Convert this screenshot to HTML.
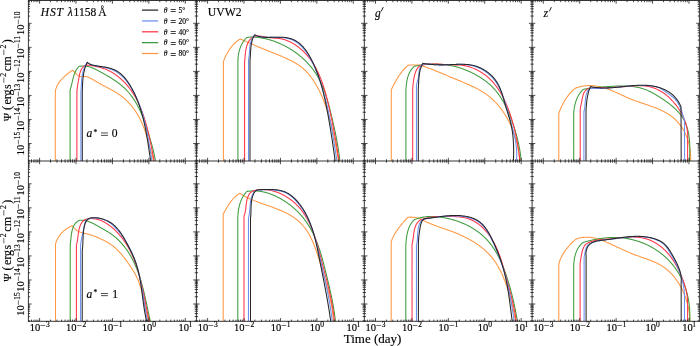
<!DOCTYPE html>
<html><head><meta charset="utf-8"><style>
html,body{margin:0;padding:0;background:#fff;width:700px;height:346px;overflow:hidden;font-family:"Liberation Serif",serif;}
svg{display:block;will-change:transform;}
</style></head><body>
<svg xmlns="http://www.w3.org/2000/svg" width="700" height="346" viewBox="0 0 700 346">
<rect width="700" height="346" fill="#fff"/>
<defs>
<clipPath id="c00"><rect x="28.40" y="0.50" width="168.00" height="160.50"/></clipPath>
<clipPath id="c01"><rect x="196.40" y="0.50" width="167.90" height="160.50"/></clipPath>
<clipPath id="c02"><rect x="364.30" y="0.50" width="167.80" height="160.50"/></clipPath>
<clipPath id="c03"><rect x="532.10" y="0.50" width="167.30" height="160.50"/></clipPath>
<clipPath id="c10"><rect x="28.40" y="161.00" width="168.00" height="160.30"/></clipPath>
<clipPath id="c11"><rect x="196.40" y="161.00" width="167.90" height="160.30"/></clipPath>
<clipPath id="c12"><rect x="364.30" y="161.00" width="167.80" height="160.30"/></clipPath>
<clipPath id="c13"><rect x="532.10" y="161.00" width="167.30" height="160.30"/></clipPath>
</defs>
<g clip-path="url(#c00)" fill="none" stroke-width="1.05" stroke-linejoin="round">
<path d="M55.30,162.00 L55.30,92.00 L55.30,92.00 L55.39,91.29 L55.51,90.58 L55.65,89.89 L55.82,89.22 L56.01,88.55 L56.23,87.89 L56.46,87.25 L56.72,86.62 L57.00,85.99 L57.29,85.38 L57.61,84.78 L57.95,84.18 L58.30,83.60 L58.67,83.03 L59.05,82.46 L59.45,81.91 L59.87,81.36 L60.30,80.82 L60.74,80.30 L61.19,79.77 L61.66,79.26 L62.13,78.75 L62.62,78.26 L63.11,77.76 L63.62,77.28 L64.13,76.80 L64.65,76.33 L65.17,75.87 L65.70,75.41 L66.23,74.96 L66.77,74.51 L67.31,74.07 L67.86,73.63 L68.40,73.20 L68.95,72.77 L69.49,72.35 L70.04,71.93 L70.58,71.52 L71.13,71.11 L71.66,70.70 L72.20,70.30 L72.20,70.30 L72.75,70.63 L73.28,71.02 L73.80,71.47 L74.30,71.95 L74.80,72.45 L75.29,72.97 L75.78,73.49 L76.28,73.99 L76.78,74.48 L77.29,74.94 L77.82,75.34 L78.37,75.69 L78.94,75.98 L79.54,76.18 L80.15,76.33 L80.79,76.41 L81.44,76.46 L82.10,76.48 L82.76,76.49 L83.43,76.49 L84.09,76.50 L84.75,76.53 L85.40,76.59 L86.03,76.69 L86.66,76.82 L87.28,76.98 L87.90,77.16 L88.50,77.37 L89.10,77.60 L89.69,77.85 L90.28,78.12 L90.87,78.41 L91.45,78.72 L92.02,79.03 L92.60,79.36 L93.17,79.70 L93.74,80.04 L94.32,80.39 L94.89,80.74 L95.46,81.10 L96.04,81.45 L96.62,81.80 L97.20,82.15 L97.78,82.49 L98.37,82.83 L98.96,83.16 L99.55,83.50 L100.14,83.83 L100.74,84.15 L101.33,84.48 L101.93,84.80 L102.53,85.13 L103.13,85.45 L103.73,85.77 L104.33,86.08 L104.94,86.40 L105.54,86.72 L106.14,87.03 L106.74,87.35 L107.34,87.67 L107.95,87.99 L108.55,88.30 L109.15,88.62 L109.74,88.94 L110.34,89.26 L110.94,89.59 L111.53,89.91 L112.12,90.24 L112.72,90.57 L113.30,90.90 L113.89,91.24 L114.47,91.58 L115.05,91.92 L115.63,92.26 L116.20,92.61 L116.77,92.97 L117.34,93.32 L117.91,93.69 L118.47,94.05 L119.02,94.43 L119.57,94.80 L120.12,95.19 L120.66,95.58 L121.20,95.97 L121.73,96.37 L122.25,96.78 L122.78,97.19 L123.29,97.61 L123.80,98.04 L124.31,98.47 L124.81,98.91 L125.31,99.35 L125.80,99.80 L126.28,100.26 L126.76,100.72 L127.24,101.18 L127.71,101.65 L128.18,102.13 L128.64,102.61 L129.09,103.10 L129.54,103.59 L129.99,104.09 L130.43,104.59 L130.86,105.10 L131.29,105.61 L131.72,106.12 L132.14,106.64 L132.55,107.17 L132.96,107.70 L133.37,108.23 L133.77,108.77 L134.16,109.31 L134.55,109.85 L134.94,110.40 L135.32,110.96 L135.69,111.52 L136.06,112.08 L136.42,112.64 L136.78,113.21 L137.14,113.78 L137.49,114.36 L137.83,114.94 L138.17,115.52 L138.51,116.10 L138.83,116.69 L139.16,117.28 L139.48,117.88 L139.79,118.48 L140.10,119.08 L140.41,119.68 L140.71,120.28 L141.00,120.89 L141.29,121.50 L141.57,122.11 L141.85,122.73 L142.13,123.35 L142.40,123.97 L142.66,124.59 L142.92,125.21 L143.18,125.84 L143.43,126.46 L143.67,127.09 L143.91,127.72 L144.14,128.35 L144.37,128.99 L144.60,129.62 L144.82,130.26 L145.03,130.90 L145.24,131.53 L145.45,132.17 L145.65,132.81 L145.85,133.46 L146.04,134.10 L146.23,134.74 L146.42,135.39 L146.60,136.03 L146.78,136.68 L146.96,137.32 L147.14,137.97 L147.32,138.61 L147.49,139.26 L147.66,139.91 L147.84,140.56 L148.01,141.20 L148.18,141.85 L148.36,142.50 L148.53,143.15 L148.71,143.79 L148.89,144.44 L149.06,145.09 L149.24,145.73 L149.43,146.38 L149.61,147.02 L149.80,147.67 L149.99,148.31 L150.19,148.95 L150.39,149.60 L150.59,150.24 L150.80,150.88 L151.01,151.52 L151.22,152.16 L151.43,152.80 L151.64,153.44 L151.84,154.08 L152.04,154.73 L152.23,155.37 L152.41,156.02 L152.58,156.67 L152.74,157.32 L152.89,157.98 L153.02,158.64 L153.14,159.30 L153.23,159.97 L153.31,160.64 L153.37,161.32 L153.40,162.00" stroke="#ff9740"/>
<path d="M70.10,162.00 L70.10,90.00 L70.10,90.00 L70.31,89.36 L70.52,88.72 L70.71,88.07 L70.90,87.42 L71.08,86.76 L71.25,86.10 L71.41,85.43 L71.58,84.76 L71.73,84.09 L71.89,83.41 L72.04,82.74 L72.20,82.06 L72.35,81.38 L72.51,80.71 L72.67,80.03 L72.83,79.36 L73.00,78.68 L73.17,78.01 L73.35,77.35 L73.54,76.68 L73.74,76.02 L73.95,75.37 L74.16,74.72 L74.39,74.07 L74.63,73.44 L74.89,72.81 L75.16,72.19 L75.44,71.57 L75.75,70.97 L76.07,70.37 L76.41,69.78 L76.77,69.21 L77.15,68.64 L77.55,68.09 L77.98,67.55 L78.43,67.02 L78.90,66.50 L78.90,66.50 L79.60,66.34 L80.30,66.21 L80.99,66.11 L81.68,66.03 L82.35,65.98 L83.02,65.95 L83.69,65.95 L84.34,65.97 L84.99,66.01 L85.64,66.07 L86.28,66.15 L86.92,66.25 L87.55,66.37 L88.18,66.51 L88.80,66.67 L89.42,66.84 L90.03,67.02 L90.65,67.23 L91.26,67.44 L91.86,67.67 L92.47,67.91 L93.07,68.16 L93.66,68.42 L94.26,68.69 L94.86,68.97 L95.45,69.26 L96.04,69.56 L96.64,69.86 L97.23,70.17 L97.82,70.48 L98.41,70.80 L99.00,71.12 L99.59,71.44 L100.19,71.76 L100.78,72.09 L101.37,72.41 L101.97,72.74 L102.56,73.07 L103.15,73.40 L103.75,73.73 L104.34,74.07 L104.94,74.40 L105.53,74.74 L106.12,75.08 L106.72,75.42 L107.31,75.76 L107.90,76.11 L108.49,76.46 L109.07,76.81 L109.66,77.16 L110.24,77.52 L110.83,77.88 L111.41,78.24 L111.98,78.60 L112.56,78.97 L113.13,79.34 L113.70,79.71 L114.27,80.09 L114.84,80.47 L115.40,80.85 L115.96,81.24 L116.51,81.63 L117.06,82.02 L117.61,82.42 L118.16,82.82 L118.70,83.22 L119.23,83.63 L119.76,84.04 L120.29,84.46 L120.81,84.88 L121.33,85.30 L121.84,85.73 L122.35,86.17 L122.85,86.60 L123.35,87.05 L123.84,87.49 L124.33,87.95 L124.81,88.40 L125.28,88.87 L125.75,89.33 L126.21,89.80 L126.67,90.28 L127.12,90.76 L127.57,91.25 L128.01,91.74 L128.44,92.23 L128.87,92.73 L129.29,93.23 L129.71,93.74 L130.12,94.25 L130.53,94.77 L130.93,95.29 L131.33,95.81 L131.72,96.34 L132.11,96.87 L132.49,97.41 L132.87,97.95 L133.24,98.49 L133.60,99.04 L133.97,99.59 L134.33,100.14 L134.68,100.70 L135.03,101.26 L135.37,101.82 L135.71,102.39 L136.05,102.96 L136.38,103.53 L136.71,104.11 L137.03,104.69 L137.35,105.27 L137.66,105.86 L137.98,106.45 L138.28,107.04 L138.59,107.63 L138.89,108.23 L139.18,108.83 L139.47,109.43 L139.76,110.03 L140.05,110.64 L140.33,111.24 L140.61,111.85 L140.88,112.47 L141.15,113.08 L141.42,113.70 L141.69,114.32 L141.95,114.94 L142.21,115.56 L142.46,116.18 L142.72,116.81 L142.97,117.43 L143.22,118.06 L143.46,118.69 L143.70,119.32 L143.94,119.96 L144.18,120.59 L144.41,121.23 L144.65,121.86 L144.87,122.50 L145.10,123.14 L145.33,123.78 L145.55,124.42 L145.77,125.06 L145.99,125.70 L146.21,126.35 L146.42,126.99 L146.63,127.64 L146.84,128.28 L147.05,128.93 L147.26,129.57 L147.47,130.22 L147.67,130.86 L147.87,131.51 L148.08,132.16 L148.28,132.80 L148.47,133.45 L148.67,134.10 L148.87,134.74 L149.06,135.39 L149.26,136.03 L149.45,136.68 L149.64,137.33 L149.83,137.97 L150.02,138.61 L150.21,139.26 L150.40,139.90 L150.59,140.54 L150.77,141.18 L150.96,141.83 L151.15,142.47 L151.33,143.11 L151.51,143.75 L151.69,144.39 L151.87,145.03 L152.05,145.67 L152.23,146.31 L152.40,146.95 L152.57,147.59 L152.74,148.23 L152.91,148.87 L153.07,149.52 L153.23,150.16 L153.39,150.80 L153.55,151.45 L153.70,152.10 L153.85,152.74 L153.99,153.39 L154.14,154.04 L154.27,154.70 L154.41,155.35 L154.54,156.00 L154.66,156.66 L154.79,157.32 L154.90,157.98 L155.01,158.65 L155.12,159.31 L155.22,159.98 L155.32,160.65 L155.41,161.32 L155.50,162.00" stroke="#3d9b3d"/>
<path d="M76.90,162.00 L76.90,92.00 L76.90,92.00 L76.94,91.27 L76.98,90.56 L77.04,89.86 L77.10,89.19 L77.18,88.53 L77.26,87.88 L77.34,87.24 L77.43,86.61 L77.53,85.99 L77.64,85.37 L77.74,84.75 L77.85,84.13 L77.96,83.51 L78.08,82.88 L78.19,82.24 L78.31,81.60 L78.42,80.95 L78.54,80.28 L78.65,79.60 L78.76,78.90 L78.88,78.20 L79.00,77.49 L79.12,76.77 L79.26,76.06 L79.40,75.34 L79.55,74.63 L79.72,73.93 L79.90,73.23 L80.09,72.54 L80.31,71.87 L80.54,71.22 L80.80,70.58 L81.08,69.96 L81.38,69.36 L81.71,68.80 L82.06,68.26 L82.45,67.75 L82.86,67.27 L83.30,66.84 L83.76,66.45 L84.24,66.10 L84.76,65.80 L85.29,65.56 L85.85,65.36 L86.43,65.23 L87.03,65.16 L87.65,65.14 L88.28,65.16 L88.93,65.22 L89.58,65.30 L90.24,65.40 L90.90,65.51 L91.56,65.62 L92.22,65.73 L92.88,65.85 L93.54,65.97 L94.20,66.10 L94.86,66.23 L95.52,66.36 L96.18,66.50 L96.83,66.64 L97.49,66.79 L98.14,66.95 L98.79,67.11 L99.44,67.28 L100.09,67.45 L100.74,67.63 L101.38,67.82 L102.02,68.01 L102.66,68.21 L103.30,68.42 L103.93,68.64 L104.56,68.87 L105.19,69.10 L105.82,69.35 L106.44,69.60 L107.06,69.86 L107.67,70.13 L108.28,70.42 L108.89,70.71 L109.50,71.01 L110.10,71.32 L110.69,71.64 L111.29,71.97 L111.88,72.31 L112.46,72.66 L113.04,73.01 L113.61,73.37 L114.19,73.74 L114.75,74.12 L115.31,74.51 L115.87,74.90 L116.42,75.30 L116.97,75.71 L117.51,76.12 L118.05,76.54 L118.58,76.96 L119.11,77.39 L119.63,77.82 L120.15,78.26 L120.66,78.71 L121.16,79.16 L121.66,79.61 L122.15,80.07 L122.64,80.53 L123.12,81.00 L123.60,81.47 L124.07,81.95 L124.53,82.43 L124.99,82.91 L125.44,83.40 L125.89,83.89 L126.33,84.38 L126.77,84.88 L127.20,85.38 L127.63,85.89 L128.05,86.40 L128.47,86.91 L128.88,87.43 L129.28,87.95 L129.68,88.47 L130.08,89.00 L130.47,89.53 L130.86,90.06 L131.24,90.60 L131.61,91.14 L131.98,91.68 L132.35,92.23 L132.71,92.78 L133.07,93.33 L133.42,93.89 L133.77,94.45 L134.12,95.01 L134.45,95.57 L134.79,96.14 L135.12,96.71 L135.45,97.29 L135.77,97.86 L136.09,98.44 L136.40,99.02 L136.71,99.61 L137.01,100.19 L137.31,100.78 L137.61,101.37 L137.91,101.97 L138.19,102.57 L138.48,103.16 L138.76,103.77 L139.04,104.37 L139.31,104.97 L139.59,105.58 L139.85,106.19 L140.12,106.81 L140.38,107.42 L140.63,108.04 L140.89,108.65 L141.13,109.27 L141.38,109.90 L141.62,110.52 L141.86,111.15 L142.10,111.77 L142.33,112.40 L142.56,113.03 L142.79,113.67 L143.02,114.30 L143.24,114.94 L143.46,115.57 L143.67,116.21 L143.88,116.85 L144.09,117.49 L144.30,118.14 L144.51,118.78 L144.71,119.43 L144.91,120.07 L145.10,120.72 L145.30,121.37 L145.49,122.02 L145.68,122.67 L145.87,123.32 L146.05,123.98 L146.23,124.63 L146.41,125.28 L146.59,125.94 L146.77,126.60 L146.94,127.25 L147.11,127.91 L147.28,128.57 L147.45,129.23 L147.62,129.89 L147.78,130.55 L147.94,131.21 L148.10,131.87 L148.26,132.53 L148.42,133.19 L148.58,133.85 L148.73,134.52 L148.88,135.18 L149.03,135.84 L149.18,136.50 L149.33,137.17 L149.48,137.83 L149.62,138.49 L149.77,139.16 L149.91,139.82 L150.05,140.48 L150.19,141.14 L150.33,141.81 L150.47,142.47 L150.61,143.13 L150.75,143.79 L150.88,144.45 L151.02,145.11 L151.15,145.77 L151.29,146.43 L151.42,147.09 L151.55,147.75 L151.68,148.41 L151.82,149.07 L151.95,149.72 L152.08,150.38 L152.21,151.03 L152.34,151.69 L152.47,152.34 L152.60,152.99 L152.72,153.64 L152.85,154.29 L152.98,154.94 L153.11,155.59 L153.24,156.24 L153.37,156.88 L153.50,157.53 L153.62,158.17 L153.75,158.81 L153.88,159.45 L154.01,160.09 L154.14,160.73 L154.27,161.37 L154.40,162.00" stroke="#ff3344"/>
<path d="M80.90,162.00 L80.90,92.00 L80.90,92.00 L80.95,91.33 L81.00,90.66 L81.04,89.99 L81.08,89.31 L81.12,88.62 L81.16,87.93 L81.19,87.24 L81.23,86.55 L81.27,85.85 L81.30,85.15 L81.34,84.44 L81.38,83.74 L81.42,83.04 L81.46,82.33 L81.51,81.62 L81.56,80.92 L81.62,80.21 L81.68,79.50 L81.75,78.80 L81.83,78.10 L81.91,77.40 L82.00,76.70 L82.10,76.00 L82.21,75.31 L82.33,74.62 L82.46,73.93 L82.60,73.25 L82.75,72.57 L82.91,71.90 L83.08,71.23 L83.27,70.57 L83.48,69.91 L83.69,69.26 L83.93,68.62 L84.17,67.98 L84.44,67.35 L84.72,66.73 L85.02,66.12 L85.34,65.52 L85.67,64.92 L86.03,64.34 L86.40,63.76 L86.80,63.20 L87.00,63.10 L87.59,63.36 L88.18,63.61 L88.79,63.84 L89.40,64.06 L90.02,64.27 L90.65,64.46 L91.28,64.65 L91.92,64.82 L92.57,64.99 L93.22,65.15 L93.87,65.30 L94.53,65.45 L95.19,65.59 L95.86,65.73 L96.52,65.86 L97.19,65.99 L97.87,66.12 L98.54,66.24 L99.22,66.37 L99.89,66.49 L100.57,66.62 L101.24,66.75 L101.92,66.88 L102.59,67.01 L103.26,67.15 L103.93,67.30 L104.60,67.45 L105.27,67.60 L105.93,67.76 L106.59,67.93 L107.25,68.10 L107.90,68.28 L108.55,68.47 L109.19,68.67 L109.83,68.88 L110.46,69.10 L111.09,69.32 L111.71,69.56 L112.32,69.81 L112.93,70.07 L113.53,70.34 L114.13,70.62 L114.71,70.91 L115.29,71.22 L115.86,71.54 L116.43,71.88 L116.98,72.22 L117.53,72.58 L118.07,72.95 L118.60,73.33 L119.13,73.73 L119.65,74.13 L120.16,74.54 L120.66,74.96 L121.16,75.40 L121.65,75.84 L122.14,76.29 L122.61,76.75 L123.08,77.22 L123.55,77.70 L124.01,78.19 L124.46,78.68 L124.90,79.18 L125.34,79.69 L125.77,80.20 L126.20,80.72 L126.62,81.25 L127.03,81.78 L127.44,82.32 L127.85,82.87 L128.24,83.42 L128.64,83.97 L129.02,84.53 L129.41,85.09 L129.78,85.65 L130.15,86.22 L130.52,86.80 L130.88,87.37 L131.24,87.95 L131.59,88.53 L131.94,89.11 L132.28,89.69 L132.62,90.28 L132.95,90.87 L133.28,91.46 L133.60,92.05 L133.92,92.64 L134.24,93.24 L134.55,93.83 L134.86,94.43 L135.16,95.03 L135.46,95.64 L135.75,96.24 L136.04,96.85 L136.33,97.46 L136.61,98.07 L136.89,98.68 L137.16,99.29 L137.44,99.91 L137.70,100.52 L137.96,101.14 L138.22,101.76 L138.48,102.38 L138.73,103.00 L138.98,103.63 L139.22,104.25 L139.46,104.88 L139.70,105.51 L139.94,106.14 L140.17,106.77 L140.39,107.40 L140.62,108.03 L140.84,108.67 L141.06,109.30 L141.27,109.94 L141.48,110.58 L141.69,111.22 L141.90,111.86 L142.10,112.50 L142.30,113.14 L142.49,113.79 L142.69,114.43 L142.88,115.08 L143.07,115.73 L143.25,116.37 L143.43,117.02 L143.61,117.67 L143.79,118.32 L143.97,118.98 L144.14,119.63 L144.31,120.28 L144.48,120.94 L144.64,121.59 L144.81,122.25 L144.97,122.90 L145.12,123.56 L145.28,124.22 L145.44,124.88 L145.59,125.54 L145.74,126.19 L145.89,126.86 L146.03,127.52 L146.18,128.18 L146.32,128.84 L146.46,129.50 L146.60,130.16 L146.74,130.83 L146.87,131.49 L147.01,132.15 L147.14,132.82 L147.27,133.48 L147.40,134.15 L147.53,134.81 L147.65,135.48 L147.78,136.14 L147.90,136.81 L148.03,137.47 L148.15,138.14 L148.27,138.81 L148.39,139.47 L148.51,140.14 L148.62,140.81 L148.74,141.47 L148.85,142.14 L148.97,142.80 L149.08,143.47 L149.20,144.14 L149.31,144.80 L149.42,145.47 L149.53,146.13 L149.64,146.80 L149.75,147.47 L149.86,148.13 L149.97,148.80 L150.07,149.46 L150.18,150.12 L150.29,150.79 L150.39,151.45 L150.50,152.11 L150.61,152.78 L150.71,153.44 L150.82,154.10 L150.93,154.76 L151.03,155.42 L151.14,156.08 L151.24,156.74 L151.35,157.40 L151.46,158.06 L151.56,158.72 L151.67,159.38 L151.78,160.03 L151.88,160.69 L151.99,161.35 L152.10,162.00" stroke="#6a8ff0"/>
<path d="M82.30,162.00 L82.30,92.00 L82.30,92.00 L82.32,91.32 L82.34,90.64 L82.36,89.96 L82.38,89.28 L82.40,88.59 L82.42,87.91 L82.44,87.22 L82.47,86.53 L82.49,85.84 L82.52,85.15 L82.55,84.46 L82.59,83.77 L82.63,83.08 L82.67,82.39 L82.71,81.70 L82.76,81.01 L82.82,80.32 L82.88,79.64 L82.94,78.95 L83.01,78.26 L83.09,77.57 L83.17,76.89 L83.26,76.21 L83.35,75.52 L83.45,74.84 L83.56,74.16 L83.68,73.49 L83.81,72.81 L83.94,72.14 L84.09,71.47 L84.24,70.80 L84.40,70.13 L84.57,69.47 L84.75,68.81 L84.95,68.15 L85.15,67.50 L85.36,66.85 L85.59,66.20 L85.83,65.56 L86.08,64.92 L86.34,64.28 L86.61,63.65 L86.90,63.02 L87.20,62.40 L87.20,62.20 L87.73,62.62 L88.27,63.01 L88.82,63.37 L89.38,63.70 L89.96,64.01 L90.54,64.28 L91.13,64.54 L91.74,64.77 L92.35,64.98 L92.97,65.17 L93.60,65.34 L94.23,65.50 L94.88,65.64 L95.52,65.77 L96.18,65.89 L96.84,66.00 L97.50,66.10 L98.17,66.20 L98.84,66.29 L99.52,66.37 L100.20,66.46 L100.88,66.54 L101.56,66.63 L102.25,66.72 L102.93,66.82 L103.62,66.92 L104.30,67.03 L104.99,67.14 L105.67,67.26 L106.35,67.39 L107.03,67.53 L107.71,67.67 L108.38,67.83 L109.05,67.99 L109.71,68.17 L110.37,68.35 L111.02,68.55 L111.66,68.75 L112.30,68.97 L112.93,69.21 L113.56,69.45 L114.17,69.71 L114.77,69.99 L115.37,70.28 L115.95,70.58 L116.53,70.90 L117.10,71.23 L117.65,71.57 L118.20,71.93 L118.74,72.30 L119.27,72.69 L119.79,73.08 L120.30,73.49 L120.81,73.91 L121.30,74.34 L121.79,74.78 L122.27,75.23 L122.74,75.69 L123.20,76.17 L123.66,76.65 L124.11,77.14 L124.55,77.63 L124.98,78.14 L125.41,78.65 L125.83,79.18 L126.24,79.71 L126.65,80.24 L127.05,80.78 L127.44,81.33 L127.83,81.89 L128.21,82.45 L128.59,83.01 L128.96,83.58 L129.32,84.15 L129.68,84.73 L130.04,85.31 L130.38,85.90 L130.73,86.49 L131.07,87.08 L131.40,87.67 L131.73,88.27 L132.06,88.86 L132.38,89.46 L132.69,90.06 L133.00,90.66 L133.31,91.26 L133.62,91.87 L133.92,92.47 L134.21,93.08 L134.50,93.69 L134.79,94.30 L135.07,94.91 L135.35,95.52 L135.63,96.13 L135.90,96.75 L136.17,97.37 L136.43,97.98 L136.69,98.60 L136.95,99.22 L137.20,99.84 L137.45,100.47 L137.69,101.09 L137.94,101.71 L138.18,102.34 L138.41,102.97 L138.64,103.60 L138.87,104.23 L139.10,104.86 L139.32,105.49 L139.54,106.12 L139.75,106.75 L139.96,107.39 L140.17,108.03 L140.38,108.66 L140.58,109.30 L140.78,109.94 L140.98,110.58 L141.17,111.22 L141.36,111.86 L141.55,112.50 L141.74,113.15 L141.92,113.79 L142.10,114.44 L142.28,115.08 L142.46,115.73 L142.63,116.38 L142.80,117.02 L142.97,117.67 L143.13,118.32 L143.29,118.97 L143.45,119.62 L143.61,120.28 L143.77,120.93 L143.92,121.58 L144.07,122.24 L144.22,122.89 L144.37,123.55 L144.52,124.20 L144.66,124.86 L144.80,125.51 L144.94,126.17 L145.08,126.83 L145.21,127.49 L145.35,128.15 L145.48,128.81 L145.61,129.47 L145.74,130.13 L145.87,130.79 L145.99,131.45 L146.12,132.11 L146.24,132.77 L146.36,133.43 L146.48,134.10 L146.60,134.76 L146.71,135.42 L146.83,136.09 L146.95,136.75 L147.06,137.41 L147.17,138.08 L147.28,138.74 L147.39,139.41 L147.50,140.07 L147.61,140.74 L147.72,141.40 L147.82,142.07 L147.93,142.73 L148.03,143.40 L148.14,144.06 L148.24,144.73 L148.34,145.39 L148.44,146.06 L148.54,146.72 L148.64,147.39 L148.74,148.06 L148.84,148.72 L148.94,149.39 L149.04,150.05 L149.14,150.72 L149.24,151.38 L149.34,152.05 L149.43,152.71 L149.53,153.38 L149.63,154.04 L149.73,154.71 L149.82,155.37 L149.92,156.04 L150.02,156.70 L150.11,157.36 L150.21,158.03 L150.31,158.69 L150.41,159.35 L150.50,160.01 L150.60,160.68 L150.70,161.34 L150.80,162.00" stroke="#262626"/>
</g>
<g clip-path="url(#c01)" fill="none" stroke-width="1.05" stroke-linejoin="round">
<path d="M223.40,162.00 L223.40,61.50 L223.40,61.50 L223.64,60.86 L223.89,60.22 L224.14,59.58 L224.41,58.94 L224.68,58.30 L224.96,57.66 L225.24,57.03 L225.54,56.39 L225.85,55.76 L226.16,55.13 L226.48,54.51 L226.81,53.89 L227.15,53.27 L227.49,52.66 L227.85,52.05 L228.21,51.44 L228.58,50.84 L228.97,50.25 L229.35,49.66 L229.75,49.08 L230.16,48.51 L230.58,47.94 L231.00,47.38 L231.43,46.83 L231.88,46.29 L232.33,45.76 L232.79,45.23 L233.26,44.71 L233.74,44.21 L234.22,43.71 L234.72,43.22 L235.23,42.75 L235.74,42.28 L236.27,41.83 L236.80,41.39 L237.34,40.96 L237.89,40.54 L238.46,40.13 L239.03,39.74 L239.61,39.36 L240.20,39.00 L240.20,39.00 L240.82,39.26 L241.44,39.52 L242.06,39.78 L242.67,40.04 L243.29,40.31 L243.91,40.57 L244.52,40.84 L245.14,41.10 L245.75,41.37 L246.36,41.64 L246.98,41.90 L247.59,42.17 L248.20,42.44 L248.81,42.71 L249.42,42.97 L250.04,43.24 L250.65,43.51 L251.26,43.78 L251.87,44.05 L252.48,44.31 L253.09,44.58 L253.70,44.85 L254.31,45.11 L254.93,45.38 L255.54,45.65 L256.15,45.91 L256.76,46.17 L257.38,46.44 L257.99,46.70 L258.60,46.96 L259.22,47.22 L259.83,47.48 L260.45,47.74 L261.06,48.00 L261.68,48.26 L262.30,48.51 L262.92,48.77 L263.54,49.02 L264.16,49.28 L264.78,49.53 L265.40,49.78 L266.02,50.03 L266.64,50.28 L267.26,50.53 L267.88,50.79 L268.50,51.04 L269.13,51.29 L269.75,51.54 L270.37,51.79 L271.00,52.04 L271.62,52.29 L272.25,52.54 L272.87,52.79 L273.49,53.04 L274.12,53.29 L274.74,53.54 L275.37,53.79 L275.99,54.05 L276.62,54.30 L277.24,54.55 L277.87,54.81 L278.50,55.07 L279.12,55.32 L279.75,55.58 L280.37,55.84 L280.99,56.10 L281.62,56.36 L282.24,56.62 L282.86,56.89 L283.48,57.16 L284.10,57.43 L284.72,57.70 L285.34,57.97 L285.96,58.25 L286.57,58.53 L287.18,58.81 L287.79,59.09 L288.40,59.38 L289.01,59.67 L289.61,59.97 L290.21,60.26 L290.81,60.57 L291.41,60.87 L292.00,61.18 L292.59,61.50 L293.18,61.81 L293.76,62.14 L294.34,62.46 L294.92,62.79 L295.49,63.13 L296.06,63.47 L296.62,63.82 L297.18,64.17 L297.74,64.53 L298.29,64.89 L298.84,65.26 L299.38,65.63 L299.92,66.02 L300.45,66.40 L300.98,66.80 L301.50,67.20 L302.01,67.60 L302.52,68.02 L303.03,68.44 L303.53,68.86 L304.02,69.30 L304.51,69.74 L304.99,70.19 L305.46,70.64 L305.93,71.11 L306.40,71.58 L306.85,72.05 L307.30,72.54 L307.75,73.03 L308.19,73.52 L308.62,74.03 L309.05,74.53 L309.48,75.05 L309.89,75.57 L310.31,76.09 L310.71,76.62 L311.12,77.15 L311.51,77.69 L311.90,78.24 L312.29,78.78 L312.67,79.34 L313.05,79.89 L313.43,80.45 L313.79,81.02 L314.16,81.58 L314.52,82.15 L314.87,82.73 L315.22,83.31 L315.57,83.89 L315.91,84.47 L316.25,85.05 L316.58,85.64 L316.92,86.23 L317.24,86.82 L317.56,87.41 L317.88,88.01 L318.20,88.61 L318.51,89.21 L318.82,89.81 L319.12,90.41 L319.42,91.01 L319.72,91.62 L320.01,92.23 L320.30,92.84 L320.59,93.45 L320.87,94.06 L321.15,94.68 L321.43,95.29 L321.70,95.91 L321.97,96.53 L322.24,97.15 L322.51,97.77 L322.77,98.39 L323.02,99.01 L323.28,99.63 L323.53,100.26 L323.78,100.89 L324.03,101.51 L324.27,102.14 L324.51,102.77 L324.75,103.40 L324.98,104.03 L325.22,104.66 L325.45,105.29 L325.67,105.92 L325.90,106.56 L326.12,107.19 L326.34,107.82 L326.56,108.46 L326.77,109.09 L326.98,109.73 L327.19,110.37 L327.40,111.00 L327.61,111.64 L327.81,112.28 L328.01,112.92 L328.21,113.56 L328.40,114.20 L328.60,114.84 L328.79,115.48 L328.98,116.12 L329.17,116.76 L329.35,117.40 L329.54,118.05 L329.72,118.69 L329.90,119.33 L330.07,119.98 L330.25,120.62 L330.42,121.27 L330.59,121.92 L330.76,122.56 L330.93,123.21 L331.10,123.86 L331.26,124.50 L331.43,125.15 L331.59,125.80 L331.75,126.45 L331.90,127.10 L332.06,127.75 L332.21,128.40 L332.37,129.05 L332.52,129.70 L332.67,130.35 L332.82,131.01 L332.96,131.66 L333.11,132.31 L333.25,132.96 L333.39,133.62 L333.53,134.27 L333.67,134.93 L333.81,135.58 L333.95,136.24 L334.09,136.89 L334.22,137.55 L334.35,138.20 L334.49,138.86 L334.62,139.52 L334.75,140.17 L334.88,140.83 L335.00,141.49 L335.13,142.15 L335.26,142.81 L335.38,143.46 L335.51,144.12 L335.63,144.78 L335.75,145.44 L335.87,146.10 L335.99,146.76 L336.11,147.42 L336.23,148.08 L336.35,148.74 L336.47,149.40 L336.58,150.07 L336.70,150.73 L336.82,151.39 L336.93,152.05 L337.05,152.71 L337.16,153.37 L337.27,154.04 L337.38,154.70 L337.50,155.36 L337.61,156.03 L337.72,156.69 L337.83,157.35 L337.94,158.02 L338.05,158.68 L338.16,159.34 L338.27,160.01 L338.38,160.67 L338.49,161.34 L338.60,162.00" stroke="#ff9740"/>
<path d="M237.90,162.00 L237.90,61.50 L237.90,61.50 L237.91,60.81 L237.92,60.12 L237.95,59.43 L237.99,58.74 L238.04,58.05 L238.10,57.36 L238.17,56.67 L238.25,55.98 L238.34,55.29 L238.45,54.61 L238.57,53.92 L238.69,53.24 L238.83,52.56 L238.99,51.88 L239.15,51.21 L239.33,50.54 L239.52,49.87 L239.72,49.21 L239.94,48.55 L240.17,47.90 L240.42,47.25 L240.67,46.61 L240.94,45.98 L241.23,45.35 L241.53,44.74 L241.84,44.12 L242.17,43.52 L242.52,42.92 L242.87,42.34 L243.25,41.76 L243.64,41.19 L244.04,40.63 L244.46,40.08 L244.90,39.54 L245.35,39.01 L245.81,38.50 L246.30,37.99 L246.80,37.50 L246.80,37.50 L247.46,37.40 L248.13,37.31 L248.79,37.23 L249.45,37.17 L250.12,37.13 L250.78,37.10 L251.44,37.07 L252.10,37.07 L252.77,37.07 L253.43,37.08 L254.09,37.10 L254.75,37.14 L255.41,37.18 L256.07,37.23 L256.73,37.29 L257.39,37.35 L258.05,37.42 L258.70,37.50 L259.36,37.58 L260.02,37.68 L260.67,37.78 L261.33,37.88 L261.98,37.99 L262.64,38.11 L263.29,38.24 L263.94,38.37 L264.59,38.51 L265.24,38.65 L265.89,38.80 L266.54,38.96 L267.19,39.12 L267.84,39.29 L268.48,39.47 L269.12,39.65 L269.77,39.83 L270.41,40.03 L271.05,40.23 L271.69,40.43 L272.32,40.64 L272.96,40.85 L273.59,41.07 L274.22,41.30 L274.85,41.53 L275.48,41.76 L276.11,42.00 L276.74,42.25 L277.36,42.50 L277.98,42.76 L278.60,43.02 L279.22,43.28 L279.84,43.55 L280.45,43.83 L281.06,44.11 L281.67,44.39 L282.28,44.68 L282.89,44.97 L283.49,45.27 L284.09,45.57 L284.69,45.88 L285.29,46.19 L285.88,46.51 L286.47,46.83 L287.06,47.15 L287.65,47.48 L288.23,47.82 L288.82,48.15 L289.39,48.50 L289.97,48.84 L290.54,49.19 L291.11,49.55 L291.68,49.91 L292.25,50.27 L292.81,50.64 L293.37,51.02 L293.92,51.39 L294.48,51.77 L295.03,52.16 L295.57,52.55 L296.12,52.94 L296.66,53.34 L297.19,53.74 L297.73,54.15 L298.26,54.56 L298.78,54.97 L299.31,55.39 L299.83,55.82 L300.34,56.24 L300.86,56.67 L301.37,57.11 L301.87,57.54 L302.37,57.99 L302.87,58.43 L303.36,58.88 L303.85,59.34 L304.34,59.79 L304.82,60.25 L305.30,60.72 L305.77,61.19 L306.24,61.66 L306.71,62.14 L307.17,62.62 L307.63,63.10 L308.08,63.59 L308.53,64.08 L308.98,64.57 L309.42,65.07 L309.85,65.57 L310.28,66.08 L310.71,66.59 L311.13,67.10 L311.55,67.62 L311.96,68.14 L312.37,68.66 L312.77,69.19 L313.17,69.72 L313.57,70.25 L313.95,70.79 L314.34,71.33 L314.72,71.87 L315.09,72.42 L315.46,72.97 L315.82,73.52 L316.18,74.08 L316.53,74.64 L316.88,75.20 L317.23,75.76 L317.56,76.33 L317.90,76.91 L318.22,77.48 L318.54,78.06 L318.86,78.64 L319.17,79.23 L319.48,79.81 L319.79,80.40 L320.08,80.99 L320.38,81.59 L320.67,82.19 L320.95,82.79 L321.23,83.39 L321.51,83.99 L321.78,84.60 L322.05,85.21 L322.31,85.82 L322.57,86.44 L322.83,87.05 L323.08,87.67 L323.33,88.29 L323.57,88.91 L323.82,89.54 L324.05,90.16 L324.29,90.79 L324.52,91.42 L324.75,92.05 L324.97,92.69 L325.19,93.32 L325.41,93.96 L325.62,94.59 L325.84,95.23 L326.05,95.87 L326.25,96.51 L326.46,97.15 L326.66,97.80 L326.86,98.44 L327.05,99.09 L327.25,99.74 L327.44,100.38 L327.63,101.03 L327.81,101.68 L328.00,102.33 L328.18,102.98 L328.36,103.63 L328.54,104.29 L328.72,104.94 L328.89,105.59 L329.07,106.24 L329.24,106.90 L329.41,107.55 L329.58,108.21 L329.75,108.86 L329.91,109.52 L330.08,110.17 L330.24,110.83 L330.41,111.48 L330.57,112.14 L330.73,112.79 L330.89,113.44 L331.05,114.10 L331.21,114.75 L331.37,115.41 L331.52,116.06 L331.68,116.71 L331.84,117.36 L331.99,118.02 L332.15,118.67 L332.30,119.32 L332.45,119.97 L332.61,120.62 L332.76,121.27 L332.91,121.92 L333.06,122.57 L333.21,123.22 L333.36,123.87 L333.51,124.52 L333.65,125.17 L333.80,125.82 L333.95,126.47 L334.09,127.12 L334.23,127.77 L334.38,128.42 L334.52,129.07 L334.66,129.72 L334.80,130.37 L334.94,131.02 L335.07,131.66 L335.21,132.31 L335.35,132.96 L335.48,133.61 L335.61,134.26 L335.75,134.92 L335.88,135.57 L336.01,136.22 L336.14,136.87 L336.26,137.52 L336.39,138.17 L336.52,138.82 L336.64,139.47 L336.76,140.13 L336.88,140.78 L337.00,141.43 L337.12,142.09 L337.24,142.74 L337.36,143.40 L337.47,144.05 L337.59,144.71 L337.70,145.36 L337.81,146.02 L337.92,146.68 L338.03,147.34 L338.13,147.99 L338.24,148.65 L338.34,149.31 L338.44,149.97 L338.54,150.64 L338.64,151.30 L338.74,151.96 L338.84,152.62 L338.93,153.29 L339.02,153.95 L339.11,154.62 L339.20,155.28 L339.29,155.95 L339.38,156.62 L339.46,157.29 L339.54,157.96 L339.62,158.63 L339.70,159.30 L339.78,159.98 L339.85,160.65 L339.93,161.32 L340.00,162.00" stroke="#3d9b3d"/>
<path d="M244.60,162.00 L244.60,61.50 L244.60,61.50 L244.67,60.89 L244.74,60.27 L244.80,59.63 L244.87,58.99 L244.92,58.34 L244.98,57.68 L245.04,57.01 L245.10,56.34 L245.16,55.66 L245.23,54.98 L245.29,54.29 L245.37,53.60 L245.45,52.91 L245.53,52.21 L245.63,51.52 L245.73,50.83 L245.84,50.13 L245.96,49.44 L246.10,48.76 L246.24,48.08 L246.40,47.40 L246.58,46.73 L246.77,46.06 L246.97,45.40 L247.19,44.75 L247.44,44.11 L247.70,43.48 L247.98,42.87 L248.28,42.26 L248.60,41.67 L248.94,41.10 L249.30,40.55 L249.67,40.03 L250.07,39.53 L250.49,39.05 L250.93,38.60 L251.38,38.19 L251.86,37.80 L252.35,37.46 L252.87,37.15 L253.40,36.88 L253.96,36.65 L254.53,36.46 L255.12,36.31 L255.72,36.19 L256.34,36.10 L256.98,36.05 L257.63,36.02 L258.29,36.02 L258.96,36.04 L259.64,36.09 L260.33,36.15 L261.03,36.23 L261.74,36.33 L262.45,36.43 L263.17,36.55 L263.89,36.67 L264.61,36.80 L265.33,36.94 L266.06,37.07 L266.78,37.20 L267.50,37.33 L268.22,37.46 L268.94,37.57 L269.65,37.68 L270.35,37.77 L271.05,37.85 L271.74,37.91 L272.43,37.97 L273.11,38.02 L273.78,38.07 L274.46,38.11 L275.12,38.15 L275.79,38.19 L276.44,38.24 L277.10,38.29 L277.75,38.34 L278.41,38.41 L279.05,38.49 L279.70,38.59 L280.35,38.69 L280.99,38.81 L281.63,38.94 L282.27,39.09 L282.91,39.25 L283.54,39.41 L284.17,39.60 L284.80,39.79 L285.43,40.00 L286.05,40.21 L286.67,40.44 L287.29,40.68 L287.90,40.93 L288.51,41.19 L289.12,41.46 L289.73,41.74 L290.33,42.03 L290.93,42.33 L291.52,42.64 L292.11,42.96 L292.70,43.29 L293.28,43.63 L293.86,43.97 L294.43,44.33 L295.00,44.69 L295.57,45.06 L296.13,45.44 L296.68,45.83 L297.24,46.23 L297.78,46.63 L298.33,47.04 L298.86,47.45 L299.40,47.87 L299.92,48.30 L300.44,48.74 L300.96,49.18 L301.47,49.63 L301.98,50.08 L302.48,50.54 L302.97,51.00 L303.46,51.47 L303.94,51.95 L304.42,52.42 L304.89,52.91 L305.35,53.39 L305.81,53.88 L306.26,54.38 L306.71,54.88 L307.15,55.38 L307.58,55.89 L308.01,56.40 L308.43,56.92 L308.85,57.44 L309.26,57.96 L309.67,58.48 L310.07,59.01 L310.46,59.55 L310.85,60.09 L311.23,60.63 L311.61,61.17 L311.98,61.72 L312.35,62.27 L312.72,62.82 L313.07,63.38 L313.43,63.94 L313.77,64.51 L314.12,65.07 L314.45,65.64 L314.79,66.22 L315.12,66.79 L315.44,67.37 L315.76,67.96 L316.07,68.54 L316.39,69.13 L316.69,69.72 L316.99,70.31 L317.29,70.91 L317.58,71.50 L317.87,72.10 L318.16,72.71 L318.44,73.31 L318.71,73.92 L318.99,74.53 L319.26,75.14 L319.52,75.75 L319.78,76.37 L320.04,76.99 L320.30,77.61 L320.55,78.23 L320.79,78.86 L321.04,79.48 L321.28,80.11 L321.51,80.74 L321.75,81.37 L321.98,82.00 L322.21,82.64 L322.43,83.27 L322.65,83.91 L322.87,84.55 L323.08,85.19 L323.30,85.83 L323.51,86.47 L323.71,87.12 L323.92,87.76 L324.12,88.41 L324.32,89.06 L324.51,89.70 L324.71,90.35 L324.90,91.00 L325.09,91.65 L325.28,92.31 L325.46,92.96 L325.65,93.61 L325.83,94.27 L326.00,94.92 L326.18,95.58 L326.36,96.23 L326.53,96.89 L326.70,97.54 L326.87,98.20 L327.04,98.86 L327.21,99.51 L327.37,100.17 L327.53,100.83 L327.70,101.49 L327.86,102.14 L328.02,102.80 L328.17,103.46 L328.33,104.12 L328.49,104.77 L328.64,105.43 L328.79,106.09 L328.95,106.74 L329.10,107.40 L329.25,108.05 L329.40,108.71 L329.55,109.37 L329.70,110.02 L329.84,110.68 L329.99,111.33 L330.13,111.99 L330.28,112.64 L330.42,113.29 L330.56,113.95 L330.70,114.60 L330.85,115.26 L330.98,115.91 L331.12,116.56 L331.26,117.22 L331.40,117.87 L331.54,118.52 L331.67,119.18 L331.81,119.83 L331.94,120.48 L332.07,121.14 L332.21,121.79 L332.34,122.44 L332.47,123.10 L332.60,123.75 L332.73,124.40 L332.86,125.06 L332.99,125.71 L333.11,126.36 L333.24,127.02 L333.37,127.67 L333.49,128.32 L333.62,128.98 L333.74,129.63 L333.86,130.28 L333.99,130.94 L334.11,131.59 L334.23,132.25 L334.35,132.90 L334.47,133.55 L334.59,134.21 L334.71,134.86 L334.83,135.52 L334.95,136.17 L335.07,136.83 L335.19,137.49 L335.31,138.14 L335.42,138.80 L335.54,139.45 L335.65,140.11 L335.77,140.77 L335.89,141.42 L336.00,142.08 L336.11,142.74 L336.23,143.40 L336.34,144.06 L336.45,144.72 L336.57,145.38 L336.68,146.03 L336.79,146.69 L336.90,147.35 L337.01,148.02 L337.13,148.68 L337.24,149.34 L337.35,150.00 L337.46,150.66 L337.57,151.33 L337.68,151.99 L337.79,152.65 L337.90,153.32 L338.00,153.98 L338.11,154.65 L338.22,155.31 L338.33,155.98 L338.44,156.65 L338.55,157.31 L338.65,157.98 L338.76,158.65 L338.87,159.32 L338.98,159.99 L339.09,160.66 L339.19,161.33 L339.30,162.00" stroke="#ff3344"/>
<path d="M248.50,162.00 L248.50,60.00 L248.50,60.00 L248.63,59.39 L248.76,58.77 L248.86,58.13 L248.96,57.49 L249.04,56.83 L249.12,56.16 L249.19,55.48 L249.25,54.80 L249.31,54.10 L249.36,53.41 L249.41,52.70 L249.46,52.00 L249.51,51.29 L249.56,50.57 L249.62,49.86 L249.67,49.14 L249.74,48.43 L249.81,47.72 L249.88,47.01 L249.97,46.30 L250.07,45.60 L250.18,44.91 L250.30,44.22 L250.43,43.54 L250.59,42.87 L250.76,42.20 L250.94,41.55 L251.15,40.91 L251.38,40.28 L251.63,39.66 L251.90,39.06 L252.20,38.48 L252.53,37.91 L252.88,37.37 L253.28,36.87 L253.71,36.43 L254.20,36.07 L254.73,35.80 L255.33,35.64 L256.00,35.60 L256.00,35.60 L256.61,35.80 L257.23,35.99 L257.86,36.16 L258.49,36.32 L259.12,36.46 L259.76,36.59 L260.41,36.70 L261.06,36.80 L261.72,36.90 L262.38,36.97 L263.05,37.04 L263.71,37.10 L264.39,37.15 L265.06,37.19 L265.74,37.23 L266.42,37.26 L267.11,37.28 L267.79,37.29 L268.48,37.31 L269.17,37.31 L269.87,37.32 L270.56,37.32 L271.25,37.32 L271.95,37.32 L272.65,37.31 L273.34,37.31 L274.04,37.31 L274.74,37.31 L275.43,37.31 L276.13,37.32 L276.82,37.33 L277.52,37.34 L278.21,37.36 L278.90,37.39 L279.59,37.42 L280.28,37.46 L280.96,37.50 L281.64,37.55 L282.32,37.62 L283.00,37.69 L283.67,37.77 L284.34,37.85 L285.00,37.95 L285.66,38.06 L286.31,38.18 L286.96,38.31 L287.61,38.46 L288.25,38.61 L288.88,38.78 L289.51,38.96 L290.13,39.16 L290.74,39.36 L291.35,39.59 L291.95,39.82 L292.54,40.07 L293.13,40.34 L293.70,40.62 L294.27,40.92 L294.83,41.23 L295.39,41.56 L295.94,41.90 L296.48,42.25 L297.01,42.61 L297.53,42.99 L298.05,43.38 L298.56,43.78 L299.07,44.20 L299.56,44.62 L300.05,45.05 L300.54,45.50 L301.01,45.95 L301.48,46.42 L301.94,46.89 L302.40,47.38 L302.85,47.87 L303.29,48.37 L303.73,48.87 L304.16,49.39 L304.58,49.91 L305.00,50.44 L305.41,50.98 L305.82,51.52 L306.22,52.06 L306.61,52.62 L307.00,53.17 L307.38,53.74 L307.76,54.30 L308.13,54.87 L308.49,55.45 L308.85,56.02 L309.20,56.61 L309.55,57.19 L309.89,57.78 L310.23,58.36 L310.56,58.96 L310.89,59.55 L311.21,60.15 L311.53,60.75 L311.84,61.35 L312.15,61.96 L312.45,62.56 L312.76,63.17 L313.05,63.78 L313.34,64.40 L313.63,65.01 L313.92,65.63 L314.20,66.25 L314.47,66.87 L314.75,67.49 L315.02,68.11 L315.29,68.73 L315.55,69.36 L315.81,69.98 L316.07,70.61 L316.33,71.24 L316.58,71.86 L316.84,72.49 L317.08,73.12 L317.33,73.75 L317.58,74.38 L317.82,75.01 L318.06,75.64 L318.29,76.28 L318.53,76.91 L318.76,77.54 L318.99,78.17 L319.22,78.81 L319.45,79.44 L319.67,80.08 L319.90,80.71 L320.12,81.35 L320.33,81.98 L320.55,82.62 L320.76,83.26 L320.97,83.90 L321.18,84.53 L321.39,85.17 L321.60,85.81 L321.80,86.45 L322.00,87.09 L322.20,87.73 L322.40,88.37 L322.60,89.02 L322.79,89.66 L322.98,90.30 L323.17,90.94 L323.36,91.59 L323.55,92.23 L323.74,92.87 L323.92,93.52 L324.10,94.16 L324.28,94.81 L324.46,95.46 L324.64,96.10 L324.81,96.75 L324.98,97.40 L325.16,98.04 L325.33,98.69 L325.49,99.34 L325.66,99.99 L325.83,100.64 L325.99,101.28 L326.15,101.93 L326.31,102.58 L326.47,103.23 L326.63,103.89 L326.79,104.54 L326.94,105.19 L327.10,105.84 L327.25,106.49 L327.40,107.14 L327.55,107.80 L327.70,108.45 L327.84,109.10 L327.99,109.76 L328.13,110.41 L328.28,111.06 L328.42,111.72 L328.56,112.37 L328.70,113.03 L328.84,113.68 L328.98,114.34 L329.11,115.00 L329.25,115.65 L329.38,116.31 L329.51,116.96 L329.65,117.62 L329.78,118.28 L329.91,118.94 L330.04,119.59 L330.16,120.25 L330.29,120.91 L330.42,121.57 L330.54,122.23 L330.67,122.89 L330.79,123.55 L330.91,124.20 L331.03,124.86 L331.15,125.52 L331.27,126.18 L331.39,126.84 L331.51,127.50 L331.63,128.16 L331.75,128.83 L331.86,129.49 L331.98,130.15 L332.09,130.81 L332.21,131.47 L332.32,132.13 L332.44,132.79 L332.55,133.45 L332.66,134.12 L332.77,134.78 L332.88,135.44 L332.99,136.10 L333.10,136.77 L333.21,137.43 L333.32,138.09 L333.43,138.75 L333.54,139.42 L333.64,140.08 L333.75,140.74 L333.86,141.41 L333.97,142.07 L334.07,142.73 L334.18,143.40 L334.28,144.06 L334.39,144.73 L334.49,145.39 L334.60,146.05 L334.70,146.72 L334.81,147.38 L334.91,148.05 L335.02,148.71 L335.12,149.37 L335.23,150.04 L335.33,150.70 L335.43,151.37 L335.54,152.03 L335.64,152.70 L335.74,153.36 L335.85,154.03 L335.95,154.69 L336.06,155.35 L336.16,156.02 L336.26,156.68 L336.37,157.35 L336.47,158.01 L336.58,158.68 L336.68,159.34 L336.78,160.01 L336.89,160.67 L336.99,161.34 L337.10,162.00" stroke="#6a8ff0"/>
<path d="M250.00,162.00 L250.00,60.00 L250.00,60.00 L250.07,59.34 L250.14,58.67 L250.20,57.99 L250.25,57.32 L250.30,56.64 L250.34,55.96 L250.39,55.27 L250.42,54.59 L250.46,53.90 L250.50,53.21 L250.53,52.52 L250.57,51.83 L250.61,51.14 L250.65,50.44 L250.70,49.75 L250.75,49.06 L250.80,48.37 L250.86,47.68 L250.93,47.00 L251.01,46.31 L251.09,45.63 L251.19,44.95 L251.29,44.27 L251.41,43.60 L251.54,42.93 L251.68,42.26 L251.83,41.60 L252.00,40.94 L252.19,40.29 L252.39,39.64 L252.61,39.00 L252.85,38.37 L253.10,37.74 L253.38,37.12 L253.68,36.50 L253.99,35.89 L254.34,35.29 L254.70,34.70 L254.70,34.70 L255.29,35.01 L255.89,35.30 L256.49,35.57 L257.10,35.82 L257.71,36.04 L258.33,36.24 L258.96,36.42 L259.59,36.58 L260.22,36.73 L260.86,36.86 L261.51,36.97 L262.16,37.06 L262.81,37.15 L263.47,37.22 L264.13,37.27 L264.80,37.32 L265.47,37.35 L266.14,37.38 L266.82,37.39 L267.50,37.40 L268.18,37.40 L268.86,37.40 L269.55,37.39 L270.23,37.38 L270.92,37.36 L271.61,37.34 L272.31,37.32 L273.00,37.30 L273.69,37.27 L274.39,37.25 L275.08,37.23 L275.78,37.21 L276.47,37.19 L277.17,37.18 L277.86,37.17 L278.55,37.16 L279.24,37.16 L279.93,37.16 L280.62,37.17 L281.30,37.19 L281.98,37.22 L282.66,37.25 L283.34,37.30 L284.01,37.35 L284.68,37.41 L285.35,37.49 L286.01,37.58 L286.67,37.68 L287.32,37.79 L287.97,37.92 L288.62,38.06 L289.26,38.22 L289.89,38.39 L290.52,38.57 L291.14,38.77 L291.75,38.99 L292.36,39.22 L292.97,39.46 L293.56,39.72 L294.15,39.99 L294.73,40.28 L295.30,40.58 L295.87,40.89 L296.43,41.22 L296.98,41.57 L297.52,41.93 L298.05,42.30 L298.57,42.69 L299.09,43.09 L299.59,43.50 L300.09,43.93 L300.58,44.37 L301.06,44.82 L301.54,45.28 L302.01,45.75 L302.46,46.23 L302.92,46.72 L303.36,47.21 L303.80,47.72 L304.22,48.23 L304.65,48.75 L305.06,49.28 L305.47,49.81 L305.87,50.36 L306.27,50.90 L306.66,51.46 L307.04,52.02 L307.42,52.58 L307.79,53.16 L308.15,53.73 L308.51,54.31 L308.87,54.90 L309.21,55.49 L309.56,56.08 L309.90,56.68 L310.23,57.28 L310.56,57.88 L310.88,58.49 L311.20,59.10 L311.51,59.71 L311.82,60.32 L312.13,60.94 L312.43,61.55 L312.73,62.17 L313.02,62.79 L313.31,63.41 L313.60,64.02 L313.88,64.64 L314.16,65.27 L314.44,65.89 L314.71,66.51 L314.98,67.13 L315.25,67.75 L315.51,68.38 L315.77,69.00 L316.02,69.63 L316.27,70.26 L316.52,70.88 L316.77,71.51 L317.01,72.14 L317.25,72.77 L317.49,73.40 L317.72,74.03 L317.95,74.66 L318.18,75.29 L318.40,75.92 L318.62,76.56 L318.84,77.19 L319.05,77.82 L319.27,78.46 L319.48,79.10 L319.68,79.73 L319.89,80.37 L320.09,81.01 L320.29,81.64 L320.49,82.28 L320.68,82.92 L320.87,83.56 L321.06,84.20 L321.25,84.84 L321.44,85.48 L321.62,86.12 L321.80,86.77 L321.98,87.41 L322.15,88.05 L322.33,88.70 L322.50,89.34 L322.67,89.99 L322.83,90.63 L323.00,91.28 L323.16,91.93 L323.33,92.57 L323.49,93.22 L323.64,93.87 L323.80,94.52 L323.95,95.17 L324.11,95.82 L324.26,96.47 L324.41,97.12 L324.56,97.77 L324.70,98.42 L324.85,99.07 L324.99,99.72 L325.13,100.37 L325.27,101.03 L325.41,101.68 L325.55,102.33 L325.69,102.99 L325.82,103.64 L325.96,104.30 L326.09,104.95 L326.22,105.61 L326.35,106.27 L326.48,106.92 L326.61,107.58 L326.74,108.24 L326.87,108.89 L326.99,109.55 L327.12,110.21 L327.24,110.87 L327.37,111.53 L327.49,112.19 L327.61,112.85 L327.73,113.51 L327.86,114.17 L327.98,114.83 L328.10,115.49 L328.22,116.15 L328.33,116.81 L328.45,117.47 L328.57,118.14 L328.69,118.80 L328.81,119.46 L328.92,120.12 L329.04,120.79 L329.16,121.45 L329.27,122.11 L329.39,122.78 L329.50,123.44 L329.61,124.10 L329.73,124.77 L329.84,125.43 L329.95,126.10 L330.06,126.76 L330.18,127.43 L330.29,128.09 L330.40,128.76 L330.51,129.42 L330.62,130.09 L330.72,130.75 L330.83,131.42 L330.94,132.08 L331.05,132.75 L331.15,133.42 L331.26,134.08 L331.37,134.75 L331.47,135.41 L331.58,136.08 L331.68,136.75 L331.79,137.41 L331.89,138.08 L331.99,138.74 L332.10,139.41 L332.20,140.08 L332.30,140.74 L332.40,141.41 L332.50,142.07 L332.60,142.74 L332.70,143.41 L332.80,144.07 L332.90,144.74 L333.00,145.40 L333.09,146.07 L333.19,146.74 L333.29,147.40 L333.39,148.07 L333.48,148.73 L333.58,149.40 L333.67,150.06 L333.77,150.73 L333.86,151.39 L333.95,152.06 L334.05,152.72 L334.14,153.38 L334.23,154.05 L334.32,154.71 L334.41,155.38 L334.50,156.04 L334.59,156.70 L334.68,157.37 L334.77,158.03 L334.86,158.69 L334.95,159.35 L335.04,160.02 L335.13,160.68 L335.21,161.34 L335.30,162.00" stroke="#262626"/>
</g>
<g clip-path="url(#c02)" fill="none" stroke-width="1.05" stroke-linejoin="round">
<path d="M391.30,162.00 L391.30,89.70 L391.30,89.70 L391.60,89.08 L391.90,88.46 L392.21,87.84 L392.51,87.21 L392.83,86.59 L393.14,85.97 L393.45,85.35 L393.77,84.73 L394.10,84.12 L394.42,83.50 L394.75,82.89 L395.09,82.27 L395.42,81.66 L395.77,81.05 L396.11,80.45 L396.46,79.84 L396.82,79.24 L397.18,78.65 L397.54,78.05 L397.91,77.46 L398.29,76.87 L398.66,76.29 L399.05,75.70 L399.44,75.13 L399.84,74.56 L400.24,73.99 L400.65,73.42 L401.06,72.87 L401.48,72.31 L401.91,71.76 L402.34,71.22 L402.78,70.68 L403.23,70.15 L403.68,69.63 L404.14,69.11 L404.61,68.59 L405.08,68.09 L405.57,67.59 L406.06,67.10 L406.56,66.61 L407.06,66.13 L407.58,65.66 L408.10,65.20 L408.10,65.20 L408.82,65.13 L409.55,65.07 L410.27,65.02 L411.00,64.97 L411.72,64.94 L412.45,64.92 L413.17,64.90 L413.90,64.90 L414.62,64.90 L415.35,64.92 L416.07,64.94 L416.80,64.98 L417.52,65.02 L418.25,65.07 L418.98,65.13 L419.70,65.20 L419.70,65.20 L420.35,65.39 L420.99,65.59 L421.64,65.79 L422.28,65.99 L422.92,66.19 L423.56,66.40 L424.20,66.61 L424.84,66.82 L425.47,67.03 L426.11,67.25 L426.74,67.47 L427.37,67.69 L428.00,67.92 L428.63,68.14 L429.26,68.37 L429.88,68.60 L430.51,68.83 L431.13,69.07 L431.76,69.30 L432.38,69.54 L433.00,69.78 L433.62,70.02 L434.24,70.26 L434.86,70.51 L435.48,70.75 L436.10,71.00 L436.71,71.25 L437.33,71.50 L437.94,71.75 L438.56,72.00 L439.18,72.25 L439.79,72.51 L440.40,72.76 L441.02,73.02 L441.63,73.28 L442.25,73.53 L442.86,73.79 L443.47,74.05 L444.09,74.31 L444.70,74.57 L445.31,74.83 L445.93,75.09 L446.54,75.36 L447.15,75.62 L447.77,75.88 L448.38,76.14 L449.00,76.41 L449.61,76.67 L450.23,76.93 L450.84,77.19 L451.46,77.46 L452.08,77.72 L452.70,77.98 L453.31,78.24 L453.93,78.50 L454.55,78.76 L455.17,79.02 L455.80,79.28 L456.42,79.54 L457.04,79.80 L457.67,80.06 L458.29,80.32 L458.92,80.57 L459.54,80.83 L460.17,81.09 L460.79,81.35 L461.42,81.61 L462.05,81.86 L462.67,82.12 L463.30,82.38 L463.92,82.64 L464.55,82.90 L465.17,83.17 L465.80,83.43 L466.42,83.70 L467.05,83.96 L467.67,84.23 L468.29,84.50 L468.91,84.77 L469.53,85.05 L470.14,85.32 L470.76,85.60 L471.37,85.88 L471.98,86.17 L472.60,86.45 L473.20,86.74 L473.81,87.03 L474.42,87.32 L475.02,87.62 L475.62,87.92 L476.22,88.23 L476.81,88.53 L477.40,88.84 L478.00,89.16 L478.58,89.48 L479.17,89.80 L479.75,90.13 L480.33,90.46 L480.90,90.79 L481.47,91.13 L482.04,91.48 L482.61,91.83 L483.17,92.18 L483.73,92.54 L484.28,92.90 L484.83,93.27 L485.38,93.65 L485.92,94.03 L486.46,94.41 L486.99,94.80 L487.52,95.20 L488.04,95.60 L488.56,96.01 L489.08,96.42 L489.59,96.84 L490.10,97.27 L490.61,97.69 L491.10,98.13 L491.60,98.57 L492.09,99.01 L492.58,99.46 L493.06,99.91 L493.54,100.37 L494.01,100.83 L494.48,101.30 L494.95,101.78 L495.41,102.25 L495.87,102.73 L496.32,103.22 L496.77,103.71 L497.21,104.21 L497.65,104.70 L498.09,105.21 L498.52,105.72 L498.95,106.23 L499.37,106.74 L499.79,107.26 L500.20,107.79 L500.61,108.31 L501.02,108.85 L501.42,109.38 L501.82,109.92 L502.21,110.46 L502.60,111.01 L502.98,111.56 L503.36,112.11 L503.74,112.67 L504.11,113.23 L504.48,113.79 L504.84,114.36 L505.20,114.93 L505.55,115.50 L505.90,116.08 L506.25,116.66 L506.59,117.24 L506.93,117.83 L507.26,118.41 L507.59,119.01 L507.91,119.60 L508.23,120.20 L508.55,120.79 L508.86,121.40 L509.16,122.00 L509.47,122.61 L509.77,123.22 L510.06,123.83 L510.35,124.44 L510.63,125.06 L510.92,125.67 L511.19,126.29 L511.46,126.92 L511.73,127.54 L512.00,128.17 L512.26,128.80 L512.51,129.43 L512.76,130.06 L513.01,130.69 L513.25,131.33 L513.49,131.96 L513.72,132.60 L513.95,133.24 L514.17,133.88 L514.39,134.52 L514.61,135.17 L514.82,135.81 L515.03,136.46 L515.23,137.11 L515.43,137.76 L515.62,138.41 L515.81,139.06 L516.00,139.71 L516.18,140.36 L516.36,141.01 L516.53,141.67 L516.70,142.32 L516.86,142.98 L517.02,143.63 L517.18,144.29 L517.33,144.95 L517.47,145.60 L517.61,146.26 L517.75,146.92 L517.88,147.58 L518.01,148.24 L518.14,148.89 L518.26,149.55 L518.37,150.21 L518.48,150.87 L518.59,151.53 L518.69,152.19 L518.79,152.84 L518.88,153.50 L518.97,154.16 L519.06,154.82 L519.14,155.47 L519.21,156.13 L519.29,156.78 L519.35,157.44 L519.42,158.09 L519.47,158.75 L519.53,159.40 L519.58,160.05 L519.62,160.70 L519.66,161.35 L519.70,162.00" stroke="#ff9740"/>
<path d="M405.90,162.00 L405.90,90.50 L405.90,90.50 L405.94,89.83 L405.99,89.16 L406.03,88.48 L406.09,87.80 L406.14,87.11 L406.20,86.42 L406.27,85.73 L406.34,85.04 L406.42,84.34 L406.51,83.64 L406.61,82.95 L406.71,82.25 L406.82,81.56 L406.95,80.86 L407.08,80.17 L407.22,79.49 L407.38,78.80 L407.54,78.12 L407.72,77.45 L407.92,76.78 L408.12,76.11 L408.35,75.45 L408.58,74.80 L408.83,74.16 L409.10,73.52 L409.38,72.90 L409.68,72.28 L410.00,71.68 L410.34,71.08 L410.70,70.50 L411.07,69.92 L411.47,69.36 L411.89,68.82 L412.32,68.28 L412.78,67.76 L413.27,67.26 L413.77,66.77 L414.30,66.30 L414.30,66.30 L414.94,66.16 L415.58,66.03 L416.23,65.91 L416.87,65.78 L417.52,65.66 L418.17,65.55 L418.83,65.44 L419.48,65.33 L420.14,65.23 L420.79,65.13 L421.45,65.04 L422.11,64.95 L422.78,64.86 L423.44,64.78 L424.10,64.70 L424.77,64.63 L425.44,64.57 L426.11,64.50 L426.77,64.44 L427.44,64.39 L428.12,64.34 L428.79,64.29 L429.46,64.25 L430.13,64.22 L430.81,64.19 L431.48,64.16 L432.16,64.14 L432.83,64.12 L433.51,64.11 L434.18,64.10 L434.86,64.10 L435.53,64.10 L436.21,64.11 L436.88,64.12 L437.56,64.14 L438.23,64.16 L438.91,64.19 L439.58,64.23 L440.26,64.26 L440.93,64.31 L441.60,64.35 L442.27,64.41 L442.94,64.46 L443.61,64.53 L444.28,64.60 L444.95,64.67 L445.62,64.75 L446.28,64.84 L446.95,64.93 L447.61,65.02 L448.28,65.12 L448.94,65.23 L449.60,65.34 L450.25,65.46 L450.91,65.58 L451.56,65.71 L452.22,65.84 L452.87,65.98 L453.52,66.13 L454.16,66.28 L454.81,66.44 L455.45,66.60 L456.10,66.77 L456.74,66.94 L457.37,67.12 L458.01,67.30 L458.65,67.49 L459.28,67.68 L459.91,67.88 L460.54,68.08 L461.17,68.29 L461.80,68.51 L462.43,68.72 L463.05,68.95 L463.67,69.18 L464.29,69.41 L464.91,69.65 L465.53,69.89 L466.14,70.14 L466.75,70.40 L467.37,70.66 L467.98,70.92 L468.59,71.19 L469.19,71.46 L469.80,71.74 L470.40,72.02 L471.00,72.31 L471.60,72.60 L472.20,72.90 L472.80,73.20 L473.39,73.50 L473.99,73.81 L474.58,74.13 L475.17,74.45 L475.76,74.77 L476.34,75.10 L476.93,75.43 L477.51,75.77 L478.09,76.11 L478.67,76.46 L479.25,76.80 L479.83,77.16 L480.40,77.52 L480.97,77.88 L481.54,78.25 L482.11,78.62 L482.67,79.00 L483.23,79.38 L483.79,79.76 L484.34,80.15 L484.89,80.55 L485.43,80.95 L485.97,81.36 L486.51,81.77 L487.04,82.18 L487.56,82.60 L488.08,83.03 L488.60,83.46 L489.11,83.90 L489.61,84.34 L490.11,84.78 L490.60,85.24 L491.08,85.69 L491.56,86.15 L492.04,86.62 L492.50,87.09 L492.97,87.57 L493.42,88.05 L493.87,88.54 L494.32,89.03 L494.76,89.53 L495.19,90.03 L495.62,90.53 L496.04,91.04 L496.46,91.55 L496.87,92.07 L497.28,92.59 L497.68,93.12 L498.08,93.65 L498.47,94.18 L498.86,94.72 L499.24,95.26 L499.62,95.80 L499.99,96.35 L500.36,96.90 L500.73,97.46 L501.09,98.02 L501.44,98.58 L501.79,99.15 L502.14,99.72 L502.48,100.29 L502.82,100.86 L503.15,101.44 L503.48,102.02 L503.80,102.60 L504.12,103.19 L504.44,103.78 L504.75,104.37 L505.06,104.96 L505.37,105.56 L505.67,106.16 L505.97,106.76 L506.26,107.36 L506.55,107.97 L506.84,108.57 L507.13,109.18 L507.41,109.80 L507.68,110.41 L507.96,111.02 L508.23,111.64 L508.50,112.26 L508.76,112.88 L509.02,113.50 L509.28,114.12 L509.54,114.74 L509.79,115.37 L510.04,116.00 L510.29,116.62 L510.53,117.25 L510.77,117.88 L511.01,118.51 L511.25,119.14 L511.49,119.77 L511.72,120.40 L511.95,121.04 L512.18,121.67 L512.40,122.30 L512.62,122.94 L512.85,123.57 L513.06,124.21 L513.28,124.84 L513.50,125.48 L513.71,126.12 L513.92,126.75 L514.13,127.39 L514.33,128.03 L514.53,128.66 L514.73,129.30 L514.93,129.94 L515.13,130.58 L515.32,131.22 L515.51,131.86 L515.70,132.50 L515.89,133.14 L516.07,133.79 L516.25,134.43 L516.43,135.07 L516.61,135.71 L516.78,136.36 L516.95,137.00 L517.12,137.65 L517.28,138.29 L517.44,138.94 L517.60,139.59 L517.76,140.23 L517.92,140.88 L518.07,141.53 L518.22,142.18 L518.36,142.83 L518.51,143.48 L518.65,144.13 L518.79,144.79 L518.92,145.44 L519.05,146.09 L519.18,146.75 L519.31,147.40 L519.43,148.06 L519.55,148.71 L519.67,149.37 L519.78,150.03 L519.89,150.69 L520.00,151.34 L520.11,152.00 L520.21,152.66 L520.31,153.33 L520.40,153.99 L520.50,154.65 L520.59,155.32 L520.67,155.98 L520.75,156.65 L520.83,157.31 L520.91,157.98 L520.98,158.65 L521.05,159.32 L521.12,159.99 L521.18,160.66 L521.24,161.33 L521.30,162.00" stroke="#3d9b3d"/>
<path d="M412.70,162.00 L412.70,88.00 L412.70,88.00 L412.77,87.38 L412.85,86.75 L412.92,86.11 L412.99,85.46 L413.06,84.80 L413.13,84.14 L413.21,83.47 L413.28,82.79 L413.36,82.11 L413.45,81.42 L413.54,80.73 L413.64,80.04 L413.74,79.34 L413.85,78.65 L413.97,77.96 L414.10,77.27 L414.25,76.58 L414.40,75.90 L414.56,75.22 L414.74,74.54 L414.94,73.88 L415.14,73.22 L415.37,72.56 L415.61,71.92 L415.87,71.29 L416.14,70.67 L416.44,70.06 L416.75,69.47 L417.09,68.90 L417.45,68.36 L417.84,67.84 L418.24,67.36 L418.68,66.91 L419.14,66.49 L419.62,66.12 L420.14,65.79 L420.69,65.51 L421.26,65.28 L421.86,65.08 L422.47,64.92 L423.09,64.77 L423.72,64.64 L424.36,64.52 L424.99,64.41 L425.64,64.32 L426.29,64.23 L426.94,64.16 L427.59,64.10 L428.25,64.04 L428.92,64.00 L429.58,63.97 L430.25,63.94 L430.93,63.92 L431.60,63.91 L432.28,63.91 L432.96,63.91 L433.64,63.92 L434.33,63.93 L435.02,63.95 L435.70,63.98 L436.39,64.01 L437.08,64.04 L437.78,64.08 L438.47,64.12 L439.16,64.16 L439.85,64.20 L440.55,64.25 L441.24,64.30 L441.93,64.34 L442.63,64.39 L443.32,64.44 L444.01,64.49 L444.70,64.53 L445.39,64.58 L446.08,64.62 L446.76,64.66 L447.45,64.69 L448.13,64.73 L448.81,64.76 L449.48,64.78 L450.16,64.80 L450.83,64.82 L451.50,64.83 L452.16,64.84 L452.83,64.84 L453.49,64.84 L454.15,64.85 L454.81,64.85 L455.47,64.86 L456.12,64.87 L456.78,64.88 L457.43,64.90 L458.08,64.92 L458.73,64.95 L459.39,64.98 L460.04,65.03 L460.69,65.08 L461.34,65.15 L461.99,65.23 L462.65,65.31 L463.30,65.41 L463.95,65.52 L464.60,65.64 L465.26,65.77 L465.91,65.91 L466.56,66.07 L467.21,66.23 L467.86,66.40 L468.50,66.58 L469.15,66.77 L469.79,66.97 L470.43,67.18 L471.07,67.40 L471.71,67.63 L472.34,67.87 L472.98,68.12 L473.61,68.38 L474.23,68.64 L474.86,68.91 L475.48,69.20 L476.09,69.49 L476.71,69.79 L477.32,70.09 L477.92,70.41 L478.52,70.73 L479.12,71.06 L479.71,71.40 L480.30,71.74 L480.88,72.10 L481.46,72.46 L482.04,72.82 L482.60,73.20 L483.17,73.58 L483.72,73.97 L484.27,74.36 L484.82,74.76 L485.36,75.17 L485.89,75.58 L486.42,76.00 L486.94,76.42 L487.45,76.85 L487.96,77.29 L488.46,77.73 L488.95,78.18 L489.44,78.63 L489.92,79.09 L490.40,79.56 L490.87,80.03 L491.34,80.50 L491.80,80.98 L492.25,81.47 L492.70,81.96 L493.14,82.45 L493.58,82.95 L494.01,83.45 L494.43,83.96 L494.85,84.48 L495.27,85.00 L495.68,85.52 L496.08,86.04 L496.48,86.58 L496.87,87.11 L497.26,87.65 L497.65,88.19 L498.03,88.74 L498.40,89.29 L498.77,89.85 L499.13,90.41 L499.49,90.97 L499.85,91.53 L500.20,92.10 L500.54,92.68 L500.88,93.25 L501.22,93.83 L501.55,94.41 L501.88,95.00 L502.20,95.59 L502.52,96.18 L502.84,96.77 L503.15,97.37 L503.45,97.97 L503.75,98.57 L504.05,99.17 L504.35,99.78 L504.64,100.39 L504.92,101.00 L505.21,101.61 L505.48,102.23 L505.76,102.85 L506.03,103.46 L506.30,104.09 L506.56,104.71 L506.82,105.33 L507.08,105.96 L507.34,106.59 L507.59,107.22 L507.83,107.85 L508.08,108.48 L508.32,109.11 L508.56,109.74 L508.79,110.38 L509.03,111.01 L509.25,111.65 L509.48,112.29 L509.70,112.93 L509.92,113.56 L510.14,114.20 L510.36,114.84 L510.57,115.48 L510.78,116.12 L510.99,116.76 L511.19,117.40 L511.39,118.05 L511.59,118.69 L511.79,119.33 L511.99,119.97 L512.18,120.61 L512.37,121.26 L512.56,121.90 L512.74,122.55 L512.92,123.19 L513.10,123.83 L513.28,124.48 L513.46,125.12 L513.63,125.77 L513.80,126.42 L513.97,127.06 L514.14,127.71 L514.30,128.36 L514.46,129.01 L514.62,129.65 L514.78,130.30 L514.93,130.95 L515.09,131.60 L515.24,132.25 L515.39,132.90 L515.53,133.55 L515.68,134.20 L515.82,134.85 L515.96,135.51 L516.10,136.16 L516.24,136.81 L516.37,137.47 L516.50,138.12 L516.63,138.77 L516.76,139.43 L516.89,140.08 L517.01,140.74 L517.14,141.40 L517.26,142.05 L517.38,142.71 L517.49,143.37 L517.61,144.03 L517.72,144.69 L517.83,145.34 L517.94,146.00 L518.05,146.66 L518.16,147.33 L518.26,147.99 L518.37,148.65 L518.47,149.31 L518.57,149.97 L518.67,150.64 L518.76,151.30 L518.86,151.97 L518.95,152.63 L519.04,153.30 L519.13,153.96 L519.22,154.63 L519.31,155.30 L519.39,155.96 L519.48,156.63 L519.56,157.30 L519.64,157.97 L519.72,158.64 L519.80,159.31 L519.88,159.98 L519.95,160.65 L520.03,161.33 L520.10,162.00" stroke="#ff3344"/>
<path d="M416.45,162.00 L416.45,88.00 L416.45,88.00 L416.42,87.21 L416.43,86.46 L416.48,85.75 L416.55,85.06 L416.66,84.41 L416.79,83.77 L416.94,83.15 L417.10,82.55 L417.27,81.95 L417.44,81.35 L417.61,80.75 L417.78,80.15 L417.94,79.53 L418.08,78.90 L418.20,78.26 L418.31,77.59 L418.40,76.91 L418.49,76.22 L418.56,75.53 L418.64,74.82 L418.72,74.12 L418.80,73.41 L418.88,72.70 L418.98,72.00 L419.08,71.31 L419.21,70.63 L419.35,69.96 L419.51,69.30 L419.70,68.66 L419.92,68.05 L420.16,67.45 L420.44,66.88 L420.76,66.34 L421.12,65.83 L421.52,65.36 L421.97,64.94 L422.48,64.60 L423.06,64.35 L423.68,64.17 L424.33,64.06 L425.00,63.98 L425.67,63.93 L426.34,63.91 L427.01,63.90 L427.67,63.92 L428.34,63.95 L429.00,63.99 L429.67,64.05 L430.33,64.12 L431.00,64.19 L431.66,64.27 L432.33,64.35 L432.99,64.43 L433.66,64.51 L434.32,64.58 L434.99,64.65 L435.66,64.71 L436.33,64.76 L437.00,64.81 L437.67,64.84 L438.34,64.87 L439.01,64.90 L439.68,64.91 L440.36,64.92 L441.03,64.93 L441.70,64.93 L442.38,64.93 L443.05,64.92 L443.73,64.90 L444.41,64.89 L445.08,64.87 L445.76,64.85 L446.44,64.82 L447.11,64.79 L447.79,64.76 L448.47,64.73 L449.15,64.70 L449.82,64.67 L450.50,64.63 L451.18,64.60 L451.86,64.57 L452.53,64.54 L453.21,64.51 L453.89,64.48 L454.56,64.45 L455.24,64.42 L455.92,64.40 L456.59,64.38 L457.27,64.36 L457.94,64.35 L458.61,64.34 L459.29,64.34 L459.96,64.34 L460.63,64.34 L461.30,64.36 L461.97,64.37 L462.64,64.40 L463.31,64.43 L463.98,64.46 L464.64,64.51 L465.31,64.56 L465.97,64.62 L466.64,64.69 L467.30,64.77 L467.96,64.85 L468.62,64.95 L469.28,65.06 L469.94,65.17 L470.59,65.30 L471.25,65.44 L471.90,65.59 L472.55,65.75 L473.20,65.92 L473.85,66.11 L474.49,66.30 L475.13,66.51 L475.77,66.73 L476.41,66.96 L477.04,67.20 L477.67,67.44 L478.30,67.70 L478.92,67.97 L479.54,68.25 L480.15,68.54 L480.76,68.84 L481.36,69.15 L481.96,69.47 L482.55,69.80 L483.14,70.14 L483.72,70.49 L484.29,70.84 L484.86,71.21 L485.42,71.58 L485.97,71.96 L486.52,72.35 L487.06,72.75 L487.59,73.16 L488.11,73.57 L488.63,74.00 L489.13,74.43 L489.63,74.87 L490.12,75.31 L490.60,75.77 L491.06,76.23 L491.53,76.69 L491.98,77.17 L492.42,77.65 L492.85,78.14 L493.28,78.63 L493.70,79.14 L494.11,79.64 L494.51,80.16 L494.90,80.68 L495.29,81.20 L495.66,81.74 L496.04,82.27 L496.40,82.82 L496.76,83.37 L497.10,83.92 L497.45,84.48 L497.78,85.04 L498.11,85.61 L498.43,86.18 L498.75,86.76 L499.06,87.35 L499.37,87.93 L499.66,88.53 L499.96,89.12 L500.25,89.72 L500.53,90.32 L500.80,90.93 L501.08,91.54 L501.34,92.16 L501.60,92.78 L501.86,93.40 L502.12,94.02 L502.36,94.65 L502.61,95.28 L502.85,95.91 L503.09,96.55 L503.32,97.18 L503.55,97.82 L503.77,98.47 L504.00,99.11 L504.21,99.76 L504.43,100.40 L504.64,101.05 L504.85,101.70 L505.06,102.36 L505.27,103.01 L505.47,103.67 L505.67,104.32 L505.87,104.98 L506.07,105.64 L506.27,106.29 L506.46,106.95 L506.65,107.61 L506.84,108.27 L507.03,108.93 L507.22,109.59 L507.41,110.25 L507.60,110.91 L507.79,111.57 L507.97,112.23 L508.16,112.88 L508.35,113.54 L508.54,114.20 L508.72,114.85 L508.91,115.50 L509.10,116.16 L509.29,116.81 L509.47,117.46 L509.66,118.11 L509.85,118.75 L510.04,119.40 L510.23,120.05 L510.41,120.69 L510.60,121.34 L510.79,121.98 L510.97,122.62 L511.16,123.27 L511.34,123.91 L511.52,124.55 L511.70,125.19 L511.88,125.83 L512.06,126.47 L512.24,127.11 L512.41,127.75 L512.59,128.39 L512.76,129.03 L512.93,129.67 L513.09,130.31 L513.26,130.95 L513.42,131.59 L513.58,132.23 L513.74,132.87 L513.89,133.51 L514.05,134.15 L514.20,134.79 L514.34,135.43 L514.48,136.07 L514.62,136.71 L514.76,137.35 L514.89,138.00 L515.02,138.64 L515.15,139.28 L515.27,139.93 L515.39,140.58 L515.50,141.22 L515.61,141.87 L515.72,142.52 L515.82,143.17 L515.91,143.82 L516.00,144.47 L516.09,145.13 L516.17,145.78 L516.25,146.44 L516.32,147.09 L516.39,147.75 L516.45,148.41 L516.51,149.07 L516.56,149.74 L516.60,150.40 L516.64,151.07 L516.68,151.73 L516.70,152.40 L516.73,153.08 L516.74,153.75 L516.75,154.43 L516.75,155.10 L516.75,155.78 L516.74,156.46 L516.72,157.15 L516.70,157.83 L516.67,158.52 L516.63,159.21 L516.58,159.91 L516.53,160.60 L516.47,161.30 L516.40,162.00" stroke="#6a8ff0"/>
<path d="M418.30,162.00 L418.30,88.00 L418.30,88.00 L418.35,87.33 L418.40,86.65 L418.45,85.97 L418.49,85.29 L418.53,84.61 L418.57,83.93 L418.61,83.24 L418.64,82.55 L418.68,81.86 L418.72,81.18 L418.76,80.49 L418.81,79.80 L418.85,79.11 L418.91,78.42 L418.96,77.73 L419.02,77.04 L419.09,76.35 L419.17,75.67 L419.25,74.98 L419.34,74.30 L419.44,73.62 L419.56,72.95 L419.68,72.27 L419.81,71.60 L419.96,70.94 L420.11,70.27 L420.29,69.61 L420.47,68.96 L420.67,68.31 L420.89,67.66 L421.12,67.02 L421.37,66.39 L421.64,65.76 L421.92,65.13 L422.23,64.52 L422.55,63.90 L422.90,63.30 L422.90,63.30 L423.56,63.42 L424.22,63.54 L424.88,63.65 L425.54,63.75 L426.20,63.85 L426.86,63.95 L427.52,64.03 L428.18,64.12 L428.83,64.20 L429.49,64.27 L430.15,64.34 L430.81,64.40 L431.47,64.46 L432.12,64.52 L432.78,64.57 L433.44,64.62 L434.10,64.66 L434.76,64.70 L435.42,64.73 L436.08,64.76 L436.74,64.79 L437.40,64.81 L438.06,64.83 L438.72,64.84 L439.38,64.86 L440.04,64.86 L440.70,64.87 L441.37,64.87 L442.03,64.87 L442.70,64.87 L443.36,64.86 L444.03,64.85 L444.70,64.84 L445.37,64.83 L446.04,64.81 L446.71,64.79 L447.38,64.77 L448.05,64.75 L448.73,64.72 L449.41,64.70 L450.08,64.67 L450.76,64.64 L451.44,64.61 L452.12,64.57 L452.80,64.54 L453.49,64.51 L454.17,64.48 L454.85,64.45 L455.54,64.42 L456.22,64.39 L456.91,64.36 L457.59,64.34 L458.28,64.32 L458.96,64.30 L459.65,64.28 L460.33,64.27 L461.02,64.27 L461.70,64.27 L462.38,64.27 L463.06,64.29 L463.74,64.30 L464.42,64.33 L465.10,64.36 L465.77,64.40 L466.45,64.44 L467.12,64.50 L467.79,64.56 L468.46,64.63 L469.13,64.71 L469.79,64.80 L470.45,64.90 L471.11,65.02 L471.77,65.14 L472.42,65.27 L473.07,65.42 L473.72,65.58 L474.37,65.75 L475.01,65.93 L475.65,66.12 L476.28,66.32 L476.91,66.53 L477.54,66.75 L478.16,66.99 L478.78,67.23 L479.39,67.49 L480.00,67.75 L480.60,68.03 L481.20,68.31 L481.80,68.61 L482.39,68.91 L482.97,69.23 L483.55,69.55 L484.12,69.89 L484.69,70.23 L485.25,70.58 L485.80,70.95 L486.35,71.32 L486.89,71.70 L487.43,72.09 L487.95,72.49 L488.48,72.89 L488.99,73.31 L489.50,73.73 L490.00,74.17 L490.49,74.61 L490.97,75.06 L491.45,75.51 L491.92,75.98 L492.38,76.45 L492.83,76.93 L493.27,77.42 L493.71,77.92 L494.13,78.42 L494.55,78.93 L494.96,79.45 L495.36,79.98 L495.74,80.51 L496.12,81.05 L496.49,81.60 L496.85,82.15 L497.20,82.71 L497.54,83.28 L497.87,83.85 L498.19,84.43 L498.50,85.02 L498.80,85.61 L499.09,86.21 L499.38,86.81 L499.65,87.42 L499.92,88.03 L500.18,88.65 L500.43,89.27 L500.67,89.89 L500.91,90.52 L501.14,91.16 L501.37,91.79 L501.59,92.43 L501.81,93.08 L502.02,93.72 L502.23,94.37 L502.43,95.02 L502.63,95.67 L502.83,96.32 L503.02,96.98 L503.21,97.63 L503.40,98.29 L503.59,98.95 L503.77,99.61 L503.96,100.26 L504.14,100.92 L504.33,101.58 L504.51,102.24 L504.69,102.89 L504.88,103.55 L505.07,104.21 L505.25,104.86 L505.44,105.51 L505.63,106.16 L505.83,106.81 L506.02,107.45 L506.22,108.10 L506.42,108.74 L506.62,109.38 L506.82,110.02 L507.03,110.66 L507.23,111.29 L507.43,111.93 L507.64,112.57 L507.84,113.20 L508.04,113.83 L508.24,114.47 L508.44,115.10 L508.64,115.74 L508.83,116.37 L509.03,117.00 L509.22,117.64 L509.41,118.27 L509.59,118.91 L509.78,119.54 L509.95,120.18 L510.13,120.82 L510.30,121.46 L510.46,122.10 L510.62,122.74 L510.78,123.39 L510.93,124.04 L511.08,124.68 L511.22,125.33 L511.35,125.98 L511.49,126.63 L511.61,127.29 L511.74,127.94 L511.86,128.60 L511.97,129.25 L512.08,129.91 L512.19,130.57 L512.29,131.23 L512.39,131.89 L512.48,132.56 L512.57,133.22 L512.66,133.88 L512.74,134.55 L512.82,135.21 L512.89,135.88 L512.96,136.55 L513.03,137.21 L513.09,137.88 L513.15,138.55 L513.20,139.22 L513.25,139.89 L513.30,140.56 L513.35,141.23 L513.39,141.90 L513.43,142.57 L513.46,143.25 L513.49,143.92 L513.52,144.59 L513.55,145.26 L513.57,145.94 L513.59,146.61 L513.60,147.28 L513.62,147.95 L513.63,148.63 L513.63,149.30 L513.64,149.97 L513.64,150.64 L513.64,151.31 L513.64,151.99 L513.63,152.66 L513.62,153.33 L513.61,154.00 L513.60,154.67 L513.58,155.34 L513.56,156.01 L513.54,156.68 L513.52,157.34 L513.49,158.01 L513.47,158.68 L513.44,159.34 L513.41,160.01 L513.37,160.67 L513.34,161.34 L513.30,162.00" stroke="#262626"/>
</g>
<g clip-path="url(#c03)" fill="none" stroke-width="1.05" stroke-linejoin="round">
<path d="M558.80,162.00 L558.80,113.30 L558.80,113.30 L559.04,112.66 L559.28,112.03 L559.53,111.39 L559.78,110.76 L560.03,110.13 L560.30,109.49 L560.57,108.86 L560.84,108.23 L561.12,107.60 L561.40,106.97 L561.70,106.35 L561.99,105.73 L562.30,105.11 L562.60,104.49 L562.92,103.87 L563.24,103.26 L563.57,102.65 L563.91,102.05 L564.25,101.45 L564.60,100.85 L564.95,100.26 L565.31,99.67 L565.68,99.09 L566.06,98.52 L566.44,97.94 L566.83,97.38 L567.23,96.82 L567.64,96.26 L568.05,95.72 L568.47,95.17 L568.90,94.64 L569.34,94.11 L569.79,93.59 L570.24,93.08 L570.70,92.57 L571.17,92.08 L571.65,91.59 L572.14,91.11 L572.64,90.64 L573.14,90.17 L573.65,89.72 L574.18,89.27 L574.71,88.84 L575.25,88.41 L575.80,88.00 L575.80,88.00 L576.47,87.77 L577.14,87.54 L577.80,87.33 L578.47,87.14 L579.14,86.95 L579.81,86.78 L580.48,86.62 L581.15,86.47 L581.82,86.33 L582.49,86.21 L583.16,86.09 L583.83,85.99 L584.49,85.90 L585.16,85.82 L585.83,85.75 L586.50,85.70 L587.17,85.65 L587.83,85.62 L588.50,85.59 L589.16,85.58 L589.83,85.57 L590.49,85.58 L591.15,85.60 L591.81,85.62 L592.47,85.66 L593.13,85.71 L593.79,85.77 L594.45,85.83 L595.11,85.91 L595.76,85.99 L596.41,86.09 L597.07,86.19 L597.72,86.31 L598.37,86.43 L599.01,86.56 L599.66,86.69 L600.31,86.84 L600.95,86.99 L601.59,87.15 L602.23,87.32 L602.87,87.50 L603.51,87.68 L604.15,87.87 L604.78,88.06 L605.42,88.26 L606.05,88.47 L606.68,88.68 L607.31,88.90 L607.94,89.12 L608.57,89.35 L609.19,89.59 L609.82,89.83 L610.44,90.07 L611.06,90.32 L611.68,90.57 L612.30,90.82 L612.92,91.08 L613.54,91.34 L614.15,91.61 L614.77,91.87 L615.38,92.14 L615.99,92.42 L616.61,92.69 L617.22,92.97 L617.83,93.24 L618.44,93.52 L619.06,93.80 L619.67,94.08 L620.28,94.36 L620.89,94.65 L621.50,94.93 L622.11,95.21 L622.72,95.49 L623.34,95.77 L623.95,96.05 L624.56,96.33 L625.18,96.60 L625.79,96.88 L626.40,97.15 L627.02,97.42 L627.64,97.69 L628.26,97.95 L628.87,98.22 L629.49,98.48 L630.12,98.73 L630.74,98.98 L631.36,99.23 L631.99,99.48 L632.61,99.72 L633.24,99.96 L633.87,100.20 L634.50,100.44 L635.13,100.67 L635.76,100.90 L636.39,101.13 L637.02,101.36 L637.66,101.58 L638.29,101.81 L638.92,102.03 L639.56,102.25 L640.19,102.47 L640.83,102.69 L641.47,102.91 L642.10,103.13 L642.74,103.34 L643.38,103.56 L644.01,103.78 L644.65,104.00 L645.29,104.21 L645.92,104.43 L646.56,104.65 L647.20,104.87 L647.83,105.09 L648.47,105.31 L649.11,105.53 L649.74,105.76 L650.38,105.98 L651.01,106.21 L651.65,106.43 L652.28,106.66 L652.91,106.90 L653.55,107.13 L654.18,107.37 L654.81,107.61 L655.44,107.85 L656.07,108.10 L656.69,108.34 L657.32,108.60 L657.94,108.85 L658.56,109.11 L659.18,109.38 L659.80,109.64 L660.41,109.92 L661.02,110.19 L661.63,110.48 L662.24,110.76 L662.84,111.06 L663.44,111.35 L664.03,111.66 L664.62,111.97 L665.21,112.28 L665.79,112.60 L666.37,112.93 L666.95,113.27 L667.52,113.61 L668.08,113.96 L668.64,114.32 L669.19,114.68 L669.74,115.05 L670.29,115.43 L670.83,115.82 L671.36,116.22 L671.89,116.62 L672.41,117.03 L672.92,117.45 L673.43,117.88 L673.93,118.31 L674.43,118.75 L674.92,119.20 L675.40,119.65 L675.88,120.12 L676.35,120.59 L676.81,121.06 L677.27,121.55 L677.72,122.04 L678.16,122.53 L678.60,123.04 L679.03,123.55 L679.45,124.07 L679.86,124.59 L680.27,125.12 L680.67,125.65 L681.06,126.20 L681.44,126.74 L681.82,127.30 L682.19,127.86 L682.55,128.42 L682.90,128.99 L683.24,129.57 L683.58,130.15 L683.91,130.74 L684.23,131.33 L684.54,131.93 L684.84,132.53 L685.14,133.14 L685.43,133.75 L685.71,134.36 L685.98,134.98 L686.25,135.60 L686.50,136.23 L686.75,136.86 L687.00,137.49 L687.23,138.13 L687.46,138.77 L687.67,139.42 L687.88,140.06 L688.09,140.71 L688.28,141.36 L688.47,142.02 L688.65,142.67 L688.82,143.33 L688.99,143.99 L689.14,144.65 L689.29,145.32 L689.44,145.98 L689.57,146.65 L689.70,147.32 L689.82,147.99 L689.93,148.66 L690.03,149.33 L690.13,150.00 L690.22,150.67 L690.30,151.34 L690.37,152.01 L690.44,152.68 L690.50,153.36 L690.55,154.03 L690.60,154.70 L690.63,155.37 L690.66,156.04 L690.69,156.71 L690.70,157.37 L690.71,158.04 L690.71,158.70 L690.70,159.37 L690.69,160.03 L690.66,160.69 L690.64,161.34 L690.60,162.00" stroke="#ff9740"/>
<path d="M573.70,162.00 L573.70,113.30 L573.70,113.30 L573.75,112.63 L573.81,111.96 L573.87,111.28 L573.94,110.60 L574.03,109.91 L574.12,109.23 L574.22,108.54 L574.33,107.85 L574.45,107.16 L574.58,106.47 L574.72,105.78 L574.87,105.10 L575.04,104.41 L575.21,103.73 L575.40,103.05 L575.59,102.37 L575.80,101.70 L576.02,101.03 L576.25,100.36 L576.50,99.71 L576.75,99.05 L577.02,98.41 L577.31,97.77 L577.60,97.14 L577.91,96.51 L578.24,95.90 L578.58,95.29 L578.93,94.70 L579.30,94.11 L579.68,93.54 L580.08,92.98 L580.49,92.42 L580.92,91.89 L581.36,91.36 L581.82,90.85 L582.30,90.35 L582.79,89.87 L583.30,89.40 L583.30,89.40 L583.95,89.24 L584.60,89.09 L585.25,88.95 L585.91,88.82 L586.56,88.69 L587.22,88.57 L587.87,88.46 L588.53,88.35 L589.19,88.25 L589.84,88.16 L590.50,88.07 L591.16,87.99 L591.82,87.91 L592.48,87.84 L593.15,87.76 L593.81,87.70 L594.47,87.63 L595.14,87.57 L595.80,87.51 L596.47,87.46 L597.13,87.40 L597.80,87.35 L598.47,87.29 L599.13,87.24 L599.80,87.19 L600.47,87.14 L601.14,87.09 L601.81,87.03 L602.48,86.98 L603.15,86.93 L603.83,86.88 L604.50,86.82 L605.17,86.77 L605.84,86.72 L606.52,86.67 L607.19,86.62 L607.87,86.58 L608.54,86.53 L609.21,86.48 L609.89,86.44 L610.56,86.40 L611.24,86.36 L611.92,86.32 L612.59,86.28 L613.27,86.24 L613.94,86.21 L614.62,86.18 L615.29,86.15 L615.97,86.12 L616.64,86.10 L617.32,86.07 L617.99,86.05 L618.67,86.04 L619.34,86.02 L620.02,86.01 L620.69,86.01 L621.37,86.00 L622.04,86.00 L622.72,86.00 L623.39,86.01 L624.06,86.02 L624.73,86.04 L625.41,86.05 L626.08,86.08 L626.75,86.10 L627.42,86.13 L628.09,86.17 L628.76,86.21 L629.43,86.26 L630.09,86.31 L630.76,86.37 L631.42,86.43 L632.09,86.50 L632.75,86.57 L633.41,86.65 L634.07,86.74 L634.72,86.83 L635.38,86.93 L636.03,87.04 L636.68,87.15 L637.33,87.28 L637.98,87.41 L638.62,87.54 L639.26,87.69 L639.90,87.84 L640.54,88.00 L641.17,88.17 L641.81,88.35 L642.43,88.54 L643.06,88.74 L643.68,88.94 L644.30,89.16 L644.92,89.38 L645.54,89.62 L646.15,89.86 L646.76,90.11 L647.36,90.36 L647.97,90.63 L648.57,90.90 L649.17,91.18 L649.77,91.46 L650.36,91.75 L650.96,92.05 L651.55,92.36 L652.14,92.67 L652.73,92.98 L653.32,93.30 L653.90,93.63 L654.49,93.96 L655.07,94.30 L655.65,94.64 L656.23,94.98 L656.81,95.33 L657.39,95.69 L657.97,96.04 L658.55,96.40 L659.13,96.77 L659.70,97.13 L660.28,97.50 L660.85,97.87 L661.43,98.24 L662.00,98.62 L662.57,99.00 L663.14,99.38 L663.71,99.76 L664.28,100.15 L664.85,100.54 L665.41,100.94 L665.97,101.33 L666.53,101.73 L667.09,102.14 L667.64,102.54 L668.19,102.95 L668.74,103.37 L669.28,103.78 L669.82,104.20 L670.36,104.63 L670.89,105.05 L671.42,105.49 L671.94,105.92 L672.46,106.36 L672.98,106.80 L673.49,107.25 L673.99,107.70 L674.49,108.16 L674.98,108.62 L675.47,109.08 L675.95,109.55 L676.42,110.03 L676.89,110.50 L677.35,110.99 L677.80,111.47 L678.25,111.97 L678.69,112.46 L679.12,112.96 L679.55,113.47 L679.97,113.98 L680.37,114.50 L680.77,115.02 L681.17,115.55 L681.55,116.08 L681.93,116.62 L682.29,117.16 L682.65,117.71 L682.99,118.27 L683.33,118.83 L683.66,119.39 L683.98,119.96 L684.29,120.54 L684.58,121.12 L684.87,121.71 L685.15,122.31 L685.41,122.91 L685.67,123.51 L685.92,124.12 L686.16,124.74 L686.38,125.35 L686.60,125.98 L686.82,126.61 L687.02,127.24 L687.21,127.88 L687.40,128.52 L687.57,129.16 L687.74,129.81 L687.90,130.46 L688.05,131.12 L688.20,131.78 L688.34,132.44 L688.47,133.10 L688.59,133.77 L688.71,134.44 L688.82,135.11 L688.92,135.78 L689.01,136.46 L689.10,137.14 L689.19,137.81 L689.26,138.49 L689.34,139.18 L689.40,139.86 L689.46,140.54 L689.52,141.23 L689.57,141.91 L689.61,142.60 L689.65,143.29 L689.68,143.97 L689.71,144.66 L689.74,145.35 L689.76,146.03 L689.78,146.72 L689.79,147.40 L689.80,148.09 L689.81,148.77 L689.81,149.45 L689.81,150.14 L689.80,150.82 L689.80,151.49 L689.79,152.17 L689.77,152.85 L689.76,153.52 L689.74,154.19 L689.72,154.86 L689.70,155.52 L689.67,156.18 L689.65,156.84 L689.62,157.50 L689.59,158.15 L689.56,158.80 L689.53,159.45 L689.50,160.09 L689.47,160.73 L689.43,161.37 L689.40,162.00" stroke="#3d9b3d"/>
<path d="M580.20,162.00 L580.20,110.00 L580.20,110.00 L580.25,109.30 L580.33,108.63 L580.42,107.97 L580.52,107.33 L580.64,106.71 L580.77,106.09 L580.90,105.47 L581.04,104.85 L581.18,104.23 L581.33,103.59 L581.46,102.94 L581.60,102.27 L581.73,101.59 L581.85,100.89 L581.98,100.17 L582.11,99.45 L582.24,98.73 L582.38,98.00 L582.54,97.28 L582.70,96.56 L582.88,95.85 L583.07,95.16 L583.29,94.48 L583.52,93.82 L583.79,93.19 L584.07,92.59 L584.39,92.02 L584.74,91.48 L585.13,90.98 L585.55,90.52 L586.00,90.10 L586.49,89.73 L587.02,89.40 L587.57,89.11 L588.14,88.86 L588.74,88.65 L589.36,88.47 L590.00,88.33 L590.65,88.23 L591.31,88.16 L591.98,88.11 L592.66,88.09 L593.33,88.07 L594.01,88.05 L594.68,88.03 L595.35,88.01 L596.03,87.99 L596.70,87.97 L597.37,87.95 L598.04,87.93 L598.72,87.91 L599.39,87.89 L600.06,87.87 L600.73,87.85 L601.40,87.83 L602.07,87.81 L602.74,87.79 L603.40,87.76 L604.07,87.74 L604.74,87.72 L605.41,87.70 L606.08,87.67 L606.74,87.65 L607.41,87.62 L608.08,87.60 L608.75,87.57 L609.41,87.55 L610.08,87.52 L610.75,87.49 L611.42,87.46 L612.08,87.43 L612.75,87.40 L613.42,87.37 L614.09,87.33 L614.75,87.30 L615.42,87.26 L616.09,87.23 L616.76,87.19 L617.43,87.15 L618.09,87.11 L618.76,87.07 L619.43,87.02 L620.10,86.98 L620.77,86.93 L621.44,86.89 L622.12,86.84 L622.79,86.79 L623.46,86.73 L624.13,86.68 L624.80,86.62 L625.48,86.57 L626.15,86.51 L626.83,86.45 L627.50,86.39 L628.18,86.33 L628.85,86.27 L629.53,86.21 L630.20,86.15 L630.88,86.09 L631.56,86.04 L632.23,85.98 L632.91,85.93 L633.58,85.88 L634.26,85.84 L634.93,85.80 L635.61,85.77 L636.28,85.73 L636.96,85.71 L637.63,85.69 L638.30,85.68 L638.97,85.67 L639.64,85.67 L640.31,85.67 L640.98,85.69 L641.65,85.71 L642.32,85.74 L642.98,85.78 L643.65,85.83 L644.31,85.89 L644.97,85.96 L645.63,86.04 L646.29,86.13 L646.95,86.23 L647.60,86.34 L648.26,86.47 L648.91,86.61 L649.56,86.75 L650.21,86.91 L650.85,87.08 L651.50,87.27 L652.14,87.46 L652.77,87.66 L653.41,87.88 L654.04,88.10 L654.67,88.34 L655.29,88.58 L655.91,88.84 L656.53,89.11 L657.14,89.38 L657.75,89.67 L658.35,89.96 L658.95,90.27 L659.54,90.58 L660.13,90.90 L660.71,91.24 L661.29,91.58 L661.87,91.93 L662.44,92.29 L663.00,92.65 L663.55,93.03 L664.10,93.41 L664.65,93.80 L665.19,94.20 L665.72,94.61 L666.25,95.03 L666.77,95.45 L667.29,95.88 L667.80,96.31 L668.31,96.76 L668.81,97.21 L669.30,97.66 L669.79,98.12 L670.27,98.59 L670.75,99.07 L671.22,99.55 L671.69,100.03 L672.15,100.52 L672.61,101.02 L673.06,101.52 L673.51,102.03 L673.95,102.54 L674.38,103.05 L674.81,103.57 L675.24,104.09 L675.66,104.62 L676.07,105.15 L676.48,105.69 L676.88,106.23 L677.28,106.77 L677.67,107.31 L678.06,107.86 L678.44,108.42 L678.82,108.97 L679.18,109.53 L679.55,110.10 L679.90,110.67 L680.25,111.24 L680.59,111.81 L680.93,112.39 L681.26,112.97 L681.58,113.55 L681.90,114.14 L682.21,114.73 L682.51,115.33 L682.80,115.93 L683.09,116.53 L683.37,117.13 L683.64,117.74 L683.91,118.35 L684.16,118.96 L684.41,119.58 L684.65,120.20 L684.88,120.82 L685.11,121.44 L685.32,122.07 L685.53,122.70 L685.73,123.34 L685.92,123.97 L686.10,124.61 L686.27,125.25 L686.43,125.90 L686.59,126.55 L686.73,127.20 L686.87,127.85 L687.00,128.50 L687.11,129.16 L687.22,129.82 L687.32,130.48 L687.40,131.15 L687.48,131.82 L687.55,132.49 L687.61,133.16 L687.65,133.83 L687.69,134.51 L687.72,135.19 L687.73,135.87 L687.74,136.55 L687.73,137.24 L687.72,137.93 L687.69,138.62 L687.65,139.31 L687.60,140.00 L687.60,140.00 L687.60,162.00" stroke="#ff3344"/>
<path d="M583.90,162.00 L583.90,112.00 L583.90,112.00 L584.06,111.37 L584.21,110.74 L584.34,110.11 L584.46,109.47 L584.56,108.82 L584.65,108.17 L584.74,107.52 L584.81,106.86 L584.88,106.20 L584.94,105.53 L585.00,104.86 L585.05,104.18 L585.10,103.50 L585.16,102.82 L585.21,102.13 L585.27,101.44 L585.33,100.74 L585.40,100.04 L585.48,99.33 L585.56,98.62 L585.66,97.90 L585.76,97.18 L585.88,96.46 L586.02,95.73 L586.17,95.01 L586.34,94.29 L586.54,93.59 L586.76,92.92 L587.00,92.27 L587.28,91.66 L587.59,91.09 L587.93,90.57 L588.31,90.10 L588.73,89.70 L589.19,89.35 L589.67,89.05 L590.19,88.81 L590.74,88.61 L591.31,88.47 L591.91,88.37 L592.53,88.32 L593.17,88.30 L593.83,88.31 L594.49,88.34 L595.16,88.36 L595.82,88.39 L596.49,88.40 L597.16,88.42 L597.83,88.43 L598.50,88.43 L599.16,88.43 L599.83,88.42 L600.50,88.41 L601.17,88.40 L601.84,88.39 L602.51,88.36 L603.18,88.34 L603.85,88.31 L604.52,88.28 L605.19,88.25 L605.86,88.21 L606.53,88.17 L607.20,88.13 L607.88,88.08 L608.55,88.03 L609.22,87.98 L609.89,87.93 L610.56,87.88 L611.23,87.82 L611.90,87.76 L612.58,87.70 L613.25,87.64 L613.92,87.58 L614.59,87.51 L615.27,87.45 L615.94,87.38 L616.61,87.31 L617.28,87.24 L617.95,87.17 L618.63,87.10 L619.30,87.03 L619.97,86.96 L620.64,86.89 L621.32,86.82 L621.99,86.75 L622.66,86.68 L623.33,86.62 L624.00,86.55 L624.68,86.48 L625.35,86.41 L626.02,86.35 L626.69,86.28 L627.36,86.22 L628.04,86.16 L628.71,86.09 L629.38,86.04 L630.05,85.98 L630.72,85.92 L631.39,85.87 L632.06,85.82 L632.73,85.77 L633.40,85.72 L634.07,85.68 L634.74,85.64 L635.41,85.60 L636.08,85.57 L636.75,85.54 L637.42,85.51 L638.09,85.48 L638.76,85.46 L639.43,85.44 L640.09,85.43 L640.76,85.42 L641.43,85.41 L642.10,85.41 L642.76,85.41 L643.43,85.42 L644.10,85.43 L644.76,85.45 L645.43,85.47 L646.09,85.50 L646.76,85.53 L647.42,85.57 L648.09,85.61 L648.75,85.66 L649.41,85.71 L650.08,85.77 L650.74,85.84 L651.40,85.91 L652.06,85.99 L652.72,86.08 L653.38,86.19 L654.03,86.30 L654.68,86.43 L655.32,86.57 L655.96,86.73 L656.60,86.90 L657.23,87.10 L657.86,87.31 L658.47,87.54 L659.09,87.79 L659.69,88.07 L660.29,88.37 L660.87,88.69 L661.46,89.04 L662.03,89.40 L662.61,89.77 L663.17,90.16 L663.74,90.55 L664.31,90.94 L664.87,91.34 L665.44,91.73 L666.01,92.12 L666.58,92.51 L667.14,92.89 L667.71,93.28 L668.27,93.67 L668.83,94.05 L669.39,94.44 L669.94,94.84 L670.48,95.24 L671.02,95.64 L671.55,96.05 L672.07,96.47 L672.58,96.89 L673.09,97.32 L673.58,97.76 L674.06,98.21 L674.52,98.68 L674.98,99.15 L675.42,99.64 L675.84,100.14 L676.25,100.65 L676.65,101.18 L677.03,101.71 L677.41,102.26 L677.77,102.82 L678.11,103.38 L678.45,103.96 L678.77,104.54 L679.09,105.13 L679.39,105.73 L679.68,106.34 L679.97,106.95 L680.24,107.57 L680.51,108.19 L680.76,108.82 L681.01,109.46 L681.25,110.09 L681.48,110.73 L681.71,111.38 L681.93,112.02 L682.14,112.67 L682.35,113.32 L682.55,113.97 L682.74,114.62 L682.94,115.27 L683.12,115.91 L683.30,116.56 L683.48,117.20 L683.66,117.85 L683.83,118.49 L684.00,119.12 L684.17,119.75 L684.34,120.38 L684.50,121.00 L684.50,121.00 L684.60,162.00" stroke="#6a8ff0"/>
<path d="M586.00,162.00 L586.00,112.00 L586.00,112.00 L586.03,111.32 L586.06,110.64 L586.09,109.96 L586.13,109.27 L586.17,108.59 L586.21,107.90 L586.25,107.22 L586.29,106.53 L586.34,105.85 L586.39,105.16 L586.45,104.48 L586.51,103.79 L586.57,103.11 L586.64,102.43 L586.71,101.74 L586.79,101.06 L586.88,100.38 L586.97,99.70 L587.07,99.02 L587.17,98.34 L587.28,97.66 L587.40,96.99 L587.53,96.31 L587.66,95.64 L587.80,94.97 L587.95,94.30 L588.11,93.64 L588.27,92.98 L588.45,92.32 L588.64,91.66 L588.83,91.00 L589.04,90.35 L589.25,89.70 L589.48,89.05 L589.72,88.41 L589.97,87.77 L590.23,87.13 L590.50,86.50 L590.50,86.50 L591.14,86.65 L591.79,86.79 L592.43,86.92 L593.08,87.05 L593.73,87.16 L594.38,87.27 L595.03,87.36 L595.68,87.45 L596.34,87.54 L596.99,87.61 L597.65,87.68 L598.31,87.74 L598.97,87.79 L599.63,87.84 L600.29,87.88 L600.96,87.91 L601.62,87.93 L602.28,87.95 L602.95,87.97 L603.62,87.98 L604.29,87.98 L604.96,87.98 L605.63,87.97 L606.30,87.96 L606.97,87.94 L607.64,87.92 L608.31,87.89 L608.99,87.86 L609.66,87.83 L610.34,87.79 L611.02,87.75 L611.69,87.70 L612.37,87.66 L613.05,87.60 L613.73,87.55 L614.41,87.49 L615.09,87.43 L615.77,87.37 L616.45,87.31 L617.13,87.24 L617.81,87.17 L618.49,87.11 L619.17,87.03 L619.85,86.96 L620.53,86.89 L621.22,86.82 L621.90,86.74 L622.58,86.67 L623.26,86.60 L623.95,86.52 L624.63,86.45 L625.31,86.37 L626.00,86.30 L626.68,86.23 L627.36,86.16 L628.04,86.09 L628.73,86.02 L629.41,85.95 L630.09,85.89 L630.77,85.82 L631.45,85.76 L632.13,85.70 L632.81,85.64 L633.49,85.59 L634.17,85.54 L634.85,85.49 L635.53,85.45 L636.21,85.40 L636.89,85.37 L637.56,85.33 L638.24,85.30 L638.92,85.28 L639.59,85.26 L640.27,85.24 L640.94,85.23 L641.61,85.22 L642.29,85.22 L642.96,85.22 L643.63,85.23 L644.30,85.25 L644.96,85.27 L645.63,85.29 L646.30,85.33 L646.96,85.37 L647.63,85.41 L648.29,85.47 L648.96,85.53 L649.62,85.60 L650.28,85.67 L650.94,85.75 L651.59,85.84 L652.25,85.94 L652.90,86.05 L653.56,86.17 L654.21,86.29 L654.86,86.42 L655.51,86.56 L656.15,86.71 L656.80,86.87 L657.44,87.04 L658.08,87.22 L658.71,87.40 L659.35,87.60 L659.97,87.80 L660.60,88.01 L661.22,88.24 L661.84,88.47 L662.45,88.71 L663.06,88.96 L663.66,89.22 L664.26,89.49 L664.86,89.77 L665.45,90.06 L666.03,90.36 L666.61,90.67 L667.18,90.99 L667.74,91.32 L668.30,91.66 L668.85,92.01 L669.40,92.38 L669.93,92.75 L670.46,93.13 L670.99,93.52 L671.50,93.93 L672.01,94.34 L672.51,94.76 L673.00,95.20 L673.48,95.65 L673.96,96.10 L674.42,96.57 L674.88,97.05 L675.32,97.55 L675.76,98.05 L676.18,98.56 L676.60,99.09 L677.01,99.63 L677.40,100.17 L677.79,100.73 L678.16,101.31 L678.52,101.89 L678.88,102.49 L679.22,103.10 L679.54,103.72 L679.86,104.35 L680.16,104.99 L680.46,105.65 L680.73,106.32 L681.00,107.00 L681.00,107.00 L681.20,162.00" stroke="#262626"/>
</g>
<g clip-path="url(#c10)" fill="none" stroke-width="1.05" stroke-linejoin="round">
<path d="M55.50,322.00 L55.50,244.00 L55.50,244.00 L55.70,243.33 L55.91,242.66 L56.14,242.00 L56.39,241.35 L56.66,240.71 L56.94,240.07 L57.24,239.45 L57.56,238.83 L57.90,238.21 L58.25,237.61 L58.61,237.02 L58.99,236.43 L59.39,235.86 L59.80,235.30 L60.22,234.74 L60.66,234.20 L61.11,233.67 L61.58,233.14 L62.05,232.63 L62.54,232.13 L63.04,231.65 L63.56,231.17 L64.08,230.71 L64.62,230.26 L65.16,229.82 L65.72,229.40 L66.28,228.99 L66.86,228.60 L67.44,228.21 L68.03,227.85 L68.64,227.49 L69.24,227.16 L69.86,226.83 L70.49,226.53 L71.12,226.23 L71.76,225.96 L72.40,225.70 L72.40,225.70 L72.78,226.32 L73.19,226.91 L73.61,227.47 L74.06,228.00 L74.52,228.51 L75.00,228.98 L75.49,229.43 L76.01,229.84 L76.53,230.24 L77.07,230.60 L77.63,230.94 L78.19,231.25 L78.77,231.54 L79.36,231.80 L79.96,232.04 L80.57,232.26 L81.18,232.46 L81.81,232.64 L82.44,232.81 L83.07,232.97 L83.71,233.12 L84.35,233.27 L84.99,233.41 L85.63,233.56 L86.28,233.71 L86.92,233.86 L87.56,234.02 L88.20,234.19 L88.84,234.36 L89.47,234.54 L90.11,234.73 L90.74,234.93 L91.37,235.14 L92.00,235.35 L92.63,235.56 L93.26,235.79 L93.88,236.02 L94.51,236.26 L95.13,236.50 L95.75,236.75 L96.37,237.01 L97.00,237.27 L97.62,237.53 L98.23,237.80 L98.85,238.08 L99.47,238.35 L100.09,238.64 L100.70,238.92 L101.32,239.20 L101.93,239.49 L102.55,239.78 L103.16,240.08 L103.77,240.37 L104.37,240.68 L104.97,240.98 L105.57,241.29 L106.17,241.61 L106.76,241.93 L107.35,242.26 L107.93,242.60 L108.51,242.94 L109.08,243.29 L109.64,243.65 L110.20,244.02 L110.75,244.40 L111.30,244.78 L111.83,245.18 L112.37,245.58 L112.89,245.99 L113.42,246.40 L113.93,246.82 L114.44,247.25 L114.95,247.69 L115.44,248.13 L115.94,248.58 L116.43,249.04 L116.91,249.50 L117.39,249.97 L117.86,250.44 L118.33,250.92 L118.80,251.41 L119.26,251.90 L119.71,252.39 L120.16,252.89 L120.61,253.39 L121.06,253.90 L121.50,254.41 L121.93,254.93 L122.36,255.45 L122.79,255.97 L123.22,256.50 L123.64,257.03 L124.06,257.56 L124.47,258.10 L124.89,258.64 L125.29,259.18 L125.70,259.72 L126.11,260.27 L126.51,260.82 L126.91,261.37 L127.30,261.92 L127.70,262.47 L128.09,263.02 L128.48,263.57 L128.87,264.13 L129.26,264.68 L129.64,265.24 L130.02,265.80 L130.40,266.36 L130.78,266.92 L131.15,267.48 L131.52,268.04 L131.89,268.60 L132.25,269.17 L132.61,269.74 L132.96,270.31 L133.31,270.88 L133.66,271.45 L134.00,272.03 L134.33,272.61 L134.66,273.19 L134.99,273.77 L135.31,274.36 L135.62,274.94 L135.93,275.53 L136.23,276.13 L136.52,276.73 L136.81,277.33 L137.09,277.93 L137.37,278.53 L137.64,279.14 L137.90,279.76 L138.15,280.37 L138.40,280.99 L138.65,281.61 L138.88,282.23 L139.12,282.86 L139.34,283.49 L139.56,284.12 L139.78,284.75 L139.99,285.39 L140.20,286.02 L140.40,286.66 L140.60,287.30 L140.79,287.95 L140.98,288.59 L141.17,289.24 L141.35,289.89 L141.53,290.54 L141.70,291.19 L141.88,291.84 L142.04,292.49 L142.21,293.15 L142.37,293.81 L142.53,294.46 L142.69,295.12 L142.84,295.78 L143.00,296.44 L143.15,297.10 L143.30,297.77 L143.45,298.43 L143.59,299.09 L143.74,299.76 L143.88,300.42 L144.02,301.08 L144.16,301.75 L144.30,302.41 L144.44,303.08 L144.58,303.74 L144.72,304.41 L144.86,305.07 L145.00,305.73 L145.14,306.40 L145.28,307.06 L145.42,307.72 L145.57,308.38 L145.71,309.05 L145.85,309.71 L146.00,310.37 L146.14,311.02 L146.29,311.68 L146.44,312.34 L146.59,312.99 L146.75,313.65 L146.90,314.30 L147.06,314.95 L147.22,315.60 L147.38,316.25 L147.55,316.90 L147.72,317.54 L147.89,318.18 L148.07,318.83 L148.25,319.46 L148.43,320.10 L148.61,320.74 L148.81,321.37 L149.00,322.00" stroke="#ff9740"/>
<path d="M70.20,322.00 L70.20,245.00 L70.20,245.00 L70.29,244.38 L70.38,243.75 L70.45,243.10 L70.53,242.44 L70.60,241.77 L70.67,241.09 L70.73,240.40 L70.80,239.70 L70.87,239.00 L70.94,238.29 L71.01,237.58 L71.08,236.86 L71.17,236.14 L71.25,235.42 L71.35,234.70 L71.45,233.99 L71.57,233.27 L71.69,232.56 L71.83,231.86 L71.98,231.16 L72.14,230.47 L72.32,229.79 L72.51,229.11 L72.73,228.45 L72.96,227.80 L73.21,227.17 L73.48,226.54 L73.77,225.94 L74.09,225.35 L74.43,224.78 L74.79,224.22 L75.19,223.69 L75.61,223.18 L76.05,222.69 L76.53,222.23 L77.04,221.79 L77.58,221.37 L78.15,220.99 L78.76,220.63 L79.40,220.30 L79.40,220.30 L80.09,220.23 L80.76,220.20 L81.44,220.18 L82.10,220.19 L82.76,220.23 L83.42,220.29 L84.07,220.37 L84.71,220.47 L85.35,220.59 L85.99,220.73 L86.62,220.89 L87.24,221.06 L87.87,221.26 L88.48,221.47 L89.10,221.69 L89.71,221.93 L90.32,222.18 L90.92,222.44 L91.53,222.71 L92.13,223.00 L92.73,223.29 L93.32,223.59 L93.92,223.90 L94.51,224.22 L95.10,224.54 L95.69,224.87 L96.28,225.20 L96.87,225.53 L97.45,225.87 L98.04,226.21 L98.63,226.54 L99.22,226.88 L99.80,227.22 L100.39,227.55 L100.98,227.89 L101.57,228.22 L102.16,228.54 L102.75,228.87 L103.34,229.20 L103.93,229.53 L104.51,229.86 L105.10,230.19 L105.68,230.53 L106.26,230.86 L106.84,231.21 L107.41,231.55 L107.99,231.90 L108.55,232.26 L109.12,232.62 L109.68,232.99 L110.24,233.36 L110.79,233.74 L111.34,234.13 L111.88,234.53 L112.42,234.93 L112.95,235.33 L113.49,235.75 L114.01,236.17 L114.53,236.59 L115.05,237.02 L115.56,237.46 L116.07,237.90 L116.57,238.35 L117.07,238.81 L117.56,239.26 L118.05,239.73 L118.53,240.20 L119.01,240.67 L119.48,241.15 L119.95,241.63 L120.42,242.12 L120.87,242.61 L121.33,243.10 L121.77,243.60 L122.22,244.10 L122.65,244.61 L123.09,245.12 L123.51,245.64 L123.93,246.16 L124.35,246.68 L124.76,247.20 L125.16,247.73 L125.56,248.26 L125.96,248.80 L126.35,249.34 L126.73,249.88 L127.11,250.42 L127.49,250.97 L127.86,251.52 L128.22,252.08 L128.58,252.63 L128.94,253.19 L129.29,253.76 L129.64,254.32 L129.98,254.89 L130.32,255.46 L130.65,256.04 L130.98,256.61 L131.30,257.19 L131.62,257.78 L131.94,258.36 L132.25,258.95 L132.56,259.54 L132.86,260.13 L133.16,260.73 L133.45,261.33 L133.75,261.93 L134.03,262.53 L134.32,263.13 L134.60,263.74 L134.87,264.35 L135.14,264.96 L135.41,265.57 L135.68,266.19 L135.94,266.80 L136.20,267.42 L136.45,268.04 L136.70,268.66 L136.95,269.29 L137.19,269.92 L137.43,270.54 L137.67,271.17 L137.91,271.80 L138.14,272.44 L138.37,273.07 L138.59,273.71 L138.82,274.35 L139.04,274.98 L139.25,275.63 L139.47,276.27 L139.68,276.91 L139.89,277.55 L140.09,278.20 L140.30,278.85 L140.50,279.49 L140.70,280.14 L140.89,280.79 L141.09,281.44 L141.28,282.10 L141.47,282.75 L141.65,283.40 L141.84,284.06 L142.02,284.71 L142.20,285.37 L142.38,286.03 L142.55,286.68 L142.73,287.34 L142.90,288.00 L143.07,288.66 L143.24,289.32 L143.41,289.98 L143.57,290.64 L143.73,291.30 L143.90,291.96 L144.06,292.63 L144.22,293.29 L144.37,293.95 L144.53,294.61 L144.68,295.27 L144.84,295.94 L144.99,296.60 L145.14,297.26 L145.29,297.92 L145.44,298.59 L145.59,299.25 L145.74,299.91 L145.88,300.57 L146.03,301.23 L146.17,301.89 L146.31,302.56 L146.46,303.22 L146.60,303.88 L146.74,304.54 L146.88,305.19 L147.02,305.85 L147.16,306.51 L147.30,307.17 L147.44,307.82 L147.58,308.48 L147.72,309.13 L147.85,309.79 L147.99,310.44 L148.13,311.09 L148.27,311.75 L148.41,312.40 L148.54,313.04 L148.68,313.69 L148.82,314.34 L148.96,314.99 L149.09,315.63 L149.23,316.27 L149.37,316.92 L149.51,317.56 L149.65,318.20 L149.79,318.83 L149.93,319.47 L150.07,320.10 L150.21,320.74 L150.36,321.37 L150.50,322.00" stroke="#3d9b3d"/>
<path d="M76.40,322.00 L76.40,245.00 L76.40,245.00 L76.59,244.39 L76.76,243.77 L76.92,243.14 L77.06,242.51 L77.19,241.86 L77.31,241.21 L77.42,240.55 L77.52,239.89 L77.62,239.22 L77.71,238.54 L77.80,237.87 L77.88,237.18 L77.96,236.50 L78.05,235.81 L78.13,235.13 L78.21,234.44 L78.30,233.75 L78.40,233.06 L78.50,232.38 L78.61,231.69 L78.72,231.01 L78.85,230.33 L78.99,229.66 L79.15,228.99 L79.31,228.32 L79.50,227.66 L79.70,227.01 L79.92,226.37 L80.15,225.73 L80.41,225.10 L80.70,224.48 L81.00,223.88 L81.33,223.29 L81.68,222.73 L82.06,222.19 L82.47,221.68 L82.91,221.20 L83.37,220.76 L83.86,220.35 L84.39,219.99 L84.94,219.68 L85.53,219.41 L86.15,219.20 L86.80,219.03 L87.46,218.90 L88.12,218.79 L88.79,218.71 L89.45,218.65 L90.11,218.61 L90.77,218.58 L91.42,218.58 L92.08,218.60 L92.73,218.63 L93.38,218.68 L94.03,218.75 L94.67,218.84 L95.31,218.94 L95.95,219.06 L96.59,219.20 L97.22,219.36 L97.86,219.52 L98.48,219.71 L99.11,219.91 L99.73,220.12 L100.35,220.35 L100.96,220.59 L101.58,220.85 L102.18,221.12 L102.79,221.40 L103.39,221.70 L103.98,222.00 L104.58,222.32 L105.17,222.65 L105.75,222.99 L106.33,223.34 L106.91,223.71 L107.48,224.08 L108.05,224.46 L108.61,224.85 L109.17,225.25 L109.72,225.66 L110.27,226.08 L110.82,226.50 L111.36,226.93 L111.89,227.37 L112.42,227.82 L112.94,228.27 L113.46,228.73 L113.97,229.19 L114.48,229.66 L114.98,230.14 L115.48,230.62 L115.97,231.10 L116.46,231.59 L116.93,232.08 L117.41,232.57 L117.87,233.07 L118.34,233.57 L118.79,234.07 L119.24,234.58 L119.68,235.09 L120.12,235.61 L120.56,236.12 L120.98,236.64 L121.40,237.16 L121.82,237.69 L122.23,238.22 L122.64,238.75 L123.04,239.29 L123.43,239.82 L123.82,240.36 L124.21,240.91 L124.59,241.45 L124.96,242.00 L125.33,242.55 L125.70,243.11 L126.06,243.67 L126.41,244.23 L126.76,244.79 L127.11,245.35 L127.45,245.92 L127.78,246.49 L128.12,247.06 L128.44,247.64 L128.77,248.21 L129.08,248.79 L129.40,249.37 L129.71,249.96 L130.01,250.54 L130.32,251.13 L130.61,251.72 L130.91,252.32 L131.19,252.91 L131.48,253.51 L131.76,254.11 L132.04,254.71 L132.31,255.31 L132.58,255.92 L132.85,256.53 L133.11,257.13 L133.37,257.75 L133.62,258.36 L133.87,258.97 L134.12,259.59 L134.37,260.21 L134.61,260.83 L134.85,261.45 L135.08,262.07 L135.31,262.70 L135.54,263.32 L135.76,263.95 L135.99,264.58 L136.21,265.21 L136.42,265.84 L136.63,266.48 L136.84,267.11 L137.05,267.75 L137.26,268.39 L137.46,269.02 L137.66,269.66 L137.86,270.31 L138.05,270.95 L138.24,271.59 L138.43,272.24 L138.62,272.88 L138.80,273.53 L138.98,274.18 L139.16,274.83 L139.34,275.48 L139.52,276.13 L139.69,276.78 L139.86,277.43 L140.03,278.09 L140.20,278.74 L140.37,279.39 L140.53,280.05 L140.69,280.71 L140.85,281.36 L141.01,282.02 L141.17,282.68 L141.33,283.34 L141.48,284.00 L141.63,284.66 L141.78,285.32 L141.93,285.98 L142.08,286.64 L142.23,287.30 L142.38,287.96 L142.52,288.62 L142.67,289.29 L142.81,289.95 L142.95,290.61 L143.09,291.27 L143.23,291.94 L143.37,292.60 L143.51,293.26 L143.65,293.93 L143.78,294.59 L143.92,295.25 L144.06,295.91 L144.19,296.58 L144.33,297.24 L144.46,297.90 L144.59,298.57 L144.73,299.23 L144.86,299.89 L144.99,300.55 L145.13,301.21 L145.26,301.87 L145.39,302.53 L145.53,303.19 L145.66,303.85 L145.79,304.51 L145.92,305.17 L146.06,305.83 L146.19,306.49 L146.32,307.14 L146.46,307.80 L146.59,308.46 L146.73,309.11 L146.86,309.76 L147.00,310.42 L147.14,311.07 L147.27,311.72 L147.41,312.37 L147.55,313.02 L147.69,313.67 L147.83,314.32 L147.97,314.96 L148.11,315.61 L148.26,316.25 L148.40,316.90 L148.55,317.54 L148.69,318.18 L148.84,318.82 L148.99,319.46 L149.14,320.10 L149.29,320.73 L149.45,321.37 L149.60,322.00" stroke="#ff3344"/>
<path d="M80.60,322.00 L80.60,250.00 L80.60,250.00 L80.57,249.28 L80.56,248.58 L80.56,247.88 L80.57,247.19 L80.60,246.50 L80.63,245.82 L80.67,245.15 L80.73,244.49 L80.79,243.82 L80.86,243.17 L80.95,242.51 L81.04,241.86 L81.13,241.21 L81.24,240.57 L81.35,239.93 L81.46,239.29 L81.58,238.65 L81.71,238.01 L81.84,237.37 L81.98,236.73 L82.11,236.08 L82.25,235.44 L82.40,234.80 L82.54,234.15 L82.69,233.50 L82.84,232.85 L82.98,232.19 L83.13,231.53 L83.28,230.86 L83.43,230.19 L83.57,229.51 L83.71,228.82 L83.85,228.13 L83.99,227.43 L84.12,226.73 L84.25,226.02 L84.39,225.31 L84.53,224.60 L84.69,223.92 L84.87,223.25 L85.07,222.60 L85.29,221.99 L85.55,221.42 L85.85,220.88 L86.18,220.40 L86.57,219.96 L87.00,219.59 L87.49,219.28 L88.03,219.03 L88.60,218.82 L89.19,218.64 L89.80,218.48 L90.43,218.34 L91.07,218.22 L91.72,218.12 L92.39,218.04 L93.06,217.98 L93.75,217.95 L94.44,217.93 L95.14,217.94 L95.84,217.96 L96.55,218.00 L97.26,218.06 L97.97,218.14 L98.68,218.24 L99.38,218.36 L100.09,218.50 L100.78,218.65 L101.47,218.82 L102.16,219.01 L102.83,219.22 L103.49,219.44 L104.14,219.68 L104.78,219.93 L105.40,220.21 L106.01,220.49 L106.61,220.79 L107.20,221.11 L107.78,221.44 L108.34,221.78 L108.89,222.14 L109.44,222.51 L109.97,222.89 L110.50,223.28 L111.01,223.68 L111.52,224.09 L112.02,224.51 L112.51,224.94 L112.99,225.38 L113.47,225.83 L113.94,226.29 L114.41,226.75 L114.87,227.22 L115.33,227.69 L115.78,228.17 L116.22,228.66 L116.67,229.15 L117.10,229.64 L117.54,230.14 L117.97,230.64 L118.40,231.15 L118.83,231.66 L119.25,232.17 L119.66,232.69 L120.08,233.21 L120.49,233.74 L120.90,234.27 L121.30,234.80 L121.70,235.34 L122.09,235.88 L122.48,236.42 L122.87,236.97 L123.26,237.52 L123.64,238.08 L124.01,238.63 L124.39,239.19 L124.76,239.76 L125.12,240.32 L125.48,240.89 L125.84,241.47 L126.19,242.04 L126.54,242.62 L126.89,243.20 L127.23,243.78 L127.57,244.37 L127.91,244.96 L128.24,245.55 L128.56,246.14 L128.89,246.74 L129.21,247.34 L129.52,247.94 L129.83,248.54 L130.14,249.15 L130.44,249.76 L130.74,250.36 L131.04,250.98 L131.33,251.59 L131.62,252.20 L131.90,252.82 L132.18,253.44 L132.46,254.06 L132.73,254.68 L133.00,255.30 L133.26,255.93 L133.52,256.55 L133.78,257.18 L134.03,257.81 L134.27,258.44 L134.52,259.07 L134.76,259.70 L134.99,260.33 L135.22,260.97 L135.45,261.60 L135.67,262.24 L135.89,262.87 L136.11,263.51 L136.32,264.15 L136.52,264.79 L136.73,265.43 L136.93,266.07 L137.12,266.71 L137.31,267.35 L137.50,267.99 L137.69,268.64 L137.87,269.28 L138.05,269.92 L138.22,270.57 L138.39,271.21 L138.56,271.86 L138.73,272.51 L138.89,273.15 L139.05,273.80 L139.21,274.45 L139.36,275.10 L139.51,275.75 L139.66,276.40 L139.81,277.05 L139.95,277.70 L140.10,278.35 L140.23,279.01 L140.37,279.66 L140.51,280.31 L140.64,280.97 L140.77,281.62 L140.90,282.28 L141.03,282.93 L141.15,283.59 L141.27,284.24 L141.39,284.90 L141.51,285.56 L141.63,286.22 L141.75,286.87 L141.87,287.53 L141.98,288.19 L142.09,288.85 L142.20,289.51 L142.31,290.17 L142.42,290.83 L142.53,291.49 L142.64,292.15 L142.75,292.81 L142.85,293.47 L142.96,294.13 L143.06,294.79 L143.17,295.45 L143.27,296.12 L143.37,296.78 L143.48,297.44 L143.58,298.10 L143.68,298.77 L143.78,299.43 L143.89,300.09 L143.99,300.76 L144.09,301.42 L144.19,302.08 L144.30,302.75 L144.40,303.41 L144.50,304.07 L144.61,304.74 L144.71,305.40 L144.82,306.07 L144.92,306.73 L145.03,307.40 L145.14,308.06 L145.24,308.72 L145.35,309.39 L145.46,310.05 L145.58,310.72 L145.69,311.38 L145.80,312.05 L145.92,312.71 L146.03,313.37 L146.15,314.04 L146.27,314.70 L146.39,315.37 L146.51,316.03 L146.64,316.69 L146.76,317.36 L146.89,318.02 L147.02,318.69 L147.15,319.35 L147.29,320.01 L147.42,320.67 L147.56,321.34 L147.70,322.00" stroke="#6a8ff0"/>
<path d="M82.20,322.00 L82.30,250.00 L82.30,250.00 L82.39,249.36 L82.46,248.72 L82.53,248.07 L82.59,247.42 L82.65,246.77 L82.70,246.11 L82.74,245.45 L82.78,244.79 L82.82,244.12 L82.85,243.45 L82.88,242.78 L82.90,242.11 L82.93,241.43 L82.95,240.75 L82.97,240.07 L83.00,239.39 L83.02,238.71 L83.05,238.03 L83.08,237.34 L83.11,236.65 L83.14,235.97 L83.18,235.28 L83.22,234.59 L83.27,233.90 L83.32,233.22 L83.38,232.53 L83.45,231.84 L83.52,231.15 L83.61,230.47 L83.70,229.78 L83.80,229.10 L83.91,228.42 L84.04,227.74 L84.17,227.06 L84.32,226.38 L84.48,225.71 L84.66,225.04 L84.85,224.39 L85.06,223.75 L85.29,223.13 L85.54,222.53 L85.82,221.95 L86.12,221.40 L86.45,220.88 L86.80,220.39 L87.19,219.94 L87.60,219.52 L88.05,219.15 L88.54,218.82 L89.06,218.54 L89.61,218.30 L90.19,218.11 L90.79,217.95 L91.42,217.83 L92.07,217.74 L92.74,217.69 L93.42,217.66 L94.11,217.66 L94.81,217.68 L95.52,217.73 L96.23,217.79 L96.95,217.87 L97.66,217.97 L98.37,218.08 L99.07,218.20 L99.78,218.34 L100.47,218.49 L101.16,218.66 L101.84,218.83 L102.52,219.01 L103.18,219.21 L103.84,219.42 L104.49,219.64 L105.13,219.87 L105.76,220.12 L106.39,220.38 L107.00,220.64 L107.61,220.93 L108.20,221.22 L108.79,221.53 L109.36,221.85 L109.93,222.18 L110.49,222.52 L111.03,222.88 L111.57,223.25 L112.09,223.63 L112.61,224.02 L113.12,224.43 L113.62,224.84 L114.11,225.27 L114.59,225.70 L115.07,226.15 L115.53,226.61 L115.99,227.07 L116.44,227.54 L116.88,228.03 L117.32,228.52 L117.75,229.02 L118.17,229.52 L118.59,230.04 L119.00,230.56 L119.40,231.09 L119.79,231.63 L120.19,232.17 L120.57,232.72 L120.95,233.27 L121.33,233.83 L121.70,234.39 L122.06,234.96 L122.42,235.53 L122.78,236.11 L123.13,236.69 L123.48,237.28 L123.83,237.87 L124.17,238.46 L124.51,239.05 L124.84,239.65 L125.18,240.25 L125.51,240.85 L125.83,241.45 L126.16,242.05 L126.48,242.65 L126.80,243.26 L127.12,243.86 L127.44,244.46 L127.76,245.07 L128.08,245.67 L128.39,246.27 L128.71,246.88 L129.02,247.48 L129.33,248.08 L129.63,248.69 L129.94,249.29 L130.24,249.89 L130.54,250.50 L130.84,251.10 L131.14,251.71 L131.43,252.31 L131.72,252.92 L132.00,253.52 L132.29,254.13 L132.56,254.74 L132.84,255.35 L133.11,255.96 L133.38,256.57 L133.64,257.18 L133.90,257.80 L134.15,258.41 L134.40,259.03 L134.65,259.65 L134.89,260.27 L135.12,260.89 L135.35,261.52 L135.58,262.14 L135.79,262.77 L136.01,263.40 L136.22,264.03 L136.42,264.66 L136.62,265.29 L136.82,265.93 L137.01,266.56 L137.19,267.20 L137.38,267.84 L137.55,268.48 L137.73,269.13 L137.90,269.77 L138.06,270.41 L138.23,271.06 L138.38,271.71 L138.54,272.36 L138.69,273.01 L138.84,273.66 L138.98,274.31 L139.12,274.96 L139.26,275.62 L139.39,276.27 L139.53,276.93 L139.66,277.59 L139.78,278.25 L139.90,278.91 L140.03,279.57 L140.14,280.23 L140.26,280.89 L140.37,281.55 L140.49,282.21 L140.59,282.88 L140.70,283.54 L140.81,284.21 L140.91,284.87 L141.01,285.54 L141.11,286.20 L141.21,286.87 L141.31,287.54 L141.41,288.21 L141.50,288.88 L141.60,289.54 L141.69,290.21 L141.78,290.88 L141.87,291.55 L141.96,292.22 L142.05,292.89 L142.14,293.56 L142.23,294.23 L142.32,294.90 L142.40,295.57 L142.49,296.24 L142.58,296.91 L142.67,297.58 L142.75,298.25 L142.84,298.92 L142.93,299.59 L143.02,300.26 L143.11,300.93 L143.20,301.60 L143.29,302.26 L143.38,302.93 L143.47,303.60 L143.56,304.27 L143.66,304.93 L143.75,305.60 L143.85,306.27 L143.95,306.93 L144.05,307.60 L144.15,308.26 L144.25,308.92 L144.36,309.59 L144.46,310.25 L144.57,310.91 L144.68,311.57 L144.79,312.23 L144.91,312.89 L145.02,313.55 L145.14,314.20 L145.27,314.86 L145.39,315.51 L145.52,316.17 L145.65,316.82 L145.78,317.47 L145.92,318.12 L146.06,318.77 L146.20,319.42 L146.34,320.07 L146.49,320.71 L146.64,321.36 L146.80,322.00" stroke="#262626"/>
</g>
<g clip-path="url(#c11)" fill="none" stroke-width="1.05" stroke-linejoin="round">
<path d="M223.20,322.00 L223.20,214.00 L223.20,214.00 L223.53,213.41 L223.87,212.82 L224.20,212.22 L224.54,211.62 L224.88,211.02 L225.22,210.42 L225.56,209.82 L225.91,209.22 L226.26,208.63 L226.61,208.03 L226.97,207.43 L227.33,206.84 L227.70,206.24 L228.07,205.65 L228.45,205.07 L228.83,204.49 L229.22,203.91 L229.61,203.34 L230.01,202.77 L230.42,202.21 L230.84,201.65 L231.26,201.11 L231.69,200.57 L232.13,200.03 L232.57,199.51 L233.03,198.99 L233.49,198.49 L233.97,197.99 L234.45,197.50 L234.95,197.03 L235.45,196.56 L235.97,196.11 L236.49,195.67 L237.03,195.24 L237.58,194.82 L238.14,194.42 L238.71,194.03 L239.30,193.66 L239.90,193.30 L239.90,193.30 L240.46,193.67 L241.02,194.04 L241.58,194.40 L242.15,194.75 L242.72,195.10 L243.30,195.44 L243.87,195.77 L244.45,196.10 L245.04,196.42 L245.62,196.73 L246.21,197.04 L246.80,197.35 L247.40,197.64 L247.99,197.94 L248.59,198.23 L249.19,198.51 L249.80,198.79 L250.40,199.06 L251.01,199.33 L251.62,199.60 L252.23,199.86 L252.85,200.12 L253.46,200.38 L254.08,200.63 L254.70,200.88 L255.32,201.12 L255.95,201.37 L256.57,201.61 L257.20,201.84 L257.83,202.08 L258.46,202.31 L259.09,202.54 L259.72,202.77 L260.35,203.00 L260.99,203.23 L261.62,203.45 L262.26,203.68 L262.90,203.90 L263.54,204.12 L264.18,204.35 L264.82,204.57 L265.46,204.79 L266.10,205.01 L266.74,205.23 L267.38,205.46 L268.03,205.68 L268.67,205.90 L269.32,206.13 L269.96,206.35 L270.60,206.58 L271.25,206.81 L271.89,207.04 L272.54,207.27 L273.18,207.50 L273.82,207.74 L274.46,207.98 L275.10,208.21 L275.74,208.46 L276.38,208.70 L277.02,208.95 L277.65,209.19 L278.29,209.45 L278.92,209.70 L279.55,209.96 L280.18,210.22 L280.81,210.48 L281.43,210.75 L282.05,211.02 L282.67,211.30 L283.29,211.58 L283.90,211.86 L284.51,212.15 L285.12,212.44 L285.72,212.74 L286.32,213.04 L286.92,213.34 L287.52,213.65 L288.11,213.97 L288.69,214.29 L289.27,214.61 L289.85,214.95 L290.43,215.28 L291.00,215.62 L291.56,215.97 L292.12,216.33 L292.67,216.69 L293.22,217.05 L293.77,217.43 L294.31,217.80 L294.84,218.19 L295.37,218.58 L295.90,218.98 L296.41,219.39 L296.92,219.80 L297.43,220.22 L297.93,220.64 L298.42,221.07 L298.91,221.51 L299.40,221.96 L299.87,222.41 L300.34,222.86 L300.81,223.33 L301.27,223.80 L301.72,224.27 L302.17,224.75 L302.60,225.24 L303.04,225.73 L303.47,226.23 L303.89,226.73 L304.30,227.24 L304.71,227.76 L305.11,228.28 L305.51,228.81 L305.89,229.34 L306.28,229.87 L306.65,230.42 L307.02,230.96 L307.38,231.52 L307.74,232.08 L308.08,232.64 L308.43,233.21 L308.76,233.78 L309.09,234.35 L309.42,234.94 L309.74,235.52 L310.05,236.11 L310.36,236.70 L310.67,237.30 L310.96,237.90 L311.26,238.50 L311.55,239.11 L311.83,239.72 L312.11,240.33 L312.39,240.94 L312.66,241.56 L312.92,242.18 L313.19,242.81 L313.44,243.43 L313.70,244.06 L313.95,244.69 L314.20,245.32 L314.45,245.95 L314.69,246.58 L314.93,247.22 L315.16,247.85 L315.40,248.49 L315.63,249.13 L315.86,249.77 L316.08,250.41 L316.31,251.05 L316.53,251.69 L316.75,252.33 L316.97,252.97 L317.18,253.62 L317.40,254.26 L317.61,254.90 L317.82,255.55 L318.03,256.19 L318.23,256.84 L318.44,257.48 L318.64,258.13 L318.85,258.77 L319.05,259.42 L319.25,260.06 L319.45,260.71 L319.64,261.36 L319.84,262.00 L320.03,262.65 L320.23,263.30 L320.42,263.94 L320.62,264.59 L320.81,265.24 L321.00,265.89 L321.19,266.53 L321.38,267.18 L321.57,267.83 L321.76,268.47 L321.94,269.12 L322.13,269.77 L322.32,270.41 L322.51,271.06 L322.70,271.70 L322.88,272.35 L323.07,273.00 L323.26,273.64 L323.45,274.29 L323.63,274.93 L323.82,275.58 L324.01,276.22 L324.20,276.86 L324.38,277.51 L324.57,278.15 L324.76,278.79 L324.95,279.44 L325.13,280.08 L325.32,280.72 L325.51,281.36 L325.69,282.01 L325.88,282.65 L326.06,283.29 L326.24,283.93 L326.43,284.58 L326.61,285.22 L326.79,285.86 L326.97,286.50 L327.15,287.15 L327.33,287.79 L327.50,288.43 L327.68,289.08 L327.85,289.72 L328.03,290.36 L328.20,291.01 L328.37,291.65 L328.54,292.29 L328.70,292.94 L328.87,293.59 L329.03,294.23 L329.19,294.88 L329.35,295.52 L329.51,296.17 L329.67,296.82 L329.82,297.47 L329.97,298.11 L330.12,298.76 L330.27,299.41 L330.41,300.06 L330.56,300.71 L330.70,301.36 L330.83,302.02 L330.97,302.67 L331.10,303.32 L331.23,303.98 L331.36,304.63 L331.48,305.29 L331.61,305.94 L331.72,306.60 L331.84,307.26 L331.95,307.92 L332.06,308.58 L332.17,309.24 L332.27,309.90 L332.37,310.56 L332.47,311.23 L332.56,311.89 L332.65,312.56 L332.74,313.22 L332.82,313.89 L332.90,314.56 L332.97,315.23 L333.04,315.90 L333.11,316.57 L333.17,317.25 L333.23,317.92 L333.29,318.60 L333.34,319.28 L333.39,319.96 L333.43,320.64 L333.47,321.32 L333.50,322.00" stroke="#ff9740"/>
<path d="M237.80,322.00 L237.80,217.60 L237.80,217.60 L237.83,216.92 L237.86,216.24 L237.90,215.56 L237.95,214.88 L238.00,214.19 L238.06,213.51 L238.13,212.82 L238.21,212.14 L238.29,211.45 L238.39,210.77 L238.49,210.08 L238.60,209.40 L238.72,208.71 L238.85,208.03 L238.99,207.36 L239.14,206.68 L239.30,206.01 L239.47,205.33 L239.65,204.67 L239.85,204.00 L240.05,203.34 L240.26,202.69 L240.49,202.04 L240.73,201.39 L240.98,200.75 L241.24,200.12 L241.51,199.49 L241.80,198.87 L242.10,198.25 L242.41,197.64 L242.74,197.04 L243.08,196.45 L243.44,195.86 L243.80,195.28 L244.19,194.71 L244.58,194.15 L245.00,193.60 L245.42,193.06 L245.87,192.53 L246.33,192.01 L246.80,191.50 L246.80,191.50 L247.47,191.38 L248.13,191.28 L248.80,191.19 L249.46,191.11 L250.13,191.04 L250.79,190.98 L251.46,190.93 L252.13,190.90 L252.79,190.88 L253.46,190.87 L254.12,190.87 L254.78,190.88 L255.45,190.90 L256.11,190.93 L256.77,190.97 L257.43,191.02 L258.09,191.08 L258.75,191.15 L259.41,191.23 L260.07,191.33 L260.73,191.43 L261.38,191.54 L262.04,191.66 L262.69,191.78 L263.34,191.92 L263.99,192.07 L264.64,192.22 L265.29,192.38 L265.93,192.56 L266.58,192.74 L267.22,192.92 L267.86,193.12 L268.50,193.32 L269.14,193.53 L269.78,193.75 L270.41,193.98 L271.04,194.21 L271.67,194.45 L272.30,194.70 L272.92,194.95 L273.54,195.21 L274.16,195.48 L274.78,195.75 L275.40,196.03 L276.01,196.32 L276.62,196.61 L277.23,196.91 L277.83,197.21 L278.43,197.52 L279.03,197.83 L279.63,198.15 L280.22,198.47 L280.81,198.80 L281.40,199.14 L281.98,199.48 L282.56,199.83 L283.14,200.18 L283.71,200.53 L284.29,200.90 L284.85,201.26 L285.42,201.63 L285.98,202.01 L286.54,202.39 L287.09,202.78 L287.65,203.17 L288.19,203.56 L288.74,203.97 L289.28,204.37 L289.82,204.78 L290.35,205.19 L290.88,205.61 L291.41,206.04 L291.93,206.47 L292.45,206.90 L292.97,207.33 L293.48,207.78 L293.99,208.22 L294.49,208.67 L294.99,209.12 L295.48,209.58 L295.98,210.04 L296.46,210.51 L296.95,210.98 L297.43,211.45 L297.90,211.93 L298.37,212.41 L298.84,212.90 L299.30,213.39 L299.76,213.88 L300.22,214.38 L300.66,214.88 L301.11,215.38 L301.55,215.89 L301.99,216.40 L302.42,216.91 L302.84,217.43 L303.27,217.95 L303.68,218.47 L304.10,219.00 L304.51,219.53 L304.91,220.07 L305.31,220.60 L305.70,221.14 L306.09,221.69 L306.47,222.23 L306.85,222.78 L307.23,223.33 L307.59,223.89 L307.96,224.44 L308.32,225.00 L308.67,225.57 L309.02,226.13 L309.37,226.70 L309.71,227.27 L310.04,227.84 L310.38,228.42 L310.70,229.00 L311.03,229.58 L311.34,230.16 L311.66,230.75 L311.97,231.34 L312.27,231.93 L312.58,232.52 L312.87,233.11 L313.17,233.71 L313.46,234.31 L313.74,234.91 L314.03,235.51 L314.30,236.12 L314.58,236.73 L314.85,237.33 L315.12,237.95 L315.38,238.56 L315.64,239.17 L315.90,239.79 L316.16,240.41 L316.41,241.03 L316.65,241.65 L316.90,242.27 L317.14,242.90 L317.38,243.52 L317.61,244.15 L317.85,244.78 L318.08,245.41 L318.30,246.04 L318.53,246.68 L318.75,247.31 L318.97,247.95 L319.19,248.59 L319.40,249.22 L319.61,249.86 L319.82,250.51 L320.03,251.15 L320.23,251.79 L320.43,252.43 L320.63,253.08 L320.83,253.73 L321.03,254.37 L321.22,255.02 L321.41,255.67 L321.60,256.32 L321.79,256.97 L321.98,257.62 L322.16,258.27 L322.34,258.92 L322.52,259.57 L322.70,260.23 L322.88,260.88 L323.06,261.53 L323.24,262.19 L323.41,262.84 L323.58,263.50 L323.76,264.15 L323.93,264.81 L324.10,265.46 L324.26,266.12 L324.43,266.78 L324.60,267.43 L324.76,268.09 L324.93,268.75 L325.09,269.40 L325.26,270.06 L325.42,270.71 L325.58,271.37 L325.75,272.03 L325.91,272.68 L326.07,273.34 L326.23,273.99 L326.39,274.65 L326.55,275.30 L326.71,275.96 L326.87,276.61 L327.03,277.26 L327.19,277.92 L327.35,278.57 L327.51,279.22 L327.66,279.88 L327.82,280.53 L327.98,281.18 L328.13,281.83 L328.29,282.48 L328.44,283.14 L328.60,283.79 L328.75,284.44 L328.91,285.09 L329.06,285.74 L329.21,286.40 L329.36,287.05 L329.51,287.70 L329.66,288.35 L329.81,289.00 L329.95,289.65 L330.10,290.31 L330.24,290.96 L330.39,291.61 L330.53,292.26 L330.67,292.91 L330.82,293.57 L330.96,294.22 L331.10,294.87 L331.23,295.53 L331.37,296.18 L331.51,296.83 L331.64,297.49 L331.77,298.14 L331.90,298.79 L332.04,299.45 L332.16,300.10 L332.29,300.76 L332.42,301.41 L332.54,302.07 L332.67,302.73 L332.79,303.38 L332.91,304.04 L333.03,304.70 L333.15,305.36 L333.26,306.01 L333.38,306.67 L333.49,307.33 L333.60,307.99 L333.71,308.65 L333.82,309.31 L333.92,309.98 L334.03,310.64 L334.13,311.30 L334.23,311.96 L334.33,312.63 L334.43,313.29 L334.52,313.96 L334.61,314.62 L334.70,315.29 L334.79,315.96 L334.88,316.63 L334.97,317.30 L335.05,317.96 L335.13,318.64 L335.21,319.31 L335.28,319.98 L335.36,320.65 L335.43,321.33 L335.50,322.00" stroke="#3d9b3d"/>
<path d="M244.00,322.00 L244.00,216.00 L244.00,216.00 L244.24,215.43 L244.46,214.84 L244.65,214.24 L244.83,213.62 L244.99,212.99 L245.14,212.35 L245.27,211.70 L245.39,211.03 L245.50,210.36 L245.60,209.68 L245.69,208.99 L245.77,208.30 L245.86,207.60 L245.94,206.90 L246.01,206.20 L246.09,205.50 L246.17,204.79 L246.26,204.09 L246.35,203.39 L246.45,202.69 L246.55,202.00 L246.67,201.31 L246.80,200.62 L246.94,199.95 L247.10,199.28 L247.27,198.63 L247.47,197.98 L247.68,197.35 L247.92,196.73 L248.18,196.12 L248.46,195.53 L248.77,194.95 L249.11,194.40 L249.47,193.87 L249.86,193.37 L250.28,192.90 L250.72,192.45 L251.20,192.05 L251.70,191.68 L252.23,191.35 L252.80,191.06 L253.39,190.82 L254.01,190.61 L254.65,190.44 L255.29,190.29 L255.95,190.16 L256.61,190.04 L257.27,189.94 L257.93,189.85 L258.59,189.77 L259.26,189.71 L259.92,189.65 L260.59,189.61 L261.25,189.59 L261.92,189.57 L262.59,189.57 L263.25,189.58 L263.92,189.60 L264.59,189.63 L265.25,189.68 L265.92,189.73 L266.59,189.80 L267.25,189.87 L267.92,189.96 L268.58,190.06 L269.25,190.17 L269.91,190.29 L270.57,190.43 L271.23,190.57 L271.89,190.72 L272.54,190.88 L273.20,191.05 L273.85,191.23 L274.50,191.43 L275.15,191.63 L275.80,191.84 L276.44,192.06 L277.08,192.29 L277.72,192.52 L278.36,192.77 L278.99,193.03 L279.62,193.29 L280.25,193.56 L280.87,193.84 L281.49,194.13 L282.11,194.43 L282.72,194.74 L283.33,195.05 L283.93,195.37 L284.53,195.70 L285.13,196.03 L285.72,196.38 L286.31,196.73 L286.89,197.08 L287.47,197.45 L288.04,197.82 L288.61,198.20 L289.17,198.58 L289.73,198.97 L290.28,199.37 L290.82,199.77 L291.36,200.18 L291.90,200.60 L292.43,201.02 L292.95,201.44 L293.46,201.87 L293.97,202.31 L294.47,202.75 L294.97,203.20 L295.46,203.65 L295.94,204.11 L296.42,204.57 L296.89,205.04 L297.35,205.51 L297.80,205.99 L298.25,206.47 L298.70,206.95 L299.14,207.44 L299.57,207.94 L299.99,208.44 L300.41,208.94 L300.83,209.45 L301.23,209.96 L301.64,210.48 L302.03,211.00 L302.42,211.52 L302.81,212.05 L303.19,212.58 L303.56,213.11 L303.93,213.65 L304.30,214.20 L304.66,214.74 L305.01,215.30 L305.36,215.85 L305.70,216.41 L306.04,216.97 L306.37,217.53 L306.70,218.10 L307.03,218.67 L307.35,219.25 L307.66,219.82 L307.97,220.40 L308.28,220.99 L308.58,221.57 L308.88,222.16 L309.17,222.76 L309.46,223.35 L309.75,223.95 L310.03,224.55 L310.31,225.15 L310.58,225.76 L310.85,226.37 L311.12,226.98 L311.38,227.59 L311.64,228.21 L311.89,228.82 L312.14,229.44 L312.39,230.07 L312.64,230.69 L312.88,231.32 L313.12,231.95 L313.35,232.58 L313.59,233.21 L313.82,233.84 L314.04,234.48 L314.27,235.11 L314.49,235.75 L314.71,236.39 L314.92,237.04 L315.14,237.68 L315.35,238.32 L315.56,238.97 L315.76,239.62 L315.97,240.27 L316.17,240.91 L316.37,241.57 L316.57,242.22 L316.76,242.87 L316.96,243.52 L317.15,244.18 L317.34,244.83 L317.53,245.49 L317.72,246.15 L317.90,246.80 L318.08,247.46 L318.27,248.12 L318.45,248.78 L318.63,249.44 L318.81,250.10 L318.99,250.76 L319.16,251.42 L319.34,252.08 L319.51,252.74 L319.69,253.40 L319.86,254.06 L320.03,254.72 L320.20,255.38 L320.37,256.04 L320.55,256.70 L320.72,257.36 L320.89,258.01 L321.06,258.67 L321.22,259.33 L321.39,259.99 L321.56,260.64 L321.73,261.30 L321.90,261.96 L322.07,262.61 L322.24,263.26 L322.41,263.92 L322.58,264.57 L322.75,265.22 L322.92,265.87 L323.09,266.52 L323.26,267.17 L323.43,267.82 L323.60,268.47 L323.77,269.11 L323.94,269.76 L324.11,270.41 L324.27,271.05 L324.44,271.70 L324.61,272.34 L324.78,272.99 L324.95,273.63 L325.12,274.27 L325.28,274.92 L325.45,275.56 L325.62,276.20 L325.78,276.85 L325.95,277.49 L326.11,278.13 L326.28,278.77 L326.44,279.41 L326.60,280.06 L326.77,280.70 L326.93,281.34 L327.09,281.98 L327.25,282.62 L327.41,283.26 L327.57,283.90 L327.73,284.54 L327.88,285.19 L328.04,285.83 L328.20,286.47 L328.35,287.11 L328.50,287.75 L328.66,288.39 L328.81,289.04 L328.96,289.68 L329.11,290.32 L329.26,290.96 L329.40,291.61 L329.55,292.25 L329.70,292.90 L329.84,293.54 L329.98,294.19 L330.12,294.83 L330.26,295.48 L330.40,296.12 L330.54,296.77 L330.68,297.42 L330.81,298.07 L330.95,298.71 L331.08,299.36 L331.21,300.01 L331.34,300.66 L331.47,301.32 L331.59,301.97 L331.72,302.62 L331.84,303.27 L331.96,303.93 L332.08,304.58 L332.20,305.24 L332.31,305.90 L332.43,306.55 L332.54,307.21 L332.65,307.87 L332.76,308.53 L332.86,309.20 L332.97,309.86 L333.07,310.52 L333.17,311.19 L333.27,311.85 L333.37,312.52 L333.46,313.19 L333.56,313.86 L333.65,314.53 L333.74,315.20 L333.82,315.88 L333.91,316.55 L333.99,317.23 L334.07,317.91 L334.15,318.58 L334.22,319.26 L334.30,319.95 L334.37,320.63 L334.43,321.31 L334.50,322.00" stroke="#ff3344"/>
<path d="M248.45,322.00 L248.45,218.00 L248.45,218.00 L248.63,217.40 L248.79,216.78 L248.94,216.16 L249.07,215.52 L249.19,214.88 L249.30,214.23 L249.40,213.57 L249.49,212.91 L249.56,212.23 L249.64,211.56 L249.70,210.88 L249.76,210.19 L249.82,209.50 L249.87,208.81 L249.92,208.11 L249.98,207.41 L250.03,206.72 L250.09,206.02 L250.15,205.32 L250.21,204.62 L250.28,203.92 L250.36,203.23 L250.44,202.54 L250.54,201.85 L250.64,201.16 L250.76,200.48 L250.89,199.81 L251.04,199.14 L251.20,198.47 L251.37,197.82 L251.57,197.17 L251.78,196.53 L252.01,195.90 L252.27,195.27 L252.55,194.66 L252.85,194.07 L253.17,193.50 L253.52,192.96 L253.90,192.45 L254.30,191.97 L254.73,191.54 L255.19,191.15 L255.67,190.81 L256.19,190.53 L256.73,190.31 L257.31,190.16 L257.91,190.06 L258.54,190.00 L259.18,189.97 L259.83,189.95 L260.49,189.93 L261.15,189.91 L261.82,189.89 L262.49,189.87 L263.16,189.86 L263.84,189.84 L264.53,189.83 L265.21,189.82 L265.90,189.81 L266.59,189.81 L267.29,189.81 L267.98,189.81 L268.68,189.82 L269.37,189.83 L270.07,189.85 L270.77,189.88 L271.47,189.91 L272.16,189.95 L272.86,189.99 L273.55,190.04 L274.25,190.11 L274.94,190.17 L275.62,190.25 L276.31,190.34 L276.99,190.44 L277.67,190.54 L278.35,190.66 L279.02,190.79 L279.68,190.93 L280.35,191.08 L281.00,191.25 L281.65,191.42 L282.30,191.61 L282.94,191.82 L283.57,192.03 L284.20,192.27 L284.81,192.51 L285.42,192.78 L286.02,193.05 L286.62,193.35 L287.20,193.66 L287.78,193.98 L288.35,194.32 L288.91,194.67 L289.46,195.04 L290.01,195.42 L290.54,195.81 L291.07,196.22 L291.59,196.63 L292.11,197.06 L292.62,197.50 L293.11,197.95 L293.61,198.40 L294.09,198.87 L294.57,199.34 L295.04,199.82 L295.51,200.31 L295.97,200.80 L296.42,201.30 L296.87,201.80 L297.31,202.31 L297.74,202.83 L298.17,203.34 L298.59,203.86 L299.01,204.39 L299.42,204.92 L299.82,205.45 L300.22,205.98 L300.61,206.52 L301.00,207.06 L301.39,207.60 L301.76,208.15 L302.13,208.70 L302.50,209.25 L302.86,209.81 L303.22,210.37 L303.57,210.93 L303.92,211.49 L304.26,212.06 L304.59,212.63 L304.92,213.20 L305.25,213.78 L305.57,214.36 L305.89,214.94 L306.20,215.52 L306.51,216.11 L306.82,216.70 L307.12,217.29 L307.41,217.88 L307.70,218.48 L307.99,219.07 L308.27,219.67 L308.55,220.28 L308.82,220.88 L309.09,221.49 L309.36,222.10 L309.62,222.71 L309.88,223.32 L310.14,223.94 L310.39,224.55 L310.64,225.17 L310.88,225.79 L311.13,226.42 L311.36,227.04 L311.60,227.67 L311.83,228.29 L312.06,228.92 L312.28,229.55 L312.50,230.19 L312.72,230.82 L312.94,231.46 L313.15,232.09 L313.36,232.73 L313.57,233.37 L313.78,234.01 L313.98,234.65 L314.18,235.30 L314.38,235.94 L314.57,236.59 L314.76,237.24 L314.95,237.88 L315.14,238.53 L315.33,239.18 L315.51,239.83 L315.69,240.49 L315.87,241.14 L316.05,241.79 L316.23,242.45 L316.40,243.10 L316.57,243.76 L316.74,244.41 L316.91,245.07 L317.08,245.73 L317.25,246.39 L317.41,247.04 L317.57,247.70 L317.73,248.36 L317.90,249.02 L318.05,249.68 L318.21,250.34 L318.37,251.00 L318.53,251.66 L318.68,252.33 L318.84,252.99 L318.99,253.65 L319.14,254.31 L319.30,254.97 L319.45,255.63 L319.60,256.29 L319.75,256.95 L319.90,257.61 L320.05,258.27 L320.20,258.93 L320.35,259.59 L320.50,260.25 L320.65,260.91 L320.80,261.57 L320.95,262.23 L321.09,262.88 L321.24,263.54 L321.39,264.20 L321.54,264.85 L321.69,265.51 L321.84,266.16 L321.99,266.82 L322.14,267.47 L322.29,268.13 L322.44,268.78 L322.59,269.43 L322.73,270.09 L322.88,270.74 L323.03,271.39 L323.18,272.04 L323.33,272.70 L323.48,273.35 L323.62,274.00 L323.77,274.65 L323.92,275.30 L324.06,275.95 L324.21,276.60 L324.35,277.25 L324.50,277.90 L324.65,278.55 L324.79,279.20 L324.93,279.85 L325.08,280.50 L325.22,281.15 L325.36,281.80 L325.51,282.45 L325.65,283.10 L325.79,283.75 L325.93,284.40 L326.07,285.05 L326.21,285.70 L326.35,286.35 L326.48,287.00 L326.62,287.65 L326.76,288.30 L326.89,288.95 L327.03,289.60 L327.16,290.25 L327.29,290.90 L327.43,291.55 L327.56,292.20 L327.69,292.85 L327.82,293.50 L327.95,294.16 L328.08,294.81 L328.20,295.46 L328.33,296.11 L328.46,296.77 L328.58,297.42 L328.70,298.07 L328.83,298.73 L328.95,299.38 L329.07,300.04 L329.19,300.69 L329.30,301.35 L329.42,302.01 L329.54,302.66 L329.65,303.32 L329.76,303.98 L329.88,304.64 L329.99,305.30 L330.10,305.96 L330.21,306.62 L330.31,307.28 L330.42,307.94 L330.52,308.60 L330.63,309.26 L330.73,309.93 L330.83,310.59 L330.93,311.26 L331.02,311.92 L331.12,312.59 L331.21,313.25 L331.31,313.92 L331.40,314.59 L331.49,315.26 L331.58,315.93 L331.66,316.60 L331.75,317.27 L331.83,317.95 L331.92,318.62 L332.00,319.29 L332.07,319.97 L332.15,320.64 L332.23,321.32 L332.30,322.00" stroke="#6a8ff0"/>
<path d="M250.50,322.00 L250.50,218.00 L250.50,218.00 L250.58,217.37 L250.65,216.74 L250.71,216.10 L250.77,215.46 L250.81,214.80 L250.85,214.14 L250.88,213.48 L250.91,212.81 L250.93,212.14 L250.95,211.46 L250.97,210.78 L250.99,210.10 L251.01,209.42 L251.02,208.73 L251.04,208.04 L251.07,207.35 L251.09,206.66 L251.12,205.96 L251.16,205.27 L251.20,204.58 L251.25,203.89 L251.31,203.20 L251.38,202.51 L251.46,201.82 L251.55,201.14 L251.65,200.46 L251.76,199.78 L251.89,199.11 L252.04,198.44 L252.20,197.78 L252.37,197.12 L252.57,196.47 L252.78,195.82 L253.01,195.18 L253.27,194.55 L253.54,193.94 L253.84,193.34 L254.17,192.78 L254.52,192.25 L254.90,191.75 L255.31,191.30 L255.75,190.90 L256.22,190.55 L256.72,190.25 L257.26,190.03 L257.83,189.87 L258.43,189.78 L259.06,189.72 L259.71,189.69 L260.36,189.67 L261.01,189.64 L261.67,189.61 L262.34,189.58 L263.01,189.56 L263.69,189.53 L264.37,189.51 L265.05,189.49 L265.73,189.47 L266.42,189.45 L267.11,189.44 L267.80,189.43 L268.50,189.43 L269.19,189.43 L269.89,189.43 L270.59,189.44 L271.28,189.46 L271.98,189.49 L272.67,189.52 L273.37,189.56 L274.06,189.60 L274.75,189.66 L275.44,189.72 L276.13,189.80 L276.82,189.88 L277.50,189.97 L278.18,190.08 L278.85,190.19 L279.52,190.32 L280.19,190.46 L280.85,190.61 L281.50,190.77 L282.15,190.95 L282.80,191.14 L283.43,191.34 L284.06,191.56 L284.69,191.80 L285.30,192.05 L285.91,192.31 L286.51,192.60 L287.10,192.90 L287.69,193.21 L288.26,193.54 L288.83,193.88 L289.39,194.24 L289.94,194.61 L290.49,195.00 L291.02,195.39 L291.55,195.80 L292.07,196.22 L292.59,196.65 L293.10,197.09 L293.60,197.54 L294.09,198.00 L294.57,198.46 L295.05,198.94 L295.52,199.42 L295.99,199.91 L296.45,200.40 L296.90,200.90 L297.34,201.40 L297.78,201.91 L298.21,202.43 L298.64,202.94 L299.06,203.46 L299.47,203.99 L299.88,204.51 L300.28,205.04 L300.67,205.58 L301.06,206.12 L301.45,206.66 L301.82,207.20 L302.19,207.75 L302.56,208.30 L302.92,208.85 L303.28,209.41 L303.62,209.97 L303.97,210.53 L304.31,211.10 L304.64,211.67 L304.97,212.24 L305.29,212.82 L305.61,213.39 L305.92,213.97 L306.23,214.56 L306.54,215.14 L306.83,215.73 L307.13,216.32 L307.42,216.92 L307.70,217.51 L307.98,218.11 L308.26,218.71 L308.53,219.32 L308.79,219.92 L309.06,220.53 L309.32,221.14 L309.57,221.75 L309.82,222.37 L310.07,222.98 L310.31,223.60 L310.55,224.22 L310.78,224.85 L311.01,225.47 L311.24,226.10 L311.46,226.72 L311.68,227.36 L311.90,227.99 L312.11,228.62 L312.32,229.26 L312.53,229.89 L312.74,230.53 L312.94,231.17 L313.13,231.81 L313.33,232.46 L313.52,233.10 L313.71,233.75 L313.89,234.39 L314.08,235.04 L314.26,235.69 L314.44,236.34 L314.61,236.99 L314.78,237.65 L314.96,238.30 L315.12,238.95 L315.29,239.61 L315.45,240.27 L315.62,240.93 L315.78,241.58 L315.93,242.24 L316.09,242.90 L316.24,243.56 L316.40,244.22 L316.55,244.89 L316.69,245.55 L316.84,246.21 L316.99,246.88 L317.13,247.54 L317.28,248.20 L317.42,248.87 L317.56,249.53 L317.70,250.20 L317.84,250.86 L317.97,251.53 L318.11,252.19 L318.24,252.86 L318.38,253.52 L318.51,254.19 L318.64,254.86 L318.78,255.52 L318.91,256.19 L319.04,256.85 L319.17,257.52 L319.30,258.18 L319.43,258.84 L319.56,259.51 L319.69,260.17 L319.82,260.83 L319.95,261.50 L320.08,262.16 L320.21,262.82 L320.34,263.48 L320.47,264.14 L320.60,264.80 L320.73,265.46 L320.86,266.12 L320.99,266.77 L321.12,267.43 L321.25,268.09 L321.38,268.75 L321.51,269.40 L321.64,270.06 L321.77,270.71 L321.90,271.37 L322.03,272.02 L322.16,272.68 L322.29,273.33 L322.42,273.98 L322.55,274.64 L322.68,275.29 L322.81,275.94 L322.93,276.60 L323.06,277.25 L323.19,277.90 L323.32,278.55 L323.45,279.20 L323.58,279.85 L323.70,280.51 L323.83,281.16 L323.96,281.81 L324.09,282.46 L324.21,283.11 L324.34,283.76 L324.47,284.41 L324.59,285.06 L324.72,285.71 L324.84,286.36 L324.97,287.02 L325.09,287.67 L325.22,288.32 L325.34,288.97 L325.46,289.62 L325.59,290.27 L325.71,290.92 L325.83,291.57 L325.95,292.23 L326.07,292.88 L326.20,293.53 L326.32,294.18 L326.44,294.83 L326.56,295.49 L326.67,296.14 L326.79,296.79 L326.91,297.45 L327.03,298.10 L327.15,298.76 L327.26,299.41 L327.38,300.07 L327.49,300.72 L327.61,301.38 L327.72,302.03 L327.83,302.69 L327.95,303.35 L328.06,304.00 L328.17,304.66 L328.28,305.32 L328.39,305.98 L328.50,306.64 L328.61,307.30 L328.72,307.96 L328.82,308.62 L328.93,309.28 L329.04,309.95 L329.14,310.61 L329.25,311.27 L329.35,311.94 L329.45,312.60 L329.55,313.27 L329.66,313.94 L329.76,314.60 L329.85,315.27 L329.95,315.94 L330.05,316.61 L330.15,317.28 L330.24,317.95 L330.34,318.63 L330.43,319.30 L330.53,319.97 L330.62,320.65 L330.71,321.32 L330.80,322.00" stroke="#262626"/>
</g>
<g clip-path="url(#c12)" fill="none" stroke-width="1.05" stroke-linejoin="round">
<path d="M391.20,322.00 L391.20,241.90 L391.20,241.90 L391.41,241.24 L391.64,240.58 L391.88,239.93 L392.13,239.28 L392.40,238.64 L392.67,238.01 L392.96,237.38 L393.26,236.76 L393.57,236.14 L393.88,235.52 L394.21,234.91 L394.55,234.31 L394.90,233.71 L395.25,233.11 L395.62,232.52 L395.99,231.93 L396.37,231.35 L396.76,230.77 L397.15,230.20 L397.55,229.62 L397.96,229.06 L398.38,228.49 L398.80,227.93 L399.22,227.38 L399.65,226.82 L400.08,226.27 L400.52,225.72 L400.96,225.18 L401.41,224.64 L401.86,224.10 L402.31,223.56 L402.76,223.03 L403.21,222.50 L403.67,221.97 L404.13,221.44 L404.59,220.92 L405.05,220.40 L405.51,219.88 L405.97,219.36 L406.43,218.84 L406.89,218.33 L407.34,217.81 L407.80,217.30 L407.80,217.30 L408.52,217.23 L409.23,217.17 L409.95,217.14 L410.66,217.12 L411.37,217.12 L412.08,217.15 L412.78,217.19 L413.48,217.25 L414.18,217.34 L414.88,217.44 L415.58,217.56 L416.27,217.70 L416.96,217.86 L417.65,218.04 L418.33,218.24 L419.02,218.46 L419.70,218.70 L419.70,218.70 L420.29,219.02 L420.89,219.33 L421.49,219.64 L422.08,219.94 L422.68,220.24 L423.29,220.54 L423.89,220.83 L424.50,221.11 L425.11,221.39 L425.71,221.67 L426.33,221.95 L426.94,222.22 L427.55,222.48 L428.17,222.74 L428.78,223.00 L429.40,223.26 L430.02,223.51 L430.64,223.76 L431.26,224.01 L431.88,224.26 L432.51,224.50 L433.13,224.74 L433.76,224.98 L434.38,225.21 L435.01,225.45 L435.64,225.68 L436.27,225.91 L436.90,226.14 L437.53,226.37 L438.16,226.60 L438.79,226.82 L439.42,227.05 L440.05,227.27 L440.69,227.50 L441.32,227.72 L441.95,227.94 L442.58,228.17 L443.22,228.39 L443.85,228.61 L444.49,228.83 L445.12,229.06 L445.75,229.28 L446.39,229.51 L447.02,229.73 L447.66,229.96 L448.29,230.19 L448.92,230.41 L449.56,230.65 L450.19,230.88 L450.82,231.11 L451.45,231.35 L452.08,231.58 L452.72,231.82 L453.35,232.06 L453.98,232.31 L454.60,232.55 L455.23,232.80 L455.86,233.06 L456.49,233.31 L457.11,233.57 L457.74,233.83 L458.36,234.09 L458.98,234.36 L459.60,234.63 L460.22,234.90 L460.84,235.18 L461.46,235.46 L462.08,235.75 L462.69,236.03 L463.30,236.32 L463.91,236.61 L464.52,236.91 L465.13,237.21 L465.74,237.51 L466.34,237.82 L466.94,238.13 L467.54,238.45 L468.14,238.76 L468.73,239.08 L469.33,239.41 L469.92,239.74 L470.51,240.07 L471.09,240.40 L471.67,240.74 L472.25,241.09 L472.83,241.43 L473.41,241.78 L473.98,242.14 L474.55,242.49 L475.11,242.86 L475.68,243.22 L476.23,243.59 L476.79,243.97 L477.34,244.34 L477.89,244.72 L478.44,245.11 L478.98,245.50 L479.52,245.89 L480.06,246.29 L480.59,246.69 L481.12,247.10 L481.64,247.51 L482.16,247.92 L482.68,248.34 L483.19,248.77 L483.70,249.19 L484.20,249.62 L484.70,250.06 L485.19,250.50 L485.68,250.95 L486.17,251.40 L486.65,251.85 L487.13,252.31 L487.60,252.77 L488.07,253.24 L488.53,253.71 L488.99,254.19 L489.44,254.67 L489.89,255.15 L490.33,255.64 L490.76,256.14 L491.20,256.64 L491.62,257.14 L492.04,257.65 L492.46,258.17 L492.87,258.68 L493.27,259.21 L493.67,259.74 L494.06,260.27 L494.45,260.81 L494.83,261.35 L495.21,261.90 L495.58,262.45 L495.95,263.00 L496.31,263.56 L496.67,264.13 L497.02,264.69 L497.36,265.27 L497.71,265.84 L498.04,266.42 L498.38,267.00 L498.70,267.59 L499.03,268.17 L499.35,268.77 L499.66,269.36 L499.97,269.96 L500.28,270.56 L500.58,271.16 L500.88,271.77 L501.17,272.38 L501.46,272.99 L501.75,273.61 L502.03,274.22 L502.31,274.84 L502.58,275.46 L502.85,276.08 L503.12,276.71 L503.38,277.34 L503.64,277.97 L503.90,278.60 L504.16,279.23 L504.41,279.86 L504.65,280.50 L504.90,281.13 L505.14,281.77 L505.38,282.41 L505.62,283.05 L505.85,283.69 L506.08,284.33 L506.31,284.97 L506.53,285.61 L506.76,286.25 L506.98,286.90 L507.19,287.54 L507.41,288.19 L507.62,288.83 L507.83,289.47 L508.04,290.12 L508.25,290.76 L508.46,291.40 L508.66,292.05 L508.86,292.69 L509.06,293.34 L509.26,293.98 L509.45,294.62 L509.64,295.27 L509.83,295.91 L510.02,296.55 L510.21,297.20 L510.39,297.84 L510.57,298.49 L510.75,299.13 L510.93,299.78 L511.10,300.42 L511.27,301.07 L511.44,301.71 L511.61,302.36 L511.77,303.00 L511.94,303.65 L512.10,304.30 L512.25,304.94 L512.41,305.59 L512.56,306.24 L512.71,306.89 L512.86,307.54 L513.00,308.19 L513.14,308.84 L513.28,309.49 L513.42,310.14 L513.55,310.79 L513.69,311.45 L513.81,312.10 L513.94,312.75 L514.06,313.41 L514.18,314.06 L514.30,314.72 L514.41,315.38 L514.53,316.04 L514.64,316.69 L514.74,317.35 L514.84,318.02 L514.94,318.68 L515.04,319.34 L515.14,320.00 L515.23,320.67 L515.31,321.33 L515.40,322.00" stroke="#ff9740"/>
<path d="M405.80,322.00 L405.80,245.50 L405.80,245.50 L405.85,244.82 L405.90,244.14 L405.96,243.46 L406.01,242.77 L406.07,242.08 L406.14,241.38 L406.20,240.68 L406.27,239.98 L406.35,239.28 L406.43,238.58 L406.52,237.88 L406.62,237.17 L406.72,236.47 L406.83,235.77 L406.95,235.07 L407.08,234.38 L407.21,233.68 L407.36,232.99 L407.52,232.30 L407.69,231.62 L407.88,230.94 L408.07,230.27 L408.28,229.60 L408.50,228.94 L408.74,228.28 L408.99,227.64 L409.26,227.00 L409.54,226.36 L409.84,225.74 L410.16,225.13 L410.49,224.52 L410.85,223.93 L411.22,223.34 L411.61,222.77 L412.02,222.21 L412.45,221.66 L412.91,221.13 L413.38,220.60 L413.88,220.09 L414.40,219.60 L414.40,219.60 L415.03,219.35 L415.67,219.12 L416.30,218.90 L416.94,218.68 L417.58,218.48 L418.22,218.29 L418.87,218.11 L419.51,217.94 L420.16,217.78 L420.80,217.63 L421.45,217.49 L422.10,217.36 L422.75,217.23 L423.40,217.12 L424.06,217.02 L424.71,216.93 L425.37,216.84 L426.02,216.77 L426.68,216.70 L427.34,216.64 L428.00,216.59 L428.66,216.55 L429.32,216.52 L429.98,216.50 L430.64,216.48 L431.30,216.47 L431.96,216.47 L432.62,216.48 L433.29,216.49 L433.95,216.52 L434.62,216.55 L435.28,216.58 L435.94,216.63 L436.61,216.68 L437.27,216.74 L437.94,216.80 L438.60,216.87 L439.27,216.95 L439.93,217.03 L440.60,217.12 L441.26,217.21 L441.93,217.31 L442.59,217.42 L443.25,217.53 L443.92,217.65 L444.58,217.77 L445.24,217.90 L445.90,218.04 L446.56,218.17 L447.22,218.32 L447.88,218.46 L448.54,218.62 L449.20,218.77 L449.86,218.94 L450.52,219.10 L451.17,219.27 L451.83,219.45 L452.48,219.63 L453.13,219.82 L453.78,220.01 L454.43,220.20 L455.08,220.40 L455.72,220.61 L456.37,220.82 L457.01,221.03 L457.65,221.25 L458.29,221.47 L458.93,221.70 L459.57,221.94 L460.20,222.18 L460.83,222.42 L461.46,222.67 L462.09,222.92 L462.71,223.18 L463.33,223.45 L463.95,223.72 L464.57,223.99 L465.19,224.27 L465.80,224.56 L466.41,224.85 L467.01,225.14 L467.62,225.44 L468.22,225.75 L468.82,226.06 L469.41,226.37 L470.00,226.70 L470.59,227.02 L471.17,227.35 L471.75,227.69 L472.33,228.03 L472.91,228.38 L473.48,228.73 L474.04,229.09 L474.61,229.45 L475.17,229.82 L475.72,230.19 L476.27,230.57 L476.82,230.95 L477.37,231.34 L477.90,231.73 L478.44,232.13 L478.97,232.53 L479.50,232.94 L480.02,233.35 L480.54,233.77 L481.05,234.19 L481.56,234.62 L482.06,235.05 L482.56,235.49 L483.05,235.93 L483.54,236.38 L484.02,236.83 L484.50,237.29 L484.98,237.75 L485.44,238.22 L485.91,238.69 L486.37,239.16 L486.82,239.64 L487.26,240.13 L487.71,240.62 L488.14,241.11 L488.57,241.61 L489.00,242.11 L489.42,242.62 L489.84,243.13 L490.25,243.65 L490.65,244.17 L491.05,244.69 L491.45,245.22 L491.84,245.75 L492.23,246.29 L492.61,246.83 L492.99,247.37 L493.36,247.92 L493.73,248.47 L494.09,249.02 L494.45,249.58 L494.81,250.14 L495.16,250.70 L495.51,251.27 L495.85,251.84 L496.19,252.41 L496.52,252.99 L496.85,253.57 L497.18,254.15 L497.50,254.74 L497.82,255.33 L498.13,255.92 L498.44,256.51 L498.75,257.11 L499.05,257.71 L499.35,258.31 L499.65,258.91 L499.94,259.52 L500.23,260.12 L500.51,260.73 L500.79,261.35 L501.07,261.96 L501.34,262.58 L501.62,263.20 L501.88,263.82 L502.15,264.44 L502.41,265.06 L502.67,265.69 L502.93,266.31 L503.18,266.94 L503.43,267.57 L503.67,268.20 L503.92,268.84 L504.16,269.47 L504.40,270.11 L504.63,270.74 L504.87,271.38 L505.10,272.02 L505.33,272.66 L505.55,273.30 L505.78,273.94 L506.00,274.58 L506.21,275.22 L506.43,275.87 L506.64,276.51 L506.86,277.15 L507.07,277.80 L507.27,278.44 L507.48,279.09 L507.68,279.73 L507.88,280.38 L508.08,281.02 L508.28,281.67 L508.48,282.31 L508.67,282.96 L508.86,283.60 L509.05,284.25 L509.24,284.89 L509.43,285.54 L509.62,286.18 L509.80,286.83 L509.98,287.47 L510.16,288.11 L510.34,288.76 L510.52,289.40 L510.70,290.05 L510.87,290.69 L511.04,291.33 L511.21,291.98 L511.38,292.62 L511.55,293.26 L511.72,293.91 L511.88,294.55 L512.05,295.20 L512.21,295.84 L512.37,296.49 L512.53,297.13 L512.68,297.78 L512.84,298.42 L512.99,299.07 L513.15,299.71 L513.30,300.36 L513.45,301.01 L513.60,301.65 L513.74,302.30 L513.89,302.95 L514.03,303.60 L514.17,304.25 L514.31,304.90 L514.45,305.55 L514.59,306.20 L514.73,306.85 L514.86,307.50 L515.00,308.15 L515.13,308.80 L515.26,309.45 L515.39,310.11 L515.52,310.76 L515.65,311.42 L515.77,312.07 L515.90,312.73 L516.02,313.39 L516.14,314.04 L516.26,314.70 L516.38,315.36 L516.50,316.02 L516.61,316.68 L516.73,317.34 L516.84,318.01 L516.96,318.67 L517.07,319.33 L517.18,320.00 L517.29,320.66 L517.39,321.33 L517.50,322.00" stroke="#3d9b3d"/>
<path d="M412.05,322.00 L412.05,244.00 L412.05,244.00 L412.22,243.41 L412.38,242.80 L412.52,242.19 L412.65,241.56 L412.77,240.92 L412.88,240.26 L412.98,239.60 L413.08,238.94 L413.17,238.26 L413.25,237.58 L413.34,236.89 L413.42,236.20 L413.51,235.51 L413.59,234.81 L413.68,234.12 L413.78,233.42 L413.88,232.73 L413.98,232.03 L414.10,231.34 L414.23,230.66 L414.37,229.98 L414.52,229.30 L414.69,228.64 L414.87,227.98 L415.08,227.33 L415.30,226.69 L415.54,226.06 L415.80,225.45 L416.09,224.84 L416.40,224.26 L416.73,223.69 L417.09,223.14 L417.48,222.61 L417.89,222.11 L418.32,221.64 L418.79,221.19 L419.27,220.78 L419.79,220.40 L420.33,220.07 L420.90,219.77 L421.49,219.50 L422.10,219.27 L422.72,219.05 L423.35,218.86 L423.98,218.67 L424.61,218.49 L425.25,218.32 L425.88,218.16 L426.52,218.01 L427.16,217.87 L427.81,217.74 L428.45,217.61 L429.10,217.50 L429.75,217.39 L430.40,217.29 L431.05,217.19 L431.71,217.11 L432.36,217.03 L433.02,216.95 L433.68,216.89 L434.34,216.82 L435.00,216.77 L435.67,216.72 L436.33,216.67 L437.00,216.63 L437.67,216.60 L438.34,216.56 L439.01,216.54 L439.68,216.51 L440.36,216.49 L441.03,216.48 L441.71,216.46 L442.38,216.45 L443.06,216.44 L443.74,216.44 L444.42,216.43 L445.10,216.43 L445.78,216.43 L446.46,216.43 L447.15,216.43 L447.83,216.43 L448.52,216.43 L449.20,216.43 L449.89,216.44 L450.57,216.44 L451.25,216.45 L451.94,216.46 L452.62,216.48 L453.31,216.50 L453.99,216.52 L454.67,216.55 L455.35,216.58 L456.03,216.61 L456.71,216.65 L457.38,216.70 L458.06,216.76 L458.73,216.82 L459.40,216.88 L460.07,216.96 L460.73,217.04 L461.39,217.13 L462.05,217.23 L462.71,217.33 L463.36,217.45 L464.01,217.58 L464.66,217.71 L465.30,217.86 L465.94,218.01 L466.58,218.18 L467.21,218.36 L467.83,218.55 L468.46,218.75 L469.07,218.97 L469.68,219.20 L470.29,219.44 L470.89,219.69 L471.49,219.95 L472.09,220.23 L472.67,220.52 L473.26,220.82 L473.83,221.13 L474.41,221.45 L474.97,221.78 L475.54,222.12 L476.10,222.47 L476.65,222.84 L477.19,223.21 L477.74,223.59 L478.27,223.98 L478.81,224.38 L479.33,224.79 L479.85,225.21 L480.37,225.64 L480.88,226.07 L481.38,226.51 L481.88,226.97 L482.38,227.42 L482.86,227.89 L483.35,228.37 L483.82,228.85 L484.29,229.33 L484.76,229.83 L485.22,230.33 L485.68,230.84 L486.12,231.35 L486.57,231.87 L487.00,232.39 L487.44,232.92 L487.86,233.46 L488.28,234.00 L488.69,234.55 L489.10,235.10 L489.50,235.65 L489.90,236.21 L490.29,236.77 L490.67,237.34 L491.05,237.91 L491.42,238.48 L491.79,239.05 L492.15,239.63 L492.50,240.21 L492.85,240.80 L493.19,241.38 L493.52,241.97 L493.85,242.56 L494.17,243.15 L494.49,243.75 L494.80,244.34 L495.10,244.94 L495.40,245.54 L495.70,246.14 L495.98,246.75 L496.27,247.35 L496.55,247.96 L496.82,248.56 L497.09,249.17 L497.35,249.79 L497.61,250.40 L497.87,251.01 L498.12,251.63 L498.36,252.25 L498.61,252.86 L498.85,253.48 L499.08,254.10 L499.31,254.73 L499.54,255.35 L499.77,255.98 L499.99,256.60 L500.21,257.23 L500.42,257.86 L500.63,258.49 L500.84,259.12 L501.05,259.75 L501.26,260.38 L501.46,261.01 L501.66,261.64 L501.86,262.28 L502.06,262.91 L502.25,263.55 L502.44,264.19 L502.63,264.82 L502.83,265.46 L503.01,266.10 L503.20,266.74 L503.39,267.38 L503.57,268.02 L503.76,268.66 L503.94,269.30 L504.13,269.94 L504.31,270.59 L504.49,271.23 L504.68,271.87 L504.86,272.51 L505.04,273.15 L505.23,273.80 L505.41,274.44 L505.59,275.08 L505.77,275.73 L505.96,276.37 L506.14,277.02 L506.32,277.66 L506.50,278.30 L506.68,278.95 L506.86,279.59 L507.04,280.24 L507.22,280.88 L507.40,281.53 L507.58,282.18 L507.76,282.82 L507.93,283.47 L508.11,284.12 L508.29,284.76 L508.46,285.41 L508.64,286.06 L508.81,286.70 L508.99,287.35 L509.16,288.00 L509.33,288.65 L509.50,289.30 L509.67,289.94 L509.84,290.59 L510.01,291.24 L510.18,291.89 L510.35,292.54 L510.51,293.19 L510.68,293.84 L510.84,294.49 L511.00,295.14 L511.17,295.79 L511.33,296.44 L511.49,297.09 L511.64,297.75 L511.80,298.40 L511.96,299.05 L512.11,299.70 L512.26,300.35 L512.42,301.01 L512.57,301.66 L512.72,302.31 L512.86,302.96 L513.01,303.62 L513.15,304.27 L513.30,304.92 L513.44,305.58 L513.58,306.23 L513.72,306.89 L513.86,307.54 L513.99,308.20 L514.12,308.85 L514.26,309.51 L514.39,310.16 L514.51,310.82 L514.64,311.47 L514.77,312.13 L514.89,312.79 L515.01,313.44 L515.13,314.10 L515.25,314.76 L515.36,315.42 L515.48,316.07 L515.59,316.73 L515.70,317.39 L515.80,318.05 L515.91,318.70 L516.01,319.36 L516.11,320.02 L516.21,320.68 L516.31,321.34 L516.40,322.00" stroke="#ff3344"/>
<path d="M416.45,322.00 L416.45,245.00 L416.45,245.00 L416.61,244.43 L416.76,243.83 L416.88,243.23 L417.00,242.60 L417.09,241.97 L417.18,241.32 L417.25,240.66 L417.31,239.99 L417.36,239.31 L417.41,238.62 L417.45,237.93 L417.49,237.22 L417.52,236.52 L417.56,235.81 L417.59,235.09 L417.63,234.38 L417.67,233.66 L417.72,232.94 L417.77,232.23 L417.83,231.52 L417.90,230.81 L417.98,230.10 L418.07,229.40 L418.18,228.71 L418.30,228.03 L418.44,227.35 L418.60,226.68 L418.78,226.03 L418.98,225.39 L419.20,224.76 L419.45,224.14 L419.72,223.54 L420.02,222.97 L420.34,222.41 L420.69,221.88 L421.07,221.38 L421.48,220.91 L421.91,220.48 L422.38,220.08 L422.87,219.72 L423.39,219.41 L423.95,219.14 L424.53,218.92 L425.15,218.74 L425.78,218.60 L426.43,218.48 L427.10,218.38 L427.77,218.29 L428.44,218.20 L429.11,218.12 L429.78,218.03 L430.44,217.94 L431.11,217.85 L431.78,217.76 L432.45,217.67 L433.11,217.59 L433.78,217.50 L434.44,217.41 L435.11,217.33 L435.77,217.24 L436.43,217.16 L437.10,217.07 L437.76,216.99 L438.42,216.91 L439.09,216.83 L439.75,216.76 L440.41,216.68 L441.08,216.61 L441.74,216.54 L442.40,216.47 L443.06,216.41 L443.73,216.34 L444.39,216.29 L445.05,216.23 L445.72,216.18 L446.38,216.13 L447.04,216.08 L447.71,216.04 L448.37,216.00 L449.04,215.97 L449.70,215.94 L450.37,215.92 L451.03,215.90 L451.70,215.88 L452.37,215.87 L453.04,215.87 L453.70,215.87 L454.37,215.87 L455.04,215.88 L455.71,215.90 L456.39,215.92 L457.06,215.95 L457.73,215.98 L458.41,216.02 L459.08,216.07 L459.76,216.13 L460.44,216.19 L461.11,216.26 L461.79,216.33 L462.47,216.41 L463.15,216.50 L463.83,216.60 L464.51,216.71 L465.19,216.82 L465.87,216.95 L466.54,217.08 L467.21,217.22 L467.88,217.38 L468.55,217.54 L469.21,217.71 L469.86,217.89 L470.51,218.09 L471.16,218.29 L471.80,218.51 L472.43,218.73 L473.05,218.97 L473.67,219.23 L474.28,219.49 L474.88,219.77 L475.48,220.06 L476.06,220.36 L476.63,220.68 L477.20,221.01 L477.75,221.35 L478.29,221.71 L478.82,222.09 L479.34,222.47 L479.85,222.87 L480.35,223.28 L480.84,223.71 L481.32,224.14 L481.79,224.59 L482.25,225.05 L482.70,225.52 L483.15,225.99 L483.58,226.48 L484.01,226.98 L484.43,227.49 L484.84,228.01 L485.24,228.53 L485.64,229.07 L486.03,229.61 L486.41,230.16 L486.78,230.72 L487.15,231.28 L487.52,231.85 L487.87,232.42 L488.22,233.00 L488.57,233.59 L488.91,234.18 L489.24,234.78 L489.57,235.38 L489.90,235.98 L490.22,236.59 L490.53,237.20 L490.85,237.81 L491.15,238.43 L491.46,239.04 L491.76,239.66 L492.06,240.28 L492.35,240.90 L492.65,241.53 L492.94,242.15 L493.22,242.77 L493.51,243.39 L493.79,244.01 L494.07,244.63 L494.35,245.25 L494.63,245.87 L494.90,246.49 L495.17,247.11 L495.44,247.73 L495.71,248.35 L495.98,248.97 L496.24,249.59 L496.50,250.21 L496.76,250.83 L497.02,251.45 L497.27,252.07 L497.53,252.69 L497.78,253.30 L498.03,253.92 L498.27,254.54 L498.52,255.16 L498.76,255.78 L499.00,256.41 L499.24,257.03 L499.47,257.65 L499.71,258.27 L499.94,258.89 L500.17,259.51 L500.40,260.14 L500.62,260.76 L500.85,261.38 L501.07,262.01 L501.29,262.63 L501.50,263.26 L501.72,263.88 L501.93,264.51 L502.14,265.14 L502.35,265.77 L502.56,266.39 L502.77,267.02 L502.97,267.65 L503.17,268.28 L503.37,268.92 L503.57,269.55 L503.76,270.18 L503.95,270.82 L504.15,271.45 L504.33,272.09 L504.52,272.73 L504.71,273.37 L504.89,274.01 L505.07,274.65 L505.25,275.29 L505.43,275.93 L505.61,276.57 L505.78,277.22 L505.95,277.86 L506.12,278.51 L506.29,279.16 L506.46,279.81 L506.62,280.46 L506.78,281.11 L506.95,281.76 L507.11,282.41 L507.26,283.06 L507.42,283.71 L507.57,284.37 L507.73,285.02 L507.88,285.67 L508.03,286.33 L508.18,286.98 L508.32,287.64 L508.47,288.30 L508.61,288.96 L508.76,289.61 L508.90,290.27 L509.04,290.93 L509.17,291.59 L509.31,292.25 L509.45,292.91 L509.58,293.57 L509.71,294.23 L509.84,294.89 L509.97,295.56 L510.10,296.22 L510.23,296.88 L510.35,297.54 L510.48,298.20 L510.60,298.87 L510.72,299.53 L510.84,300.19 L510.96,300.86 L511.08,301.52 L511.20,302.18 L511.32,302.85 L511.43,303.51 L511.55,304.17 L511.66,304.84 L511.77,305.50 L511.88,306.16 L511.99,306.83 L512.10,307.49 L512.21,308.15 L512.32,308.81 L512.43,309.48 L512.53,310.14 L512.64,310.80 L512.74,311.46 L512.84,312.12 L512.94,312.79 L513.05,313.45 L513.15,314.11 L513.25,314.77 L513.35,315.43 L513.44,316.09 L513.54,316.75 L513.64,317.40 L513.73,318.06 L513.83,318.72 L513.93,319.38 L514.02,320.03 L514.11,320.69 L514.21,321.35 L514.30,322.00" stroke="#6a8ff0"/>
<path d="M418.40,322.00 L418.40,245.00 L418.40,245.00 L418.40,244.31 L418.40,243.63 L418.41,242.95 L418.43,242.28 L418.46,241.61 L418.49,240.94 L418.52,240.27 L418.57,239.60 L418.62,238.94 L418.67,238.28 L418.73,237.62 L418.79,236.96 L418.86,236.30 L418.94,235.64 L419.01,234.99 L419.09,234.33 L419.18,233.67 L419.27,233.01 L419.36,232.36 L419.45,231.70 L419.55,231.04 L419.65,230.38 L419.76,229.71 L419.87,229.05 L419.98,228.38 L420.10,227.71 L420.23,227.04 L420.37,226.36 L420.52,225.68 L420.68,224.99 L420.86,224.31 L421.05,223.62 L421.26,222.95 L421.51,222.31 L421.78,221.69 L422.09,221.11 L422.44,220.57 L422.83,220.09 L423.28,219.68 L423.77,219.33 L424.33,219.07 L424.94,218.87 L425.58,218.73 L426.26,218.62 L426.94,218.53 L427.62,218.44 L428.31,218.35 L428.99,218.25 L429.66,218.16 L430.34,218.06 L431.01,217.97 L431.69,217.87 L432.36,217.77 L433.03,217.68 L433.70,217.58 L434.36,217.48 L435.03,217.38 L435.69,217.28 L436.36,217.19 L437.02,217.09 L437.68,217.00 L438.34,216.90 L439.00,216.81 L439.66,216.72 L440.32,216.63 L440.97,216.54 L441.63,216.46 L442.29,216.37 L442.95,216.29 L443.60,216.21 L444.26,216.14 L444.91,216.06 L445.57,215.99 L446.23,215.93 L446.88,215.87 L447.54,215.81 L448.20,215.75 L448.86,215.70 L449.51,215.65 L450.17,215.61 L450.83,215.57 L451.49,215.54 L452.15,215.51 L452.81,215.49 L453.48,215.47 L454.14,215.46 L454.80,215.45 L455.47,215.45 L456.14,215.46 L456.81,215.47 L457.48,215.49 L458.15,215.52 L458.82,215.55 L459.50,215.59 L460.17,215.63 L460.85,215.69 L461.53,215.75 L462.21,215.82 L462.90,215.90 L463.58,215.98 L464.26,216.08 L464.95,216.18 L465.63,216.29 L466.31,216.41 L466.99,216.55 L467.66,216.69 L468.34,216.84 L469.00,217.00 L469.67,217.17 L470.33,217.36 L470.98,217.55 L471.63,217.76 L472.27,217.98 L472.91,218.21 L473.54,218.46 L474.15,218.71 L474.77,218.98 L475.37,219.26 L475.96,219.56 L476.54,219.87 L477.11,220.19 L477.68,220.53 L478.22,220.88 L478.76,221.25 L479.29,221.63 L479.81,222.02 L480.31,222.42 L480.81,222.84 L481.30,223.27 L481.77,223.71 L482.24,224.17 L482.70,224.63 L483.15,225.10 L483.59,225.59 L484.02,226.08 L484.44,226.59 L484.85,227.10 L485.26,227.62 L485.66,228.15 L486.05,228.69 L486.44,229.23 L486.82,229.79 L487.19,230.35 L487.55,230.91 L487.91,231.48 L488.26,232.06 L488.61,232.64 L488.95,233.23 L489.28,233.83 L489.61,234.42 L489.94,235.02 L490.26,235.63 L490.58,236.24 L490.89,236.85 L491.20,237.46 L491.50,238.08 L491.80,238.69 L492.10,239.31 L492.39,239.93 L492.69,240.55 L492.98,241.17 L493.26,241.79 L493.55,242.41 L493.83,243.03 L494.11,243.65 L494.39,244.27 L494.66,244.89 L494.94,245.50 L495.21,246.12 L495.48,246.74 L495.74,247.36 L496.01,247.98 L496.27,248.60 L496.53,249.22 L496.78,249.84 L497.04,250.45 L497.29,251.07 L497.54,251.69 L497.79,252.31 L498.03,252.93 L498.27,253.55 L498.51,254.17 L498.75,254.80 L498.98,255.42 L499.22,256.04 L499.45,256.66 L499.67,257.28 L499.90,257.91 L500.12,258.53 L500.34,259.15 L500.56,259.78 L500.77,260.40 L500.98,261.03 L501.19,261.66 L501.40,262.29 L501.61,262.91 L501.81,263.54 L502.01,264.17 L502.20,264.80 L502.40,265.43 L502.59,266.07 L502.78,266.70 L502.96,267.33 L503.15,267.97 L503.33,268.61 L503.51,269.24 L503.68,269.88 L503.85,270.52 L504.02,271.16 L504.19,271.80 L504.36,272.45 L504.52,273.09 L504.68,273.74 L504.84,274.38 L504.99,275.03 L505.14,275.68 L505.30,276.32 L505.44,276.97 L505.59,277.62 L505.73,278.28 L505.87,278.93 L506.01,279.58 L506.15,280.23 L506.29,280.89 L506.42,281.54 L506.55,282.20 L506.68,282.86 L506.81,283.51 L506.93,284.17 L507.05,284.83 L507.18,285.49 L507.30,286.15 L507.41,286.81 L507.53,287.47 L507.65,288.13 L507.76,288.79 L507.87,289.45 L507.98,290.12 L508.09,290.78 L508.20,291.44 L508.30,292.11 L508.41,292.77 L508.51,293.44 L508.62,294.10 L508.72,294.77 L508.82,295.43 L508.91,296.10 L509.01,296.76 L509.11,297.43 L509.20,298.10 L509.30,298.76 L509.39,299.43 L509.49,300.09 L509.58,300.76 L509.67,301.43 L509.76,302.10 L509.85,302.76 L509.94,303.43 L510.02,304.10 L510.11,304.76 L510.20,305.43 L510.29,306.09 L510.37,306.76 L510.46,307.43 L510.54,308.09 L510.63,308.76 L510.71,309.43 L510.79,310.09 L510.88,310.76 L510.96,311.42 L511.04,312.08 L511.13,312.75 L511.21,313.41 L511.29,314.08 L511.38,314.74 L511.46,315.40 L511.54,316.06 L511.63,316.73 L511.71,317.39 L511.79,318.05 L511.88,318.71 L511.96,319.37 L512.05,320.03 L512.13,320.69 L512.21,321.34 L512.30,322.00" stroke="#262626"/>
</g>
<g clip-path="url(#c13)" fill="none" stroke-width="1.05" stroke-linejoin="round">
<path d="M558.80,322.00 L558.80,264.00 L558.80,264.00 L558.98,263.33 L559.17,262.66 L559.37,262.00 L559.59,261.35 L559.82,260.70 L560.06,260.05 L560.32,259.41 L560.59,258.77 L560.87,258.14 L561.16,257.51 L561.46,256.89 L561.77,256.27 L562.09,255.66 L562.43,255.05 L562.77,254.45 L563.12,253.85 L563.49,253.26 L563.86,252.67 L564.24,252.09 L564.63,251.51 L565.03,250.94 L565.43,250.38 L565.85,249.81 L566.27,249.26 L566.69,248.70 L567.13,248.16 L567.57,247.62 L568.02,247.08 L568.47,246.55 L568.93,246.02 L569.39,245.50 L569.86,244.98 L570.34,244.47 L570.82,243.97 L571.30,243.47 L571.79,242.97 L572.28,242.48 L572.78,242.00 L573.27,241.52 L573.77,241.04 L574.28,240.57 L574.78,240.11 L575.29,239.65 L575.80,239.20 L575.80,239.20 L576.49,238.95 L577.18,238.71 L577.86,238.49 L578.54,238.29 L579.23,238.11 L579.91,237.94 L580.59,237.80 L581.26,237.66 L581.94,237.55 L582.61,237.45 L583.29,237.36 L583.96,237.29 L584.62,237.24 L585.29,237.20 L585.96,237.18 L586.62,237.16 L587.28,237.17 L587.94,237.18 L588.60,237.21 L589.26,237.26 L589.91,237.31 L590.57,237.38 L591.22,237.46 L591.87,237.55 L592.51,237.65 L593.16,237.77 L593.80,237.89 L594.45,238.03 L595.09,238.17 L595.72,238.33 L596.36,238.49 L597.00,238.66 L597.63,238.85 L598.26,239.04 L598.89,239.24 L599.52,239.44 L600.15,239.66 L600.77,239.88 L601.40,240.11 L602.02,240.34 L602.64,240.58 L603.26,240.82 L603.88,241.08 L604.50,241.33 L605.12,241.59 L605.74,241.85 L606.35,242.12 L606.97,242.39 L607.58,242.67 L608.20,242.94 L608.81,243.22 L609.42,243.50 L610.03,243.78 L610.65,244.07 L611.26,244.35 L611.87,244.64 L612.48,244.92 L613.09,245.20 L613.70,245.49 L614.31,245.77 L614.92,246.06 L615.53,246.34 L616.14,246.62 L616.75,246.91 L617.36,247.19 L617.97,247.47 L618.58,247.75 L619.19,248.03 L619.80,248.31 L620.41,248.59 L621.02,248.86 L621.63,249.14 L622.24,249.42 L622.86,249.69 L623.47,249.97 L624.08,250.24 L624.70,250.51 L625.31,250.78 L625.92,251.05 L626.54,251.32 L627.16,251.59 L627.77,251.85 L628.39,252.11 L629.01,252.38 L629.63,252.64 L630.25,252.90 L630.87,253.15 L631.50,253.41 L632.12,253.67 L632.74,253.92 L633.37,254.17 L634.00,254.42 L634.63,254.66 L635.26,254.91 L635.89,255.15 L636.52,255.39 L637.15,255.63 L637.79,255.87 L638.43,256.10 L639.06,256.33 L639.70,256.57 L640.35,256.79 L640.99,257.02 L641.63,257.25 L642.27,257.47 L642.92,257.70 L643.56,257.92 L644.20,258.15 L644.85,258.37 L645.49,258.60 L646.13,258.82 L646.77,259.05 L647.41,259.28 L648.05,259.51 L648.69,259.74 L649.33,259.98 L649.96,260.22 L650.59,260.46 L651.22,260.70 L651.85,260.95 L652.48,261.20 L653.10,261.46 L653.72,261.71 L654.34,261.98 L654.95,262.25 L655.56,262.52 L656.17,262.80 L656.77,263.09 L657.37,263.38 L657.96,263.68 L658.55,263.98 L659.14,264.29 L659.72,264.61 L660.29,264.94 L660.86,265.27 L661.43,265.61 L661.99,265.96 L662.54,266.32 L663.09,266.69 L663.63,267.06 L664.17,267.44 L664.70,267.83 L665.23,268.22 L665.75,268.62 L666.27,269.03 L666.78,269.45 L667.28,269.87 L667.78,270.30 L668.28,270.74 L668.77,271.18 L669.25,271.63 L669.73,272.08 L670.20,272.55 L670.67,273.01 L671.13,273.49 L671.59,273.97 L672.04,274.46 L672.48,274.95 L672.92,275.45 L673.36,275.95 L673.79,276.46 L674.21,276.97 L674.63,277.49 L675.04,278.02 L675.45,278.55 L675.85,279.08 L676.25,279.62 L676.64,280.17 L677.02,280.72 L677.40,281.27 L677.77,281.83 L678.14,282.40 L678.51,282.96 L678.86,283.54 L679.21,284.11 L679.56,284.69 L679.90,285.28 L680.24,285.87 L680.57,286.46 L680.89,287.05 L681.21,287.65 L681.52,288.26 L681.83,288.86 L682.13,289.47 L682.43,290.08 L682.72,290.70 L683.00,291.32 L683.28,291.94 L683.56,292.56 L683.82,293.19 L684.09,293.82 L684.34,294.45 L684.59,295.09 L684.84,295.73 L685.08,296.37 L685.31,297.01 L685.54,297.65 L685.77,298.30 L685.98,298.94 L686.20,299.59 L686.40,300.24 L686.60,300.89 L686.80,301.55 L686.99,302.20 L687.17,302.86 L687.35,303.52 L687.52,304.18 L687.69,304.84 L687.85,305.50 L688.00,306.16 L688.15,306.82 L688.29,307.48 L688.43,308.14 L688.56,308.81 L688.69,309.47 L688.81,310.13 L688.93,310.80 L689.04,311.46 L689.14,312.12 L689.24,312.79 L689.33,313.45 L689.41,314.11 L689.50,314.78 L689.57,315.44 L689.64,316.10 L689.70,316.76 L689.76,317.42 L689.81,318.08 L689.86,318.73 L689.90,319.39 L689.93,320.04 L689.96,320.70 L689.98,321.35 L690.00,322.00" stroke="#ff9740"/>
<path d="M573.70,322.00 L573.70,265.50 L573.70,265.50 L573.73,264.83 L573.78,264.15 L573.83,263.47 L573.88,262.79 L573.95,262.10 L574.03,261.41 L574.11,260.72 L574.21,260.03 L574.31,259.33 L574.43,258.64 L574.56,257.95 L574.70,257.26 L574.85,256.58 L575.01,255.90 L575.19,255.22 L575.38,254.54 L575.58,253.87 L575.80,253.21 L576.03,252.55 L576.27,251.90 L576.53,251.25 L576.81,250.62 L577.10,249.99 L577.41,249.37 L577.74,248.77 L578.08,248.17 L578.44,247.58 L578.82,247.01 L579.22,246.45 L579.63,245.90 L580.07,245.37 L580.52,244.85 L581.00,244.35 L581.49,243.86 L582.01,243.39 L582.54,242.94 L583.10,242.50 L583.10,242.50 L583.73,242.31 L584.36,242.11 L584.99,241.93 L585.62,241.74 L586.26,241.56 L586.90,241.39 L587.54,241.22 L588.18,241.05 L588.82,240.88 L589.47,240.72 L590.12,240.56 L590.77,240.41 L591.42,240.26 L592.08,240.11 L592.73,239.96 L593.39,239.82 L594.04,239.69 L594.70,239.55 L595.36,239.42 L596.03,239.29 L596.69,239.17 L597.35,239.05 L598.02,238.93 L598.68,238.82 L599.35,238.71 L600.02,238.60 L600.68,238.50 L601.35,238.41 L602.02,238.31 L602.69,238.22 L603.36,238.14 L604.03,238.06 L604.70,237.98 L605.38,237.91 L606.05,237.85 L606.72,237.78 L607.39,237.73 L608.06,237.68 L608.74,237.63 L609.41,237.59 L610.08,237.55 L610.75,237.52 L611.42,237.50 L612.09,237.48 L612.77,237.47 L613.44,237.46 L614.11,237.46 L614.78,237.46 L615.45,237.47 L616.11,237.49 L616.78,237.51 L617.45,237.54 L618.12,237.57 L618.78,237.61 L619.45,237.65 L620.12,237.70 L620.78,237.76 L621.44,237.82 L622.11,237.89 L622.77,237.96 L623.43,238.04 L624.09,238.12 L624.75,238.21 L625.41,238.31 L626.07,238.41 L626.73,238.52 L627.38,238.63 L628.04,238.75 L628.69,238.87 L629.34,239.00 L630.00,239.13 L630.65,239.27 L631.30,239.42 L631.94,239.57 L632.59,239.73 L633.24,239.89 L633.88,240.06 L634.53,240.23 L635.17,240.41 L635.81,240.60 L636.45,240.79 L637.09,240.98 L637.72,241.19 L638.36,241.39 L638.99,241.61 L639.62,241.82 L640.25,242.05 L640.88,242.27 L641.51,242.51 L642.13,242.75 L642.75,242.99 L643.38,243.24 L643.99,243.50 L644.61,243.76 L645.23,244.03 L645.84,244.30 L646.45,244.58 L647.06,244.86 L647.66,245.15 L648.27,245.44 L648.87,245.74 L649.46,246.04 L650.06,246.35 L650.65,246.67 L651.24,246.99 L651.83,247.31 L652.41,247.64 L653.00,247.98 L653.57,248.32 L654.15,248.66 L654.72,249.01 L655.29,249.37 L655.86,249.73 L656.42,250.09 L656.98,250.47 L657.53,250.84 L658.08,251.22 L658.63,251.61 L659.18,252.00 L659.72,252.40 L660.26,252.80 L660.79,253.20 L661.32,253.62 L661.84,254.03 L662.37,254.45 L662.88,254.88 L663.40,255.31 L663.91,255.75 L664.41,256.19 L664.91,256.64 L665.41,257.09 L665.90,257.54 L666.39,258.00 L666.87,258.47 L667.35,258.94 L667.83,259.41 L668.30,259.89 L668.76,260.37 L669.22,260.86 L669.68,261.35 L670.13,261.84 L670.58,262.34 L671.02,262.85 L671.46,263.36 L671.89,263.87 L672.32,264.38 L672.75,264.90 L673.17,265.43 L673.58,265.95 L673.99,266.49 L674.40,267.02 L674.80,267.56 L675.19,268.10 L675.59,268.65 L675.97,269.20 L676.35,269.75 L676.73,270.30 L677.10,270.86 L677.47,271.43 L677.83,271.99 L678.18,272.56 L678.53,273.13 L678.88,273.71 L679.22,274.29 L679.56,274.87 L679.89,275.45 L680.21,276.04 L680.53,276.63 L680.84,277.22 L681.15,277.82 L681.46,278.41 L681.76,279.01 L682.05,279.62 L682.34,280.22 L682.62,280.83 L682.90,281.44 L683.17,282.05 L683.43,282.67 L683.70,283.28 L683.95,283.90 L684.20,284.52 L684.44,285.15 L684.68,285.77 L684.91,286.40 L685.14,287.03 L685.36,287.66 L685.58,288.29 L685.79,288.92 L685.99,289.56 L686.19,290.20 L686.38,290.84 L686.57,291.48 L686.75,292.12 L686.93,292.76 L687.10,293.41 L687.26,294.06 L687.42,294.70 L687.58,295.35 L687.73,296.00 L687.87,296.65 L688.01,297.31 L688.14,297.96 L688.27,298.62 L688.39,299.27 L688.51,299.93 L688.62,300.59 L688.73,301.25 L688.83,301.91 L688.93,302.57 L689.02,303.24 L689.11,303.90 L689.19,304.56 L689.26,305.23 L689.34,305.89 L689.40,306.56 L689.47,307.23 L689.53,307.90 L689.58,308.56 L689.63,309.23 L689.67,309.90 L689.71,310.57 L689.75,311.24 L689.78,311.91 L689.80,312.58 L689.82,313.26 L689.84,313.93 L689.85,314.60 L689.86,315.27 L689.86,315.95 L689.86,316.62 L689.86,317.29 L689.85,317.96 L689.83,318.64 L689.81,319.31 L689.79,319.98 L689.76,320.65 L689.73,321.33 L689.70,322.00" stroke="#3d9b3d"/>
<path d="M580.10,322.00 L580.10,263.00 L580.10,263.00 L580.22,262.38 L580.34,261.75 L580.45,261.12 L580.56,260.47 L580.67,259.82 L580.78,259.16 L580.88,258.49 L580.99,257.82 L581.09,257.15 L581.21,256.47 L581.32,255.79 L581.44,255.11 L581.57,254.43 L581.71,253.74 L581.85,253.06 L582.01,252.38 L582.17,251.71 L582.35,251.03 L582.54,250.36 L582.75,249.70 L582.97,249.04 L583.20,248.39 L583.46,247.76 L583.75,247.14 L584.06,246.55 L584.40,245.98 L584.77,245.44 L585.18,244.94 L585.63,244.48 L586.12,244.06 L586.64,243.69 L587.20,243.35 L587.78,243.04 L588.37,242.76 L588.98,242.49 L589.58,242.24 L590.20,242.00 L590.81,241.77 L591.43,241.56 L592.06,241.36 L592.68,241.17 L593.31,240.99 L593.95,240.83 L594.58,240.67 L595.23,240.53 L595.87,240.39 L596.52,240.26 L597.16,240.14 L597.82,240.03 L598.47,239.93 L599.13,239.83 L599.79,239.74 L600.45,239.66 L601.11,239.58 L601.78,239.51 L602.45,239.44 L603.11,239.37 L603.78,239.31 L604.46,239.25 L605.13,239.20 L605.80,239.15 L606.48,239.10 L607.16,239.05 L607.83,239.00 L608.51,238.95 L609.19,238.90 L609.87,238.85 L610.55,238.80 L611.23,238.75 L611.91,238.70 L612.59,238.64 L613.27,238.58 L613.95,238.52 L614.62,238.46 L615.30,238.39 L615.98,238.32 L616.66,238.26 L617.34,238.19 L618.02,238.12 L618.69,238.05 L619.37,237.98 L620.05,237.91 L620.72,237.84 L621.40,237.78 L622.07,237.71 L622.75,237.64 L623.42,237.58 L624.10,237.52 L624.77,237.46 L625.44,237.41 L626.12,237.36 L626.79,237.31 L627.46,237.26 L628.13,237.22 L628.80,237.19 L629.46,237.15 L630.13,237.13 L630.80,237.10 L631.46,237.09 L632.13,237.08 L632.79,237.07 L633.45,237.07 L634.12,237.08 L634.78,237.10 L635.44,237.12 L636.10,237.15 L636.75,237.19 L637.41,237.24 L638.07,237.29 L638.72,237.35 L639.37,237.43 L640.03,237.51 L640.68,237.60 L641.33,237.70 L641.97,237.82 L642.62,237.94 L643.27,238.07 L643.91,238.22 L644.55,238.37 L645.19,238.54 L645.83,238.72 L646.47,238.91 L647.10,239.12 L647.74,239.33 L648.37,239.56 L649.00,239.80 L649.62,240.04 L650.25,240.30 L650.86,240.57 L651.48,240.85 L652.09,241.14 L652.70,241.43 L653.30,241.74 L653.90,242.06 L654.49,242.38 L655.08,242.71 L655.66,243.06 L656.24,243.41 L656.81,243.76 L657.38,244.13 L657.94,244.50 L658.49,244.88 L659.04,245.27 L659.58,245.67 L660.11,246.07 L660.64,246.48 L661.17,246.89 L661.68,247.32 L662.19,247.75 L662.70,248.18 L663.20,248.62 L663.69,249.07 L664.18,249.53 L664.66,249.99 L665.13,250.45 L665.60,250.93 L666.07,251.41 L666.52,251.89 L666.98,252.38 L667.43,252.87 L667.87,253.37 L668.30,253.88 L668.73,254.39 L669.16,254.90 L669.58,255.42 L670.00,255.95 L670.41,256.48 L670.81,257.01 L671.21,257.55 L671.61,258.09 L671.99,258.64 L672.38,259.19 L672.76,259.74 L673.13,260.30 L673.50,260.86 L673.87,261.43 L674.23,261.99 L674.58,262.57 L674.94,263.14 L675.28,263.72 L675.62,264.30 L675.96,264.89 L676.29,265.48 L676.62,266.07 L676.95,266.66 L677.26,267.25 L677.58,267.85 L677.89,268.45 L678.20,269.05 L678.50,269.66 L678.80,270.26 L679.09,270.87 L679.38,271.48 L679.67,272.09 L679.95,272.71 L680.23,273.32 L680.50,273.93 L680.77,274.55 L681.04,275.17 L681.30,275.79 L681.56,276.41 L681.81,277.03 L682.06,277.65 L682.31,278.27 L682.55,278.89 L682.79,279.52 L683.03,280.14 L683.26,280.77 L683.48,281.40 L683.70,282.03 L683.92,282.66 L684.13,283.29 L684.33,283.92 L684.53,284.55 L684.73,285.19 L684.92,285.82 L685.10,286.46 L685.28,287.10 L685.45,287.74 L685.62,288.38 L685.78,289.03 L685.94,289.67 L686.09,290.32 L686.23,290.96 L686.36,291.61 L686.49,292.27 L686.62,292.92 L686.74,293.57 L686.85,294.23 L686.95,294.89 L687.04,295.55 L687.13,296.21 L687.22,296.87 L687.29,297.54 L687.36,298.21 L687.42,298.88 L687.47,299.55 L687.51,300.22 L687.55,300.90 L687.58,301.58 L687.60,302.26 L687.61,302.94 L687.62,303.62 L687.61,304.31 L687.60,305.00 L687.60,305.00 L687.60,322.00" stroke="#ff3344"/>
<path d="M584.10,322.00 L584.10,257.00 L584.10,257.00 L584.26,256.42 L584.41,255.80 L584.55,255.16 L584.68,254.49 L584.81,253.80 L584.93,253.10 L585.06,252.39 L585.20,251.67 L585.34,250.96 L585.50,250.25 L585.68,249.55 L585.88,248.87 L586.10,248.21 L586.36,247.57 L586.64,246.97 L586.96,246.40 L587.32,245.88 L587.72,245.40 L588.16,244.96 L588.64,244.56 L589.14,244.20 L589.67,243.86 L590.23,243.56 L590.80,243.28 L591.38,243.01 L591.97,242.77 L592.57,242.53 L593.18,242.31 L593.78,242.10 L594.40,241.90 L595.02,241.71 L595.64,241.54 L596.27,241.37 L596.91,241.21 L597.54,241.06 L598.19,240.92 L598.83,240.79 L599.48,240.66 L600.14,240.54 L600.79,240.43 L601.45,240.33 L602.11,240.23 L602.78,240.13 L603.45,240.04 L604.12,239.96 L604.79,239.87 L605.46,239.79 L606.14,239.72 L606.81,239.64 L607.49,239.57 L608.17,239.50 L608.85,239.43 L609.53,239.36 L610.21,239.29 L610.89,239.21 L611.57,239.14 L612.25,239.07 L612.93,238.99 L613.61,238.91 L614.29,238.83 L614.97,238.75 L615.65,238.67 L616.33,238.58 L617.00,238.50 L617.68,238.41 L618.36,238.32 L619.03,238.24 L619.71,238.15 L620.38,238.06 L621.06,237.98 L621.73,237.89 L622.41,237.81 L623.08,237.72 L623.75,237.64 L624.42,237.56 L625.09,237.48 L625.77,237.40 L626.44,237.33 L627.11,237.26 L627.78,237.18 L628.44,237.12 L629.11,237.05 L629.78,236.99 L630.45,236.93 L631.11,236.88 L631.78,236.83 L632.45,236.78 L633.11,236.74 L633.78,236.70 L634.44,236.67 L635.10,236.64 L635.77,236.62 L636.43,236.60 L637.09,236.59 L637.75,236.59 L638.41,236.59 L639.07,236.60 L639.73,236.61 L640.39,236.63 L641.04,236.65 L641.70,236.69 L642.36,236.73 L643.01,236.78 L643.67,236.84 L644.32,236.90 L644.97,236.97 L645.63,237.05 L646.28,237.14 L646.93,237.24 L647.58,237.35 L648.23,237.47 L648.88,237.59 L649.53,237.73 L650.18,237.88 L650.82,238.03 L651.47,238.20 L652.12,238.38 L652.76,238.56 L653.40,238.76 L654.05,238.97 L654.69,239.19 L655.33,239.43 L655.97,239.67 L656.61,239.93 L657.25,240.20 L657.88,240.48 L658.51,240.78 L659.12,241.09 L659.73,241.41 L660.33,241.75 L660.92,242.11 L661.50,242.47 L662.06,242.86 L662.61,243.26 L663.13,243.67 L663.65,244.11 L664.14,244.56 L664.61,245.02 L665.05,245.51 L665.48,246.01 L665.90,246.52 L666.30,247.04 L666.69,247.58 L667.06,248.12 L667.43,248.67 L667.79,249.23 L668.15,249.79 L668.51,250.35 L668.86,250.92 L669.21,251.48 L669.57,252.05 L669.92,252.62 L670.27,253.19 L670.61,253.77 L670.96,254.35 L671.30,254.92 L671.64,255.50 L671.98,256.08 L672.31,256.67 L672.65,257.25 L672.98,257.84 L673.30,258.43 L673.63,259.02 L673.95,259.61 L674.27,260.21 L674.59,260.80 L674.90,261.40 L675.21,262.00 L675.51,262.60 L675.81,263.20 L676.11,263.80 L676.40,264.41 L676.69,265.02 L676.98,265.63 L677.26,266.24 L677.54,266.85 L677.81,267.46 L678.08,268.08 L678.34,268.70 L678.60,269.32 L678.85,269.94 L679.10,270.56 L679.35,271.18 L679.59,271.81 L679.82,272.43 L680.05,273.06 L680.28,273.69 L680.50,274.32 L680.71,274.95 L680.92,275.59 L681.12,276.22 L681.32,276.86 L681.52,277.50 L681.70,278.14 L681.89,278.78 L682.06,279.43 L682.23,280.07 L682.40,280.72 L682.56,281.36 L682.71,282.01 L682.86,282.66 L683.00,283.32 L683.14,283.97 L683.27,284.62 L683.39,285.28 L683.50,285.94 L683.62,286.60 L683.72,287.26 L683.82,287.92 L683.91,288.58 L683.99,289.24 L684.07,289.91 L684.14,290.58 L684.20,291.25 L684.26,291.92 L684.31,292.59 L684.35,293.26 L684.39,293.93 L684.42,294.61 L684.44,295.28 L684.45,295.96 L684.46,296.64 L684.46,297.32 L684.45,298.00 L684.45,298.00 L684.50,322.00" stroke="#6a8ff0"/>
<path d="M586.10,322.00 L586.10,256.00 L586.10,256.00 L586.02,255.23 L585.97,254.48 L585.96,253.73 L585.99,253.00 L586.04,252.28 L586.13,251.57 L586.25,250.88 L586.39,250.20 L586.57,249.54 L586.78,248.90 L587.02,248.28 L587.28,247.68 L587.57,247.11 L587.89,246.55 L588.23,246.02 L588.60,245.51 L588.99,245.03 L589.41,244.58 L589.85,244.15 L590.31,243.76 L590.79,243.39 L591.30,243.06 L591.82,242.75 L592.36,242.46 L592.92,242.20 L593.49,241.97 L594.08,241.75 L594.68,241.56 L595.30,241.38 L595.92,241.22 L596.56,241.08 L597.21,240.94 L597.87,240.82 L598.53,240.71 L599.20,240.61 L599.88,240.52 L600.56,240.43 L601.25,240.35 L601.93,240.27 L602.62,240.19 L603.31,240.11 L604.00,240.03 L604.68,239.94 L605.37,239.86 L606.06,239.77 L606.74,239.68 L607.42,239.59 L608.10,239.49 L608.78,239.40 L609.46,239.30 L610.14,239.21 L610.82,239.11 L611.50,239.01 L612.17,238.91 L612.85,238.81 L613.53,238.71 L614.20,238.61 L614.87,238.51 L615.55,238.41 L616.22,238.32 L616.89,238.22 L617.56,238.12 L618.23,238.02 L618.90,237.93 L619.57,237.83 L620.24,237.74 L620.90,237.65 L621.57,237.56 L622.24,237.47 L622.90,237.39 L623.57,237.30 L624.24,237.22 L624.90,237.14 L625.57,237.07 L626.23,236.99 L626.89,236.92 L627.56,236.86 L628.22,236.79 L628.88,236.73 L629.55,236.68 L630.21,236.62 L630.87,236.57 L631.53,236.53 L632.20,236.49 L632.86,236.45 L633.52,236.42 L634.18,236.39 L634.84,236.37 L635.50,236.35 L636.16,236.34 L636.83,236.34 L637.49,236.33 L638.15,236.34 L638.81,236.35 L639.47,236.37 L640.13,236.39 L640.80,236.42 L641.46,236.45 L642.12,236.50 L642.78,236.54 L643.44,236.60 L644.11,236.66 L644.77,236.73 L645.43,236.81 L646.10,236.90 L646.76,236.99 L647.42,237.09 L648.09,237.20 L648.75,237.32 L649.42,237.44 L650.08,237.58 L650.75,237.72 L651.41,237.87 L652.07,238.03 L652.73,238.20 L653.39,238.39 L654.05,238.58 L654.70,238.78 L655.34,238.99 L655.98,239.22 L656.62,239.46 L657.25,239.71 L657.87,239.97 L658.49,240.24 L659.09,240.53 L659.69,240.83 L660.28,241.14 L660.86,241.47 L661.43,241.81 L661.99,242.16 L662.53,242.53 L663.07,242.92 L663.59,243.32 L664.10,243.74 L664.59,244.17 L665.07,244.62 L665.54,245.08 L665.99,245.56 L666.43,246.05 L666.87,246.55 L667.29,247.06 L667.70,247.59 L668.10,248.12 L668.49,248.67 L668.87,249.22 L669.25,249.78 L669.62,250.35 L669.98,250.92 L670.34,251.50 L670.69,252.08 L671.03,252.67 L671.38,253.26 L671.72,253.85 L672.06,254.44 L672.39,255.03 L672.73,255.63 L673.06,256.22 L673.39,256.81 L673.72,257.40 L674.04,257.99 L674.37,258.58 L674.69,259.18 L675.00,259.77 L675.32,260.36 L675.63,260.96 L675.93,261.55 L676.23,262.15 L676.53,262.75 L676.82,263.35 L677.11,263.95 L677.39,264.56 L677.66,265.16 L677.93,265.77 L678.20,266.38 L678.45,266.99 L678.70,267.61 L678.95,268.23 L679.18,268.85 L679.41,269.47 L679.62,270.10 L679.83,270.73 L680.02,271.36 L680.21,272.00 L680.38,272.64 L680.54,273.28 L680.69,273.93 L680.82,274.58 L680.94,275.23 L681.04,275.89 L681.12,276.55 L681.19,277.22 L681.24,277.89 L681.28,278.56 L681.29,279.24 L681.29,279.93 L681.26,280.61 L681.22,281.30 L681.15,282.00 L681.15,282.00 L681.20,322.00" stroke="#262626"/>
</g>
<path d="M31.52,161.00v-1.70M31.52,0.50v1.70M33.96,161.00v-1.70M33.96,0.50v1.70M36.07,161.00v-1.70M36.07,0.50v1.70M37.93,161.00v-1.70M37.93,0.50v1.70M39.60,161.00v-3.20M39.60,0.50v3.20M50.56,161.00v-1.70M50.56,0.50v1.70M56.98,161.00v-1.70M56.98,0.50v1.70M61.53,161.00v-1.70M61.53,0.50v1.70M65.06,161.00v-1.70M65.06,0.50v1.70M67.94,161.00v-1.70M67.94,0.50v1.70M70.38,161.00v-1.70M70.38,0.50v1.70M72.49,161.00v-1.70M72.49,0.50v1.70M74.35,161.00v-1.70M74.35,0.50v1.70M76.02,161.00v-3.20M76.02,0.50v3.20M86.98,161.00v-1.70M86.98,0.50v1.70M93.40,161.00v-1.70M93.40,0.50v1.70M97.95,161.00v-1.70M97.95,0.50v1.70M101.48,161.00v-1.70M101.48,0.50v1.70M104.36,161.00v-1.70M104.36,0.50v1.70M106.80,161.00v-1.70M106.80,0.50v1.70M108.91,161.00v-1.70M108.91,0.50v1.70M110.77,161.00v-1.70M110.77,0.50v1.70M112.44,161.00v-3.20M112.44,0.50v3.20M123.40,161.00v-1.70M123.40,0.50v1.70M129.82,161.00v-1.70M129.82,0.50v1.70M134.37,161.00v-1.70M134.37,0.50v1.70M137.90,161.00v-1.70M137.90,0.50v1.70M140.78,161.00v-1.70M140.78,0.50v1.70M143.22,161.00v-1.70M143.22,0.50v1.70M145.33,161.00v-1.70M145.33,0.50v1.70M147.19,161.00v-1.70M147.19,0.50v1.70M148.86,161.00v-3.20M148.86,0.50v3.20M159.82,161.00v-1.70M159.82,0.50v1.70M166.24,161.00v-1.70M166.24,0.50v1.70M170.79,161.00v-1.70M170.79,0.50v1.70M174.32,161.00v-1.70M174.32,0.50v1.70M177.20,161.00v-1.70M177.20,0.50v1.70M179.64,161.00v-1.70M179.64,0.50v1.70M181.75,161.00v-1.70M181.75,0.50v1.70M183.61,161.00v-1.70M183.61,0.50v1.70M185.28,161.00v-3.20M185.28,0.50v3.20M28.40,160.30h1.70M196.40,160.30h-1.70M28.40,156.07h1.70M196.40,156.07h-1.70M28.40,153.07h1.70M196.40,153.07h-1.70M28.40,150.74h1.70M196.40,150.74h-1.70M28.40,148.83h1.70M196.40,148.83h-1.70M28.40,147.22h1.70M196.40,147.22h-1.70M28.40,145.83h1.70M196.40,145.83h-1.70M28.40,144.60h1.70M196.40,144.60h-1.70M28.40,143.50h3.20M196.40,143.50h-3.20M28.40,136.26h1.70M196.40,136.26h-1.70M28.40,132.03h1.70M196.40,132.03h-1.70M28.40,129.03h1.70M196.40,129.03h-1.70M28.40,126.70h1.70M196.40,126.70h-1.70M28.40,124.79h1.70M196.40,124.79h-1.70M28.40,123.18h1.70M196.40,123.18h-1.70M28.40,121.79h1.70M196.40,121.79h-1.70M28.40,120.56h1.70M196.40,120.56h-1.70M28.40,119.46h3.20M196.40,119.46h-3.20M28.40,112.22h1.70M196.40,112.22h-1.70M28.40,107.99h1.70M196.40,107.99h-1.70M28.40,104.99h1.70M196.40,104.99h-1.70M28.40,102.66h1.70M196.40,102.66h-1.70M28.40,100.75h1.70M196.40,100.75h-1.70M28.40,99.14h1.70M196.40,99.14h-1.70M28.40,97.75h1.70M196.40,97.75h-1.70M28.40,96.52h1.70M196.40,96.52h-1.70M28.40,95.42h3.20M196.40,95.42h-3.20M28.40,88.18h1.70M196.40,88.18h-1.70M28.40,83.95h1.70M196.40,83.95h-1.70M28.40,80.95h1.70M196.40,80.95h-1.70M28.40,78.62h1.70M196.40,78.62h-1.70M28.40,76.71h1.70M196.40,76.71h-1.70M28.40,75.10h1.70M196.40,75.10h-1.70M28.40,73.71h1.70M196.40,73.71h-1.70M28.40,72.48h1.70M196.40,72.48h-1.70M28.40,71.38h3.20M196.40,71.38h-3.20M28.40,64.14h1.70M196.40,64.14h-1.70M28.40,59.91h1.70M196.40,59.91h-1.70M28.40,56.91h1.70M196.40,56.91h-1.70M28.40,54.58h1.70M196.40,54.58h-1.70M28.40,52.67h1.70M196.40,52.67h-1.70M28.40,51.06h1.70M196.40,51.06h-1.70M28.40,49.67h1.70M196.40,49.67h-1.70M28.40,48.44h1.70M196.40,48.44h-1.70M28.40,47.34h3.20M196.40,47.34h-3.20M28.40,40.10h1.70M196.40,40.10h-1.70M28.40,35.87h1.70M196.40,35.87h-1.70M28.40,32.87h1.70M196.40,32.87h-1.70M28.40,30.54h1.70M196.40,30.54h-1.70M28.40,28.63h1.70M196.40,28.63h-1.70M28.40,27.02h1.70M196.40,27.02h-1.70M28.40,25.63h1.70M196.40,25.63h-1.70M28.40,24.40h1.70M196.40,24.40h-1.70M28.40,23.30h3.20M196.40,23.30h-3.20M28.40,16.06h1.70M196.40,16.06h-1.70M28.40,11.83h1.70M196.40,11.83h-1.70M28.40,8.83h1.70M196.40,8.83h-1.70M28.40,6.50h1.70M196.40,6.50h-1.70M28.40,4.59h1.70M196.40,4.59h-1.70M28.40,2.98h1.70M196.40,2.98h-1.70M28.40,1.59h1.70M196.40,1.59h-1.70M199.52,161.00v-1.70M199.52,0.50v1.70M201.96,161.00v-1.70M201.96,0.50v1.70M204.07,161.00v-1.70M204.07,0.50v1.70M205.93,161.00v-1.70M205.93,0.50v1.70M207.60,161.00v-3.20M207.60,0.50v3.20M218.56,161.00v-1.70M218.56,0.50v1.70M224.98,161.00v-1.70M224.98,0.50v1.70M229.53,161.00v-1.70M229.53,0.50v1.70M233.06,161.00v-1.70M233.06,0.50v1.70M235.94,161.00v-1.70M235.94,0.50v1.70M238.38,161.00v-1.70M238.38,0.50v1.70M240.49,161.00v-1.70M240.49,0.50v1.70M242.35,161.00v-1.70M242.35,0.50v1.70M244.02,161.00v-3.20M244.02,0.50v3.20M254.98,161.00v-1.70M254.98,0.50v1.70M261.40,161.00v-1.70M261.40,0.50v1.70M265.95,161.00v-1.70M265.95,0.50v1.70M269.48,161.00v-1.70M269.48,0.50v1.70M272.36,161.00v-1.70M272.36,0.50v1.70M274.80,161.00v-1.70M274.80,0.50v1.70M276.91,161.00v-1.70M276.91,0.50v1.70M278.77,161.00v-1.70M278.77,0.50v1.70M280.44,161.00v-3.20M280.44,0.50v3.20M291.40,161.00v-1.70M291.40,0.50v1.70M297.82,161.00v-1.70M297.82,0.50v1.70M302.37,161.00v-1.70M302.37,0.50v1.70M305.90,161.00v-1.70M305.90,0.50v1.70M308.78,161.00v-1.70M308.78,0.50v1.70M311.22,161.00v-1.70M311.22,0.50v1.70M313.33,161.00v-1.70M313.33,0.50v1.70M315.19,161.00v-1.70M315.19,0.50v1.70M316.86,161.00v-3.20M316.86,0.50v3.20M327.82,161.00v-1.70M327.82,0.50v1.70M334.24,161.00v-1.70M334.24,0.50v1.70M338.79,161.00v-1.70M338.79,0.50v1.70M342.32,161.00v-1.70M342.32,0.50v1.70M345.20,161.00v-1.70M345.20,0.50v1.70M347.64,161.00v-1.70M347.64,0.50v1.70M349.75,161.00v-1.70M349.75,0.50v1.70M351.61,161.00v-1.70M351.61,0.50v1.70M353.28,161.00v-3.20M353.28,0.50v3.20M196.40,160.30h1.70M364.30,160.30h-1.70M196.40,156.07h1.70M364.30,156.07h-1.70M196.40,153.07h1.70M364.30,153.07h-1.70M196.40,150.74h1.70M364.30,150.74h-1.70M196.40,148.83h1.70M364.30,148.83h-1.70M196.40,147.22h1.70M364.30,147.22h-1.70M196.40,145.83h1.70M364.30,145.83h-1.70M196.40,144.60h1.70M364.30,144.60h-1.70M196.40,143.50h3.20M364.30,143.50h-3.20M196.40,136.26h1.70M364.30,136.26h-1.70M196.40,132.03h1.70M364.30,132.03h-1.70M196.40,129.03h1.70M364.30,129.03h-1.70M196.40,126.70h1.70M364.30,126.70h-1.70M196.40,124.79h1.70M364.30,124.79h-1.70M196.40,123.18h1.70M364.30,123.18h-1.70M196.40,121.79h1.70M364.30,121.79h-1.70M196.40,120.56h1.70M364.30,120.56h-1.70M196.40,119.46h3.20M364.30,119.46h-3.20M196.40,112.22h1.70M364.30,112.22h-1.70M196.40,107.99h1.70M364.30,107.99h-1.70M196.40,104.99h1.70M364.30,104.99h-1.70M196.40,102.66h1.70M364.30,102.66h-1.70M196.40,100.75h1.70M364.30,100.75h-1.70M196.40,99.14h1.70M364.30,99.14h-1.70M196.40,97.75h1.70M364.30,97.75h-1.70M196.40,96.52h1.70M364.30,96.52h-1.70M196.40,95.42h3.20M364.30,95.42h-3.20M196.40,88.18h1.70M364.30,88.18h-1.70M196.40,83.95h1.70M364.30,83.95h-1.70M196.40,80.95h1.70M364.30,80.95h-1.70M196.40,78.62h1.70M364.30,78.62h-1.70M196.40,76.71h1.70M364.30,76.71h-1.70M196.40,75.10h1.70M364.30,75.10h-1.70M196.40,73.71h1.70M364.30,73.71h-1.70M196.40,72.48h1.70M364.30,72.48h-1.70M196.40,71.38h3.20M364.30,71.38h-3.20M196.40,64.14h1.70M364.30,64.14h-1.70M196.40,59.91h1.70M364.30,59.91h-1.70M196.40,56.91h1.70M364.30,56.91h-1.70M196.40,54.58h1.70M364.30,54.58h-1.70M196.40,52.67h1.70M364.30,52.67h-1.70M196.40,51.06h1.70M364.30,51.06h-1.70M196.40,49.67h1.70M364.30,49.67h-1.70M196.40,48.44h1.70M364.30,48.44h-1.70M196.40,47.34h3.20M364.30,47.34h-3.20M196.40,40.10h1.70M364.30,40.10h-1.70M196.40,35.87h1.70M364.30,35.87h-1.70M196.40,32.87h1.70M364.30,32.87h-1.70M196.40,30.54h1.70M364.30,30.54h-1.70M196.40,28.63h1.70M364.30,28.63h-1.70M196.40,27.02h1.70M364.30,27.02h-1.70M196.40,25.63h1.70M364.30,25.63h-1.70M196.40,24.40h1.70M364.30,24.40h-1.70M196.40,23.30h3.20M364.30,23.30h-3.20M196.40,16.06h1.70M364.30,16.06h-1.70M196.40,11.83h1.70M364.30,11.83h-1.70M196.40,8.83h1.70M364.30,8.83h-1.70M196.40,6.50h1.70M364.30,6.50h-1.70M196.40,4.59h1.70M364.30,4.59h-1.70M196.40,2.98h1.70M364.30,2.98h-1.70M196.40,1.59h1.70M364.30,1.59h-1.70M367.42,161.00v-1.70M367.42,0.50v1.70M369.86,161.00v-1.70M369.86,0.50v1.70M371.97,161.00v-1.70M371.97,0.50v1.70M373.83,161.00v-1.70M373.83,0.50v1.70M375.50,161.00v-3.20M375.50,0.50v3.20M386.46,161.00v-1.70M386.46,0.50v1.70M392.88,161.00v-1.70M392.88,0.50v1.70M397.43,161.00v-1.70M397.43,0.50v1.70M400.96,161.00v-1.70M400.96,0.50v1.70M403.84,161.00v-1.70M403.84,0.50v1.70M406.28,161.00v-1.70M406.28,0.50v1.70M408.39,161.00v-1.70M408.39,0.50v1.70M410.25,161.00v-1.70M410.25,0.50v1.70M411.92,161.00v-3.20M411.92,0.50v3.20M422.88,161.00v-1.70M422.88,0.50v1.70M429.30,161.00v-1.70M429.30,0.50v1.70M433.85,161.00v-1.70M433.85,0.50v1.70M437.38,161.00v-1.70M437.38,0.50v1.70M440.26,161.00v-1.70M440.26,0.50v1.70M442.70,161.00v-1.70M442.70,0.50v1.70M444.81,161.00v-1.70M444.81,0.50v1.70M446.67,161.00v-1.70M446.67,0.50v1.70M448.34,161.00v-3.20M448.34,0.50v3.20M459.30,161.00v-1.70M459.30,0.50v1.70M465.72,161.00v-1.70M465.72,0.50v1.70M470.27,161.00v-1.70M470.27,0.50v1.70M473.80,161.00v-1.70M473.80,0.50v1.70M476.68,161.00v-1.70M476.68,0.50v1.70M479.12,161.00v-1.70M479.12,0.50v1.70M481.23,161.00v-1.70M481.23,0.50v1.70M483.09,161.00v-1.70M483.09,0.50v1.70M484.76,161.00v-3.20M484.76,0.50v3.20M495.72,161.00v-1.70M495.72,0.50v1.70M502.14,161.00v-1.70M502.14,0.50v1.70M506.69,161.00v-1.70M506.69,0.50v1.70M510.22,161.00v-1.70M510.22,0.50v1.70M513.10,161.00v-1.70M513.10,0.50v1.70M515.54,161.00v-1.70M515.54,0.50v1.70M517.65,161.00v-1.70M517.65,0.50v1.70M519.51,161.00v-1.70M519.51,0.50v1.70M521.18,161.00v-3.20M521.18,0.50v3.20M364.30,160.30h1.70M532.10,160.30h-1.70M364.30,156.07h1.70M532.10,156.07h-1.70M364.30,153.07h1.70M532.10,153.07h-1.70M364.30,150.74h1.70M532.10,150.74h-1.70M364.30,148.83h1.70M532.10,148.83h-1.70M364.30,147.22h1.70M532.10,147.22h-1.70M364.30,145.83h1.70M532.10,145.83h-1.70M364.30,144.60h1.70M532.10,144.60h-1.70M364.30,143.50h3.20M532.10,143.50h-3.20M364.30,136.26h1.70M532.10,136.26h-1.70M364.30,132.03h1.70M532.10,132.03h-1.70M364.30,129.03h1.70M532.10,129.03h-1.70M364.30,126.70h1.70M532.10,126.70h-1.70M364.30,124.79h1.70M532.10,124.79h-1.70M364.30,123.18h1.70M532.10,123.18h-1.70M364.30,121.79h1.70M532.10,121.79h-1.70M364.30,120.56h1.70M532.10,120.56h-1.70M364.30,119.46h3.20M532.10,119.46h-3.20M364.30,112.22h1.70M532.10,112.22h-1.70M364.30,107.99h1.70M532.10,107.99h-1.70M364.30,104.99h1.70M532.10,104.99h-1.70M364.30,102.66h1.70M532.10,102.66h-1.70M364.30,100.75h1.70M532.10,100.75h-1.70M364.30,99.14h1.70M532.10,99.14h-1.70M364.30,97.75h1.70M532.10,97.75h-1.70M364.30,96.52h1.70M532.10,96.52h-1.70M364.30,95.42h3.20M532.10,95.42h-3.20M364.30,88.18h1.70M532.10,88.18h-1.70M364.30,83.95h1.70M532.10,83.95h-1.70M364.30,80.95h1.70M532.10,80.95h-1.70M364.30,78.62h1.70M532.10,78.62h-1.70M364.30,76.71h1.70M532.10,76.71h-1.70M364.30,75.10h1.70M532.10,75.10h-1.70M364.30,73.71h1.70M532.10,73.71h-1.70M364.30,72.48h1.70M532.10,72.48h-1.70M364.30,71.38h3.20M532.10,71.38h-3.20M364.30,64.14h1.70M532.10,64.14h-1.70M364.30,59.91h1.70M532.10,59.91h-1.70M364.30,56.91h1.70M532.10,56.91h-1.70M364.30,54.58h1.70M532.10,54.58h-1.70M364.30,52.67h1.70M532.10,52.67h-1.70M364.30,51.06h1.70M532.10,51.06h-1.70M364.30,49.67h1.70M532.10,49.67h-1.70M364.30,48.44h1.70M532.10,48.44h-1.70M364.30,47.34h3.20M532.10,47.34h-3.20M364.30,40.10h1.70M532.10,40.10h-1.70M364.30,35.87h1.70M532.10,35.87h-1.70M364.30,32.87h1.70M532.10,32.87h-1.70M364.30,30.54h1.70M532.10,30.54h-1.70M364.30,28.63h1.70M532.10,28.63h-1.70M364.30,27.02h1.70M532.10,27.02h-1.70M364.30,25.63h1.70M532.10,25.63h-1.70M364.30,24.40h1.70M532.10,24.40h-1.70M364.30,23.30h3.20M532.10,23.30h-3.20M364.30,16.06h1.70M532.10,16.06h-1.70M364.30,11.83h1.70M532.10,11.83h-1.70M364.30,8.83h1.70M532.10,8.83h-1.70M364.30,6.50h1.70M532.10,6.50h-1.70M364.30,4.59h1.70M532.10,4.59h-1.70M364.30,2.98h1.70M532.10,2.98h-1.70M364.30,1.59h1.70M532.10,1.59h-1.70M535.22,161.00v-1.70M535.22,0.50v1.70M537.66,161.00v-1.70M537.66,0.50v1.70M539.77,161.00v-1.70M539.77,0.50v1.70M541.63,161.00v-1.70M541.63,0.50v1.70M543.30,161.00v-3.20M543.30,0.50v3.20M554.26,161.00v-1.70M554.26,0.50v1.70M560.68,161.00v-1.70M560.68,0.50v1.70M565.23,161.00v-1.70M565.23,0.50v1.70M568.76,161.00v-1.70M568.76,0.50v1.70M571.64,161.00v-1.70M571.64,0.50v1.70M574.08,161.00v-1.70M574.08,0.50v1.70M576.19,161.00v-1.70M576.19,0.50v1.70M578.05,161.00v-1.70M578.05,0.50v1.70M579.72,161.00v-3.20M579.72,0.50v3.20M590.68,161.00v-1.70M590.68,0.50v1.70M597.10,161.00v-1.70M597.10,0.50v1.70M601.65,161.00v-1.70M601.65,0.50v1.70M605.18,161.00v-1.70M605.18,0.50v1.70M608.06,161.00v-1.70M608.06,0.50v1.70M610.50,161.00v-1.70M610.50,0.50v1.70M612.61,161.00v-1.70M612.61,0.50v1.70M614.47,161.00v-1.70M614.47,0.50v1.70M616.14,161.00v-3.20M616.14,0.50v3.20M627.10,161.00v-1.70M627.10,0.50v1.70M633.52,161.00v-1.70M633.52,0.50v1.70M638.07,161.00v-1.70M638.07,0.50v1.70M641.60,161.00v-1.70M641.60,0.50v1.70M644.48,161.00v-1.70M644.48,0.50v1.70M646.92,161.00v-1.70M646.92,0.50v1.70M649.03,161.00v-1.70M649.03,0.50v1.70M650.89,161.00v-1.70M650.89,0.50v1.70M652.56,161.00v-3.20M652.56,0.50v3.20M663.52,161.00v-1.70M663.52,0.50v1.70M669.94,161.00v-1.70M669.94,0.50v1.70M674.49,161.00v-1.70M674.49,0.50v1.70M678.02,161.00v-1.70M678.02,0.50v1.70M680.90,161.00v-1.70M680.90,0.50v1.70M683.34,161.00v-1.70M683.34,0.50v1.70M685.45,161.00v-1.70M685.45,0.50v1.70M687.31,161.00v-1.70M687.31,0.50v1.70M688.98,161.00v-3.20M688.98,0.50v3.20M532.10,160.30h1.70M699.40,160.30h-1.70M532.10,156.07h1.70M699.40,156.07h-1.70M532.10,153.07h1.70M699.40,153.07h-1.70M532.10,150.74h1.70M699.40,150.74h-1.70M532.10,148.83h1.70M699.40,148.83h-1.70M532.10,147.22h1.70M699.40,147.22h-1.70M532.10,145.83h1.70M699.40,145.83h-1.70M532.10,144.60h1.70M699.40,144.60h-1.70M532.10,143.50h3.20M699.40,143.50h-3.20M532.10,136.26h1.70M699.40,136.26h-1.70M532.10,132.03h1.70M699.40,132.03h-1.70M532.10,129.03h1.70M699.40,129.03h-1.70M532.10,126.70h1.70M699.40,126.70h-1.70M532.10,124.79h1.70M699.40,124.79h-1.70M532.10,123.18h1.70M699.40,123.18h-1.70M532.10,121.79h1.70M699.40,121.79h-1.70M532.10,120.56h1.70M699.40,120.56h-1.70M532.10,119.46h3.20M699.40,119.46h-3.20M532.10,112.22h1.70M699.40,112.22h-1.70M532.10,107.99h1.70M699.40,107.99h-1.70M532.10,104.99h1.70M699.40,104.99h-1.70M532.10,102.66h1.70M699.40,102.66h-1.70M532.10,100.75h1.70M699.40,100.75h-1.70M532.10,99.14h1.70M699.40,99.14h-1.70M532.10,97.75h1.70M699.40,97.75h-1.70M532.10,96.52h1.70M699.40,96.52h-1.70M532.10,95.42h3.20M699.40,95.42h-3.20M532.10,88.18h1.70M699.40,88.18h-1.70M532.10,83.95h1.70M699.40,83.95h-1.70M532.10,80.95h1.70M699.40,80.95h-1.70M532.10,78.62h1.70M699.40,78.62h-1.70M532.10,76.71h1.70M699.40,76.71h-1.70M532.10,75.10h1.70M699.40,75.10h-1.70M532.10,73.71h1.70M699.40,73.71h-1.70M532.10,72.48h1.70M699.40,72.48h-1.70M532.10,71.38h3.20M699.40,71.38h-3.20M532.10,64.14h1.70M699.40,64.14h-1.70M532.10,59.91h1.70M699.40,59.91h-1.70M532.10,56.91h1.70M699.40,56.91h-1.70M532.10,54.58h1.70M699.40,54.58h-1.70M532.10,52.67h1.70M699.40,52.67h-1.70M532.10,51.06h1.70M699.40,51.06h-1.70M532.10,49.67h1.70M699.40,49.67h-1.70M532.10,48.44h1.70M699.40,48.44h-1.70M532.10,47.34h3.20M699.40,47.34h-3.20M532.10,40.10h1.70M699.40,40.10h-1.70M532.10,35.87h1.70M699.40,35.87h-1.70M532.10,32.87h1.70M699.40,32.87h-1.70M532.10,30.54h1.70M699.40,30.54h-1.70M532.10,28.63h1.70M699.40,28.63h-1.70M532.10,27.02h1.70M699.40,27.02h-1.70M532.10,25.63h1.70M699.40,25.63h-1.70M532.10,24.40h1.70M699.40,24.40h-1.70M532.10,23.30h3.20M699.40,23.30h-3.20M532.10,16.06h1.70M699.40,16.06h-1.70M532.10,11.83h1.70M699.40,11.83h-1.70M532.10,8.83h1.70M699.40,8.83h-1.70M532.10,6.50h1.70M699.40,6.50h-1.70M532.10,4.59h1.70M699.40,4.59h-1.70M532.10,2.98h1.70M699.40,2.98h-1.70M532.10,1.59h1.70M699.40,1.59h-1.70M31.52,321.30v-1.70M31.52,161.00v1.70M33.96,321.30v-1.70M33.96,161.00v1.70M36.07,321.30v-1.70M36.07,161.00v1.70M37.93,321.30v-1.70M37.93,161.00v1.70M39.60,321.30v-3.20M39.60,161.00v3.20M50.56,321.30v-1.70M50.56,161.00v1.70M56.98,321.30v-1.70M56.98,161.00v1.70M61.53,321.30v-1.70M61.53,161.00v1.70M65.06,321.30v-1.70M65.06,161.00v1.70M67.94,321.30v-1.70M67.94,161.00v1.70M70.38,321.30v-1.70M70.38,161.00v1.70M72.49,321.30v-1.70M72.49,161.00v1.70M74.35,321.30v-1.70M74.35,161.00v1.70M76.02,321.30v-3.20M76.02,161.00v3.20M86.98,321.30v-1.70M86.98,161.00v1.70M93.40,321.30v-1.70M93.40,161.00v1.70M97.95,321.30v-1.70M97.95,161.00v1.70M101.48,321.30v-1.70M101.48,161.00v1.70M104.36,321.30v-1.70M104.36,161.00v1.70M106.80,321.30v-1.70M106.80,161.00v1.70M108.91,321.30v-1.70M108.91,161.00v1.70M110.77,321.30v-1.70M110.77,161.00v1.70M112.44,321.30v-3.20M112.44,161.00v3.20M123.40,321.30v-1.70M123.40,161.00v1.70M129.82,321.30v-1.70M129.82,161.00v1.70M134.37,321.30v-1.70M134.37,161.00v1.70M137.90,321.30v-1.70M137.90,161.00v1.70M140.78,321.30v-1.70M140.78,161.00v1.70M143.22,321.30v-1.70M143.22,161.00v1.70M145.33,321.30v-1.70M145.33,161.00v1.70M147.19,321.30v-1.70M147.19,161.00v1.70M148.86,321.30v-3.20M148.86,161.00v3.20M159.82,321.30v-1.70M159.82,161.00v1.70M166.24,321.30v-1.70M166.24,161.00v1.70M170.79,321.30v-1.70M170.79,161.00v1.70M174.32,321.30v-1.70M174.32,161.00v1.70M177.20,321.30v-1.70M177.20,161.00v1.70M179.64,321.30v-1.70M179.64,161.00v1.70M181.75,321.30v-1.70M181.75,161.00v1.70M183.61,321.30v-1.70M183.61,161.00v1.70M185.28,321.30v-3.20M185.28,161.00v3.20M28.40,320.80h1.70M196.40,320.80h-1.70M28.40,316.57h1.70M196.40,316.57h-1.70M28.40,313.57h1.70M196.40,313.57h-1.70M28.40,311.24h1.70M196.40,311.24h-1.70M28.40,309.33h1.70M196.40,309.33h-1.70M28.40,307.72h1.70M196.40,307.72h-1.70M28.40,306.33h1.70M196.40,306.33h-1.70M28.40,305.10h1.70M196.40,305.10h-1.70M28.40,304.00h3.20M196.40,304.00h-3.20M28.40,296.76h1.70M196.40,296.76h-1.70M28.40,292.53h1.70M196.40,292.53h-1.70M28.40,289.53h1.70M196.40,289.53h-1.70M28.40,287.20h1.70M196.40,287.20h-1.70M28.40,285.29h1.70M196.40,285.29h-1.70M28.40,283.68h1.70M196.40,283.68h-1.70M28.40,282.29h1.70M196.40,282.29h-1.70M28.40,281.06h1.70M196.40,281.06h-1.70M28.40,279.96h3.20M196.40,279.96h-3.20M28.40,272.72h1.70M196.40,272.72h-1.70M28.40,268.49h1.70M196.40,268.49h-1.70M28.40,265.49h1.70M196.40,265.49h-1.70M28.40,263.16h1.70M196.40,263.16h-1.70M28.40,261.25h1.70M196.40,261.25h-1.70M28.40,259.64h1.70M196.40,259.64h-1.70M28.40,258.25h1.70M196.40,258.25h-1.70M28.40,257.02h1.70M196.40,257.02h-1.70M28.40,255.92h3.20M196.40,255.92h-3.20M28.40,248.68h1.70M196.40,248.68h-1.70M28.40,244.45h1.70M196.40,244.45h-1.70M28.40,241.45h1.70M196.40,241.45h-1.70M28.40,239.12h1.70M196.40,239.12h-1.70M28.40,237.21h1.70M196.40,237.21h-1.70M28.40,235.60h1.70M196.40,235.60h-1.70M28.40,234.21h1.70M196.40,234.21h-1.70M28.40,232.98h1.70M196.40,232.98h-1.70M28.40,231.88h3.20M196.40,231.88h-3.20M28.40,224.64h1.70M196.40,224.64h-1.70M28.40,220.41h1.70M196.40,220.41h-1.70M28.40,217.41h1.70M196.40,217.41h-1.70M28.40,215.08h1.70M196.40,215.08h-1.70M28.40,213.17h1.70M196.40,213.17h-1.70M28.40,211.56h1.70M196.40,211.56h-1.70M28.40,210.17h1.70M196.40,210.17h-1.70M28.40,208.94h1.70M196.40,208.94h-1.70M28.40,207.84h3.20M196.40,207.84h-3.20M28.40,200.60h1.70M196.40,200.60h-1.70M28.40,196.37h1.70M196.40,196.37h-1.70M28.40,193.37h1.70M196.40,193.37h-1.70M28.40,191.04h1.70M196.40,191.04h-1.70M28.40,189.13h1.70M196.40,189.13h-1.70M28.40,187.52h1.70M196.40,187.52h-1.70M28.40,186.13h1.70M196.40,186.13h-1.70M28.40,184.90h1.70M196.40,184.90h-1.70M28.40,183.80h3.20M196.40,183.80h-3.20M28.40,176.56h1.70M196.40,176.56h-1.70M28.40,172.33h1.70M196.40,172.33h-1.70M28.40,169.33h1.70M196.40,169.33h-1.70M28.40,167.00h1.70M196.40,167.00h-1.70M28.40,165.09h1.70M196.40,165.09h-1.70M28.40,163.48h1.70M196.40,163.48h-1.70M28.40,162.09h1.70M196.40,162.09h-1.70M199.52,321.30v-1.70M199.52,161.00v1.70M201.96,321.30v-1.70M201.96,161.00v1.70M204.07,321.30v-1.70M204.07,161.00v1.70M205.93,321.30v-1.70M205.93,161.00v1.70M207.60,321.30v-3.20M207.60,161.00v3.20M218.56,321.30v-1.70M218.56,161.00v1.70M224.98,321.30v-1.70M224.98,161.00v1.70M229.53,321.30v-1.70M229.53,161.00v1.70M233.06,321.30v-1.70M233.06,161.00v1.70M235.94,321.30v-1.70M235.94,161.00v1.70M238.38,321.30v-1.70M238.38,161.00v1.70M240.49,321.30v-1.70M240.49,161.00v1.70M242.35,321.30v-1.70M242.35,161.00v1.70M244.02,321.30v-3.20M244.02,161.00v3.20M254.98,321.30v-1.70M254.98,161.00v1.70M261.40,321.30v-1.70M261.40,161.00v1.70M265.95,321.30v-1.70M265.95,161.00v1.70M269.48,321.30v-1.70M269.48,161.00v1.70M272.36,321.30v-1.70M272.36,161.00v1.70M274.80,321.30v-1.70M274.80,161.00v1.70M276.91,321.30v-1.70M276.91,161.00v1.70M278.77,321.30v-1.70M278.77,161.00v1.70M280.44,321.30v-3.20M280.44,161.00v3.20M291.40,321.30v-1.70M291.40,161.00v1.70M297.82,321.30v-1.70M297.82,161.00v1.70M302.37,321.30v-1.70M302.37,161.00v1.70M305.90,321.30v-1.70M305.90,161.00v1.70M308.78,321.30v-1.70M308.78,161.00v1.70M311.22,321.30v-1.70M311.22,161.00v1.70M313.33,321.30v-1.70M313.33,161.00v1.70M315.19,321.30v-1.70M315.19,161.00v1.70M316.86,321.30v-3.20M316.86,161.00v3.20M327.82,321.30v-1.70M327.82,161.00v1.70M334.24,321.30v-1.70M334.24,161.00v1.70M338.79,321.30v-1.70M338.79,161.00v1.70M342.32,321.30v-1.70M342.32,161.00v1.70M345.20,321.30v-1.70M345.20,161.00v1.70M347.64,321.30v-1.70M347.64,161.00v1.70M349.75,321.30v-1.70M349.75,161.00v1.70M351.61,321.30v-1.70M351.61,161.00v1.70M353.28,321.30v-3.20M353.28,161.00v3.20M196.40,320.80h1.70M364.30,320.80h-1.70M196.40,316.57h1.70M364.30,316.57h-1.70M196.40,313.57h1.70M364.30,313.57h-1.70M196.40,311.24h1.70M364.30,311.24h-1.70M196.40,309.33h1.70M364.30,309.33h-1.70M196.40,307.72h1.70M364.30,307.72h-1.70M196.40,306.33h1.70M364.30,306.33h-1.70M196.40,305.10h1.70M364.30,305.10h-1.70M196.40,304.00h3.20M364.30,304.00h-3.20M196.40,296.76h1.70M364.30,296.76h-1.70M196.40,292.53h1.70M364.30,292.53h-1.70M196.40,289.53h1.70M364.30,289.53h-1.70M196.40,287.20h1.70M364.30,287.20h-1.70M196.40,285.29h1.70M364.30,285.29h-1.70M196.40,283.68h1.70M364.30,283.68h-1.70M196.40,282.29h1.70M364.30,282.29h-1.70M196.40,281.06h1.70M364.30,281.06h-1.70M196.40,279.96h3.20M364.30,279.96h-3.20M196.40,272.72h1.70M364.30,272.72h-1.70M196.40,268.49h1.70M364.30,268.49h-1.70M196.40,265.49h1.70M364.30,265.49h-1.70M196.40,263.16h1.70M364.30,263.16h-1.70M196.40,261.25h1.70M364.30,261.25h-1.70M196.40,259.64h1.70M364.30,259.64h-1.70M196.40,258.25h1.70M364.30,258.25h-1.70M196.40,257.02h1.70M364.30,257.02h-1.70M196.40,255.92h3.20M364.30,255.92h-3.20M196.40,248.68h1.70M364.30,248.68h-1.70M196.40,244.45h1.70M364.30,244.45h-1.70M196.40,241.45h1.70M364.30,241.45h-1.70M196.40,239.12h1.70M364.30,239.12h-1.70M196.40,237.21h1.70M364.30,237.21h-1.70M196.40,235.60h1.70M364.30,235.60h-1.70M196.40,234.21h1.70M364.30,234.21h-1.70M196.40,232.98h1.70M364.30,232.98h-1.70M196.40,231.88h3.20M364.30,231.88h-3.20M196.40,224.64h1.70M364.30,224.64h-1.70M196.40,220.41h1.70M364.30,220.41h-1.70M196.40,217.41h1.70M364.30,217.41h-1.70M196.40,215.08h1.70M364.30,215.08h-1.70M196.40,213.17h1.70M364.30,213.17h-1.70M196.40,211.56h1.70M364.30,211.56h-1.70M196.40,210.17h1.70M364.30,210.17h-1.70M196.40,208.94h1.70M364.30,208.94h-1.70M196.40,207.84h3.20M364.30,207.84h-3.20M196.40,200.60h1.70M364.30,200.60h-1.70M196.40,196.37h1.70M364.30,196.37h-1.70M196.40,193.37h1.70M364.30,193.37h-1.70M196.40,191.04h1.70M364.30,191.04h-1.70M196.40,189.13h1.70M364.30,189.13h-1.70M196.40,187.52h1.70M364.30,187.52h-1.70M196.40,186.13h1.70M364.30,186.13h-1.70M196.40,184.90h1.70M364.30,184.90h-1.70M196.40,183.80h3.20M364.30,183.80h-3.20M196.40,176.56h1.70M364.30,176.56h-1.70M196.40,172.33h1.70M364.30,172.33h-1.70M196.40,169.33h1.70M364.30,169.33h-1.70M196.40,167.00h1.70M364.30,167.00h-1.70M196.40,165.09h1.70M364.30,165.09h-1.70M196.40,163.48h1.70M364.30,163.48h-1.70M196.40,162.09h1.70M364.30,162.09h-1.70M367.42,321.30v-1.70M367.42,161.00v1.70M369.86,321.30v-1.70M369.86,161.00v1.70M371.97,321.30v-1.70M371.97,161.00v1.70M373.83,321.30v-1.70M373.83,161.00v1.70M375.50,321.30v-3.20M375.50,161.00v3.20M386.46,321.30v-1.70M386.46,161.00v1.70M392.88,321.30v-1.70M392.88,161.00v1.70M397.43,321.30v-1.70M397.43,161.00v1.70M400.96,321.30v-1.70M400.96,161.00v1.70M403.84,321.30v-1.70M403.84,161.00v1.70M406.28,321.30v-1.70M406.28,161.00v1.70M408.39,321.30v-1.70M408.39,161.00v1.70M410.25,321.30v-1.70M410.25,161.00v1.70M411.92,321.30v-3.20M411.92,161.00v3.20M422.88,321.30v-1.70M422.88,161.00v1.70M429.30,321.30v-1.70M429.30,161.00v1.70M433.85,321.30v-1.70M433.85,161.00v1.70M437.38,321.30v-1.70M437.38,161.00v1.70M440.26,321.30v-1.70M440.26,161.00v1.70M442.70,321.30v-1.70M442.70,161.00v1.70M444.81,321.30v-1.70M444.81,161.00v1.70M446.67,321.30v-1.70M446.67,161.00v1.70M448.34,321.30v-3.20M448.34,161.00v3.20M459.30,321.30v-1.70M459.30,161.00v1.70M465.72,321.30v-1.70M465.72,161.00v1.70M470.27,321.30v-1.70M470.27,161.00v1.70M473.80,321.30v-1.70M473.80,161.00v1.70M476.68,321.30v-1.70M476.68,161.00v1.70M479.12,321.30v-1.70M479.12,161.00v1.70M481.23,321.30v-1.70M481.23,161.00v1.70M483.09,321.30v-1.70M483.09,161.00v1.70M484.76,321.30v-3.20M484.76,161.00v3.20M495.72,321.30v-1.70M495.72,161.00v1.70M502.14,321.30v-1.70M502.14,161.00v1.70M506.69,321.30v-1.70M506.69,161.00v1.70M510.22,321.30v-1.70M510.22,161.00v1.70M513.10,321.30v-1.70M513.10,161.00v1.70M515.54,321.30v-1.70M515.54,161.00v1.70M517.65,321.30v-1.70M517.65,161.00v1.70M519.51,321.30v-1.70M519.51,161.00v1.70M521.18,321.30v-3.20M521.18,161.00v3.20M364.30,320.80h1.70M532.10,320.80h-1.70M364.30,316.57h1.70M532.10,316.57h-1.70M364.30,313.57h1.70M532.10,313.57h-1.70M364.30,311.24h1.70M532.10,311.24h-1.70M364.30,309.33h1.70M532.10,309.33h-1.70M364.30,307.72h1.70M532.10,307.72h-1.70M364.30,306.33h1.70M532.10,306.33h-1.70M364.30,305.10h1.70M532.10,305.10h-1.70M364.30,304.00h3.20M532.10,304.00h-3.20M364.30,296.76h1.70M532.10,296.76h-1.70M364.30,292.53h1.70M532.10,292.53h-1.70M364.30,289.53h1.70M532.10,289.53h-1.70M364.30,287.20h1.70M532.10,287.20h-1.70M364.30,285.29h1.70M532.10,285.29h-1.70M364.30,283.68h1.70M532.10,283.68h-1.70M364.30,282.29h1.70M532.10,282.29h-1.70M364.30,281.06h1.70M532.10,281.06h-1.70M364.30,279.96h3.20M532.10,279.96h-3.20M364.30,272.72h1.70M532.10,272.72h-1.70M364.30,268.49h1.70M532.10,268.49h-1.70M364.30,265.49h1.70M532.10,265.49h-1.70M364.30,263.16h1.70M532.10,263.16h-1.70M364.30,261.25h1.70M532.10,261.25h-1.70M364.30,259.64h1.70M532.10,259.64h-1.70M364.30,258.25h1.70M532.10,258.25h-1.70M364.30,257.02h1.70M532.10,257.02h-1.70M364.30,255.92h3.20M532.10,255.92h-3.20M364.30,248.68h1.70M532.10,248.68h-1.70M364.30,244.45h1.70M532.10,244.45h-1.70M364.30,241.45h1.70M532.10,241.45h-1.70M364.30,239.12h1.70M532.10,239.12h-1.70M364.30,237.21h1.70M532.10,237.21h-1.70M364.30,235.60h1.70M532.10,235.60h-1.70M364.30,234.21h1.70M532.10,234.21h-1.70M364.30,232.98h1.70M532.10,232.98h-1.70M364.30,231.88h3.20M532.10,231.88h-3.20M364.30,224.64h1.70M532.10,224.64h-1.70M364.30,220.41h1.70M532.10,220.41h-1.70M364.30,217.41h1.70M532.10,217.41h-1.70M364.30,215.08h1.70M532.10,215.08h-1.70M364.30,213.17h1.70M532.10,213.17h-1.70M364.30,211.56h1.70M532.10,211.56h-1.70M364.30,210.17h1.70M532.10,210.17h-1.70M364.30,208.94h1.70M532.10,208.94h-1.70M364.30,207.84h3.20M532.10,207.84h-3.20M364.30,200.60h1.70M532.10,200.60h-1.70M364.30,196.37h1.70M532.10,196.37h-1.70M364.30,193.37h1.70M532.10,193.37h-1.70M364.30,191.04h1.70M532.10,191.04h-1.70M364.30,189.13h1.70M532.10,189.13h-1.70M364.30,187.52h1.70M532.10,187.52h-1.70M364.30,186.13h1.70M532.10,186.13h-1.70M364.30,184.90h1.70M532.10,184.90h-1.70M364.30,183.80h3.20M532.10,183.80h-3.20M364.30,176.56h1.70M532.10,176.56h-1.70M364.30,172.33h1.70M532.10,172.33h-1.70M364.30,169.33h1.70M532.10,169.33h-1.70M364.30,167.00h1.70M532.10,167.00h-1.70M364.30,165.09h1.70M532.10,165.09h-1.70M364.30,163.48h1.70M532.10,163.48h-1.70M364.30,162.09h1.70M532.10,162.09h-1.70M535.22,321.30v-1.70M535.22,161.00v1.70M537.66,321.30v-1.70M537.66,161.00v1.70M539.77,321.30v-1.70M539.77,161.00v1.70M541.63,321.30v-1.70M541.63,161.00v1.70M543.30,321.30v-3.20M543.30,161.00v3.20M554.26,321.30v-1.70M554.26,161.00v1.70M560.68,321.30v-1.70M560.68,161.00v1.70M565.23,321.30v-1.70M565.23,161.00v1.70M568.76,321.30v-1.70M568.76,161.00v1.70M571.64,321.30v-1.70M571.64,161.00v1.70M574.08,321.30v-1.70M574.08,161.00v1.70M576.19,321.30v-1.70M576.19,161.00v1.70M578.05,321.30v-1.70M578.05,161.00v1.70M579.72,321.30v-3.20M579.72,161.00v3.20M590.68,321.30v-1.70M590.68,161.00v1.70M597.10,321.30v-1.70M597.10,161.00v1.70M601.65,321.30v-1.70M601.65,161.00v1.70M605.18,321.30v-1.70M605.18,161.00v1.70M608.06,321.30v-1.70M608.06,161.00v1.70M610.50,321.30v-1.70M610.50,161.00v1.70M612.61,321.30v-1.70M612.61,161.00v1.70M614.47,321.30v-1.70M614.47,161.00v1.70M616.14,321.30v-3.20M616.14,161.00v3.20M627.10,321.30v-1.70M627.10,161.00v1.70M633.52,321.30v-1.70M633.52,161.00v1.70M638.07,321.30v-1.70M638.07,161.00v1.70M641.60,321.30v-1.70M641.60,161.00v1.70M644.48,321.30v-1.70M644.48,161.00v1.70M646.92,321.30v-1.70M646.92,161.00v1.70M649.03,321.30v-1.70M649.03,161.00v1.70M650.89,321.30v-1.70M650.89,161.00v1.70M652.56,321.30v-3.20M652.56,161.00v3.20M663.52,321.30v-1.70M663.52,161.00v1.70M669.94,321.30v-1.70M669.94,161.00v1.70M674.49,321.30v-1.70M674.49,161.00v1.70M678.02,321.30v-1.70M678.02,161.00v1.70M680.90,321.30v-1.70M680.90,161.00v1.70M683.34,321.30v-1.70M683.34,161.00v1.70M685.45,321.30v-1.70M685.45,161.00v1.70M687.31,321.30v-1.70M687.31,161.00v1.70M688.98,321.30v-3.20M688.98,161.00v3.20M532.10,320.80h1.70M699.40,320.80h-1.70M532.10,316.57h1.70M699.40,316.57h-1.70M532.10,313.57h1.70M699.40,313.57h-1.70M532.10,311.24h1.70M699.40,311.24h-1.70M532.10,309.33h1.70M699.40,309.33h-1.70M532.10,307.72h1.70M699.40,307.72h-1.70M532.10,306.33h1.70M699.40,306.33h-1.70M532.10,305.10h1.70M699.40,305.10h-1.70M532.10,304.00h3.20M699.40,304.00h-3.20M532.10,296.76h1.70M699.40,296.76h-1.70M532.10,292.53h1.70M699.40,292.53h-1.70M532.10,289.53h1.70M699.40,289.53h-1.70M532.10,287.20h1.70M699.40,287.20h-1.70M532.10,285.29h1.70M699.40,285.29h-1.70M532.10,283.68h1.70M699.40,283.68h-1.70M532.10,282.29h1.70M699.40,282.29h-1.70M532.10,281.06h1.70M699.40,281.06h-1.70M532.10,279.96h3.20M699.40,279.96h-3.20M532.10,272.72h1.70M699.40,272.72h-1.70M532.10,268.49h1.70M699.40,268.49h-1.70M532.10,265.49h1.70M699.40,265.49h-1.70M532.10,263.16h1.70M699.40,263.16h-1.70M532.10,261.25h1.70M699.40,261.25h-1.70M532.10,259.64h1.70M699.40,259.64h-1.70M532.10,258.25h1.70M699.40,258.25h-1.70M532.10,257.02h1.70M699.40,257.02h-1.70M532.10,255.92h3.20M699.40,255.92h-3.20M532.10,248.68h1.70M699.40,248.68h-1.70M532.10,244.45h1.70M699.40,244.45h-1.70M532.10,241.45h1.70M699.40,241.45h-1.70M532.10,239.12h1.70M699.40,239.12h-1.70M532.10,237.21h1.70M699.40,237.21h-1.70M532.10,235.60h1.70M699.40,235.60h-1.70M532.10,234.21h1.70M699.40,234.21h-1.70M532.10,232.98h1.70M699.40,232.98h-1.70M532.10,231.88h3.20M699.40,231.88h-3.20M532.10,224.64h1.70M699.40,224.64h-1.70M532.10,220.41h1.70M699.40,220.41h-1.70M532.10,217.41h1.70M699.40,217.41h-1.70M532.10,215.08h1.70M699.40,215.08h-1.70M532.10,213.17h1.70M699.40,213.17h-1.70M532.10,211.56h1.70M699.40,211.56h-1.70M532.10,210.17h1.70M699.40,210.17h-1.70M532.10,208.94h1.70M699.40,208.94h-1.70M532.10,207.84h3.20M699.40,207.84h-3.20M532.10,200.60h1.70M699.40,200.60h-1.70M532.10,196.37h1.70M699.40,196.37h-1.70M532.10,193.37h1.70M699.40,193.37h-1.70M532.10,191.04h1.70M699.40,191.04h-1.70M532.10,189.13h1.70M699.40,189.13h-1.70M532.10,187.52h1.70M699.40,187.52h-1.70M532.10,186.13h1.70M699.40,186.13h-1.70M532.10,184.90h1.70M699.40,184.90h-1.70M532.10,183.80h3.20M699.40,183.80h-3.20M532.10,176.56h1.70M699.40,176.56h-1.70M532.10,172.33h1.70M699.40,172.33h-1.70M532.10,169.33h1.70M699.40,169.33h-1.70M532.10,167.00h1.70M699.40,167.00h-1.70M532.10,165.09h1.70M699.40,165.09h-1.70M532.10,163.48h1.70M699.40,163.48h-1.70M532.10,162.09h1.70M699.40,162.09h-1.70" stroke="#111" stroke-width="0.75" fill="none"/>
<path d="M28.00,0.50H699.80M28.00,161.00H699.80M28.00,321.30H699.80M28.40,0.10V321.70M196.40,0.10V321.70M364.30,0.10V321.70M532.10,0.10V321.70M699.40,0.10V321.70" stroke="#111" stroke-width="0.85" fill="none"/>
<g font-family='"Liberation Serif", serif' fill="#000" stroke="#000" stroke-width="0.15"><g transform="translate(30.59,331.3)"><text x="-0.94" y="0" font-size="10.50">10</text><rect x="9.83" y="-6.28" width="4.80" height="0.55" stroke="none"/><text x="15.36" y="-3.9" font-size="7.50">3</text></g><g transform="translate(67.02,331.3)"><text x="-0.94" y="0" font-size="10.50">10</text><rect x="9.83" y="-6.28" width="4.80" height="0.55" stroke="none"/><text x="15.43" y="-3.9" font-size="7.50">2</text></g><g transform="translate(103.66,331.3)"><text x="-0.94" y="0" font-size="10.50">10</text><rect x="9.83" y="-6.28" width="4.80" height="0.55" stroke="none"/><text x="15.06" y="-3.9" font-size="7.50">1</text></g><g transform="translate(142.77,331.3)"><text x="-0.94" y="0" font-size="10.50">10</text><text x="9.53" y="-3.9" font-size="7.50">0</text></g><g transform="translate(179.45,331.3)"><text x="-0.94" y="0" font-size="10.50">10</text><text x="9.16" y="-3.9" font-size="7.50">1</text></g><g transform="translate(198.59,331.3)"><text x="-0.94" y="0" font-size="10.50">10</text><rect x="9.83" y="-6.28" width="4.80" height="0.55" stroke="none"/><text x="15.36" y="-3.9" font-size="7.50">3</text></g><g transform="translate(235.01,331.3)"><text x="-0.94" y="0" font-size="10.50">10</text><rect x="9.83" y="-6.28" width="4.80" height="0.55" stroke="none"/><text x="15.43" y="-3.9" font-size="7.50">2</text></g><g transform="translate(271.66,331.3)"><text x="-0.94" y="0" font-size="10.50">10</text><rect x="9.83" y="-6.28" width="4.80" height="0.55" stroke="none"/><text x="15.06" y="-3.9" font-size="7.50">1</text></g><g transform="translate(310.77,331.3)"><text x="-0.94" y="0" font-size="10.50">10</text><text x="9.53" y="-3.9" font-size="7.50">0</text></g><g transform="translate(347.45,331.3)"><text x="-0.94" y="0" font-size="10.50">10</text><text x="9.16" y="-3.9" font-size="7.50">1</text></g><g transform="translate(366.50,331.3)"><text x="-0.94" y="0" font-size="10.50">10</text><rect x="9.83" y="-6.28" width="4.80" height="0.55" stroke="none"/><text x="15.36" y="-3.9" font-size="7.50">3</text></g><g transform="translate(402.92,331.3)"><text x="-0.94" y="0" font-size="10.50">10</text><rect x="9.83" y="-6.28" width="4.80" height="0.55" stroke="none"/><text x="15.43" y="-3.9" font-size="7.50">2</text></g><g transform="translate(439.56,331.3)"><text x="-0.94" y="0" font-size="10.50">10</text><rect x="9.83" y="-6.28" width="4.80" height="0.55" stroke="none"/><text x="15.06" y="-3.9" font-size="7.50">1</text></g><g transform="translate(478.67,331.3)"><text x="-0.94" y="0" font-size="10.50">10</text><text x="9.53" y="-3.9" font-size="7.50">0</text></g><g transform="translate(515.35,331.3)"><text x="-0.94" y="0" font-size="10.50">10</text><text x="9.16" y="-3.9" font-size="7.50">1</text></g><g transform="translate(534.30,331.3)"><text x="-0.94" y="0" font-size="10.50">10</text><rect x="9.83" y="-6.28" width="4.80" height="0.55" stroke="none"/><text x="15.36" y="-3.9" font-size="7.50">3</text></g><g transform="translate(570.72,331.3)"><text x="-0.94" y="0" font-size="10.50">10</text><rect x="9.83" y="-6.28" width="4.80" height="0.55" stroke="none"/><text x="15.43" y="-3.9" font-size="7.50">2</text></g><g transform="translate(607.36,331.3)"><text x="-0.94" y="0" font-size="10.50">10</text><rect x="9.83" y="-6.28" width="4.80" height="0.55" stroke="none"/><text x="15.06" y="-3.9" font-size="7.50">1</text></g><g transform="translate(646.47,331.3)"><text x="-0.94" y="0" font-size="10.50">10</text><text x="9.53" y="-3.9" font-size="7.50">0</text></g><g transform="translate(683.15,331.3)"><text x="-0.94" y="0" font-size="10.50">10</text><text x="9.16" y="-3.9" font-size="7.50">1</text></g><g transform="translate(24.2,143.20) rotate(-90) translate(-11.09,0)"><text x="-0.94" y="0" font-size="10.50">10</text><rect x="9.83" y="-6.28" width="4.80" height="0.55" stroke="none"/><text x="15.06" y="-3.9" font-size="7.50">15</text></g><g transform="translate(24.2,119.16) rotate(-90) translate(-11.17,0)"><text x="-0.94" y="0" font-size="10.50">10</text><rect x="9.83" y="-6.28" width="4.80" height="0.55" stroke="none"/><text x="15.06" y="-3.9" font-size="7.50">14</text></g><g transform="translate(24.2,95.12) rotate(-90) translate(-11.13,0)"><text x="-0.94" y="0" font-size="10.50">10</text><rect x="9.83" y="-6.28" width="4.80" height="0.55" stroke="none"/><text x="15.06" y="-3.9" font-size="7.50">13</text></g><g transform="translate(24.2,71.08) rotate(-90) translate(-11.09,0)"><text x="-0.94" y="0" font-size="10.50">10</text><rect x="9.83" y="-6.28" width="4.80" height="0.55" stroke="none"/><text x="15.06" y="-3.9" font-size="7.50">12</text></g><g transform="translate(24.2,47.04) rotate(-90) translate(-11.05,0)"><text x="-0.94" y="0" font-size="10.50">10</text><rect x="9.83" y="-6.28" width="4.80" height="0.55" stroke="none"/><text x="15.06" y="-3.9" font-size="7.50">11</text></g><g transform="translate(24.2,23.00) rotate(-90) translate(-11.13,0)"><text x="-0.94" y="0" font-size="10.50">10</text><rect x="9.83" y="-6.28" width="4.80" height="0.55" stroke="none"/><text x="15.06" y="-3.9" font-size="7.50">10</text></g><g transform="translate(10.9,121.20) rotate(-90)"><text x="0.00" y="0.00" font-size="11.20">Ψ</text><text x="11.22" y="0.00" font-size="12.00">(</text><text x="16.72" y="0.00" font-size="12.00">erg</text><text x="32.12" y="0.00" font-size="12.00">s</text><rect x="38.40" y="-7.30" width="5.40" height="0.60" stroke="none"/><text x="44.49" y="-4.80" font-size="7.80">2</text><text x="50.02" y="0.00" font-size="12.00">cm</text><rect x="66.10" y="-7.30" width="5.50" height="0.60" stroke="none"/><text x="72.69" y="-4.80" font-size="7.80">2</text><text x="78.04" y="0.00" font-size="12.00">)</text></g><g transform="translate(24.2,303.70) rotate(-90) translate(-11.09,0)"><text x="-0.94" y="0" font-size="10.50">10</text><rect x="9.83" y="-6.28" width="4.80" height="0.55" stroke="none"/><text x="15.06" y="-3.9" font-size="7.50">15</text></g><g transform="translate(24.2,279.66) rotate(-90) translate(-11.17,0)"><text x="-0.94" y="0" font-size="10.50">10</text><rect x="9.83" y="-6.28" width="4.80" height="0.55" stroke="none"/><text x="15.06" y="-3.9" font-size="7.50">14</text></g><g transform="translate(24.2,255.62) rotate(-90) translate(-11.13,0)"><text x="-0.94" y="0" font-size="10.50">10</text><rect x="9.83" y="-6.28" width="4.80" height="0.55" stroke="none"/><text x="15.06" y="-3.9" font-size="7.50">13</text></g><g transform="translate(24.2,231.58) rotate(-90) translate(-11.09,0)"><text x="-0.94" y="0" font-size="10.50">10</text><rect x="9.83" y="-6.28" width="4.80" height="0.55" stroke="none"/><text x="15.06" y="-3.9" font-size="7.50">12</text></g><g transform="translate(24.2,207.54) rotate(-90) translate(-11.05,0)"><text x="-0.94" y="0" font-size="10.50">10</text><rect x="9.83" y="-6.28" width="4.80" height="0.55" stroke="none"/><text x="15.06" y="-3.9" font-size="7.50">11</text></g><g transform="translate(24.2,183.50) rotate(-90) translate(-11.13,0)"><text x="-0.94" y="0" font-size="10.50">10</text><rect x="9.83" y="-6.28" width="4.80" height="0.55" stroke="none"/><text x="15.06" y="-3.9" font-size="7.50">10</text></g><g transform="translate(10.9,281.70) rotate(-90)"><text x="0.00" y="0.00" font-size="11.20">Ψ</text><text x="11.22" y="0.00" font-size="12.00">(</text><text x="16.72" y="0.00" font-size="12.00">erg</text><text x="32.12" y="0.00" font-size="12.00">s</text><rect x="38.40" y="-7.30" width="5.40" height="0.60" stroke="none"/><text x="44.49" y="-4.80" font-size="7.80">2</text><text x="50.02" y="0.00" font-size="12.00">cm</text><rect x="66.10" y="-7.30" width="5.50" height="0.60" stroke="none"/><text x="72.69" y="-4.80" font-size="7.80">2</text><text x="78.04" y="0.00" font-size="12.00">)</text></g></g>
<g font-family='"Liberation Serif", serif' fill="#000" stroke="#000" stroke-width="0.15"><text x="40.70" y="16.10" font-size="11.50" font-style="italic">H</text><text x="49.90" y="16.10" font-size="11.50" font-style="italic">S</text><text x="56.40" y="16.10" font-size="11.50" font-style="italic">T</text><text x="67.75" y="16.10" font-size="11.50" font-style="italic">λ</text><text x="73.60" y="16.10" font-size="11.50">1158</text><text x="98.30" y="16.10" font-size="11.50">Å</text><text x="207.80" y="16.20" font-size="11.70">UVW2</text><text x="375.10" y="16.50" font-size="11.50" font-style="italic">g</text><line x1="383.1" y1="7.5" x2="381.4" y2="11.0" stroke="#000" stroke-width="0.9" stroke-linecap="round"/><text x="543.60" y="16.60" font-size="12.00" font-style="italic">z</text><line x1="551.2" y1="7.5" x2="549.5" y2="11.0" stroke="#000" stroke-width="0.9" stroke-linecap="round"/><text x="86.55" y="137.00" font-size="11.50" font-style="italic">a</text><text x="93.40" y="134.80" font-size="7.50">*</text><rect x="101.00" y="132.60" width="6.90" height="0.70" stroke="none"/><rect x="101.00" y="134.90" width="6.90" height="0.70" stroke="none"/><text x="111.64" y="137.10" font-size="11.60">0</text><text x="86.55" y="297.50" font-size="11.50" font-style="italic">a</text><text x="93.40" y="295.30" font-size="7.50">*</text><rect x="101.00" y="293.10" width="6.90" height="0.70" stroke="none"/><rect x="101.00" y="295.40" width="6.90" height="0.70" stroke="none"/><text x="112.26" y="297.60" font-size="11.60">1</text><text x="343.70" y="342.80" font-size="13.00">Time (day)</text><line x1="142" x2="158.2" y1="10.10" y2="10.10" stroke="#262626" stroke-width="1.25"/><text x="163.80" y="12.90" font-size="7.50" font-style="italic">θ</text><rect x="170.75" y="9.12" width="5.00" height="0.75" stroke="none"/><rect x="170.75" y="11.12" width="5.00" height="0.75" stroke="none"/><text x="178.45" y="12.90" font-size="7.50">5</text><text x="182.20" y="12.90" font-size="7.50">°</text><line x1="142" x2="158.2" y1="20.95" y2="20.95" stroke="#6a8ff0" stroke-width="1.25"/><text x="163.80" y="23.75" font-size="7.50" font-style="italic">θ</text><rect x="170.75" y="20.12" width="5.00" height="0.75" stroke="none"/><rect x="170.75" y="22.12" width="5.00" height="0.75" stroke="none"/><text x="178.45" y="23.75" font-size="7.50">20</text><text x="185.95" y="23.75" font-size="7.50">°</text><line x1="142" x2="158.2" y1="31.80" y2="31.80" stroke="#ff3344" stroke-width="1.25"/><text x="163.80" y="34.60" font-size="7.50" font-style="italic">θ</text><rect x="170.75" y="31.12" width="5.00" height="0.75" stroke="none"/><rect x="170.75" y="33.12" width="5.00" height="0.75" stroke="none"/><text x="178.45" y="34.60" font-size="7.50">40</text><text x="185.95" y="34.60" font-size="7.50">°</text><line x1="142" x2="158.2" y1="42.65" y2="42.65" stroke="#3d9b3d" stroke-width="1.25"/><text x="163.80" y="45.45" font-size="7.50" font-style="italic">θ</text><rect x="170.75" y="42.12" width="5.00" height="0.75" stroke="none"/><rect x="170.75" y="44.12" width="5.00" height="0.75" stroke="none"/><text x="178.45" y="45.45" font-size="7.50">60</text><text x="185.95" y="45.45" font-size="7.50">°</text><line x1="142" x2="158.2" y1="53.50" y2="53.50" stroke="#ff9740" stroke-width="1.25"/><text x="163.80" y="56.30" font-size="7.50" font-style="italic">θ</text><rect x="170.75" y="53.12" width="5.00" height="0.75" stroke="none"/><rect x="170.75" y="55.12" width="5.00" height="0.75" stroke="none"/><text x="178.45" y="56.30" font-size="7.50">80</text><text x="185.95" y="56.30" font-size="7.50">°</text></g>
</svg>
</body></html>
